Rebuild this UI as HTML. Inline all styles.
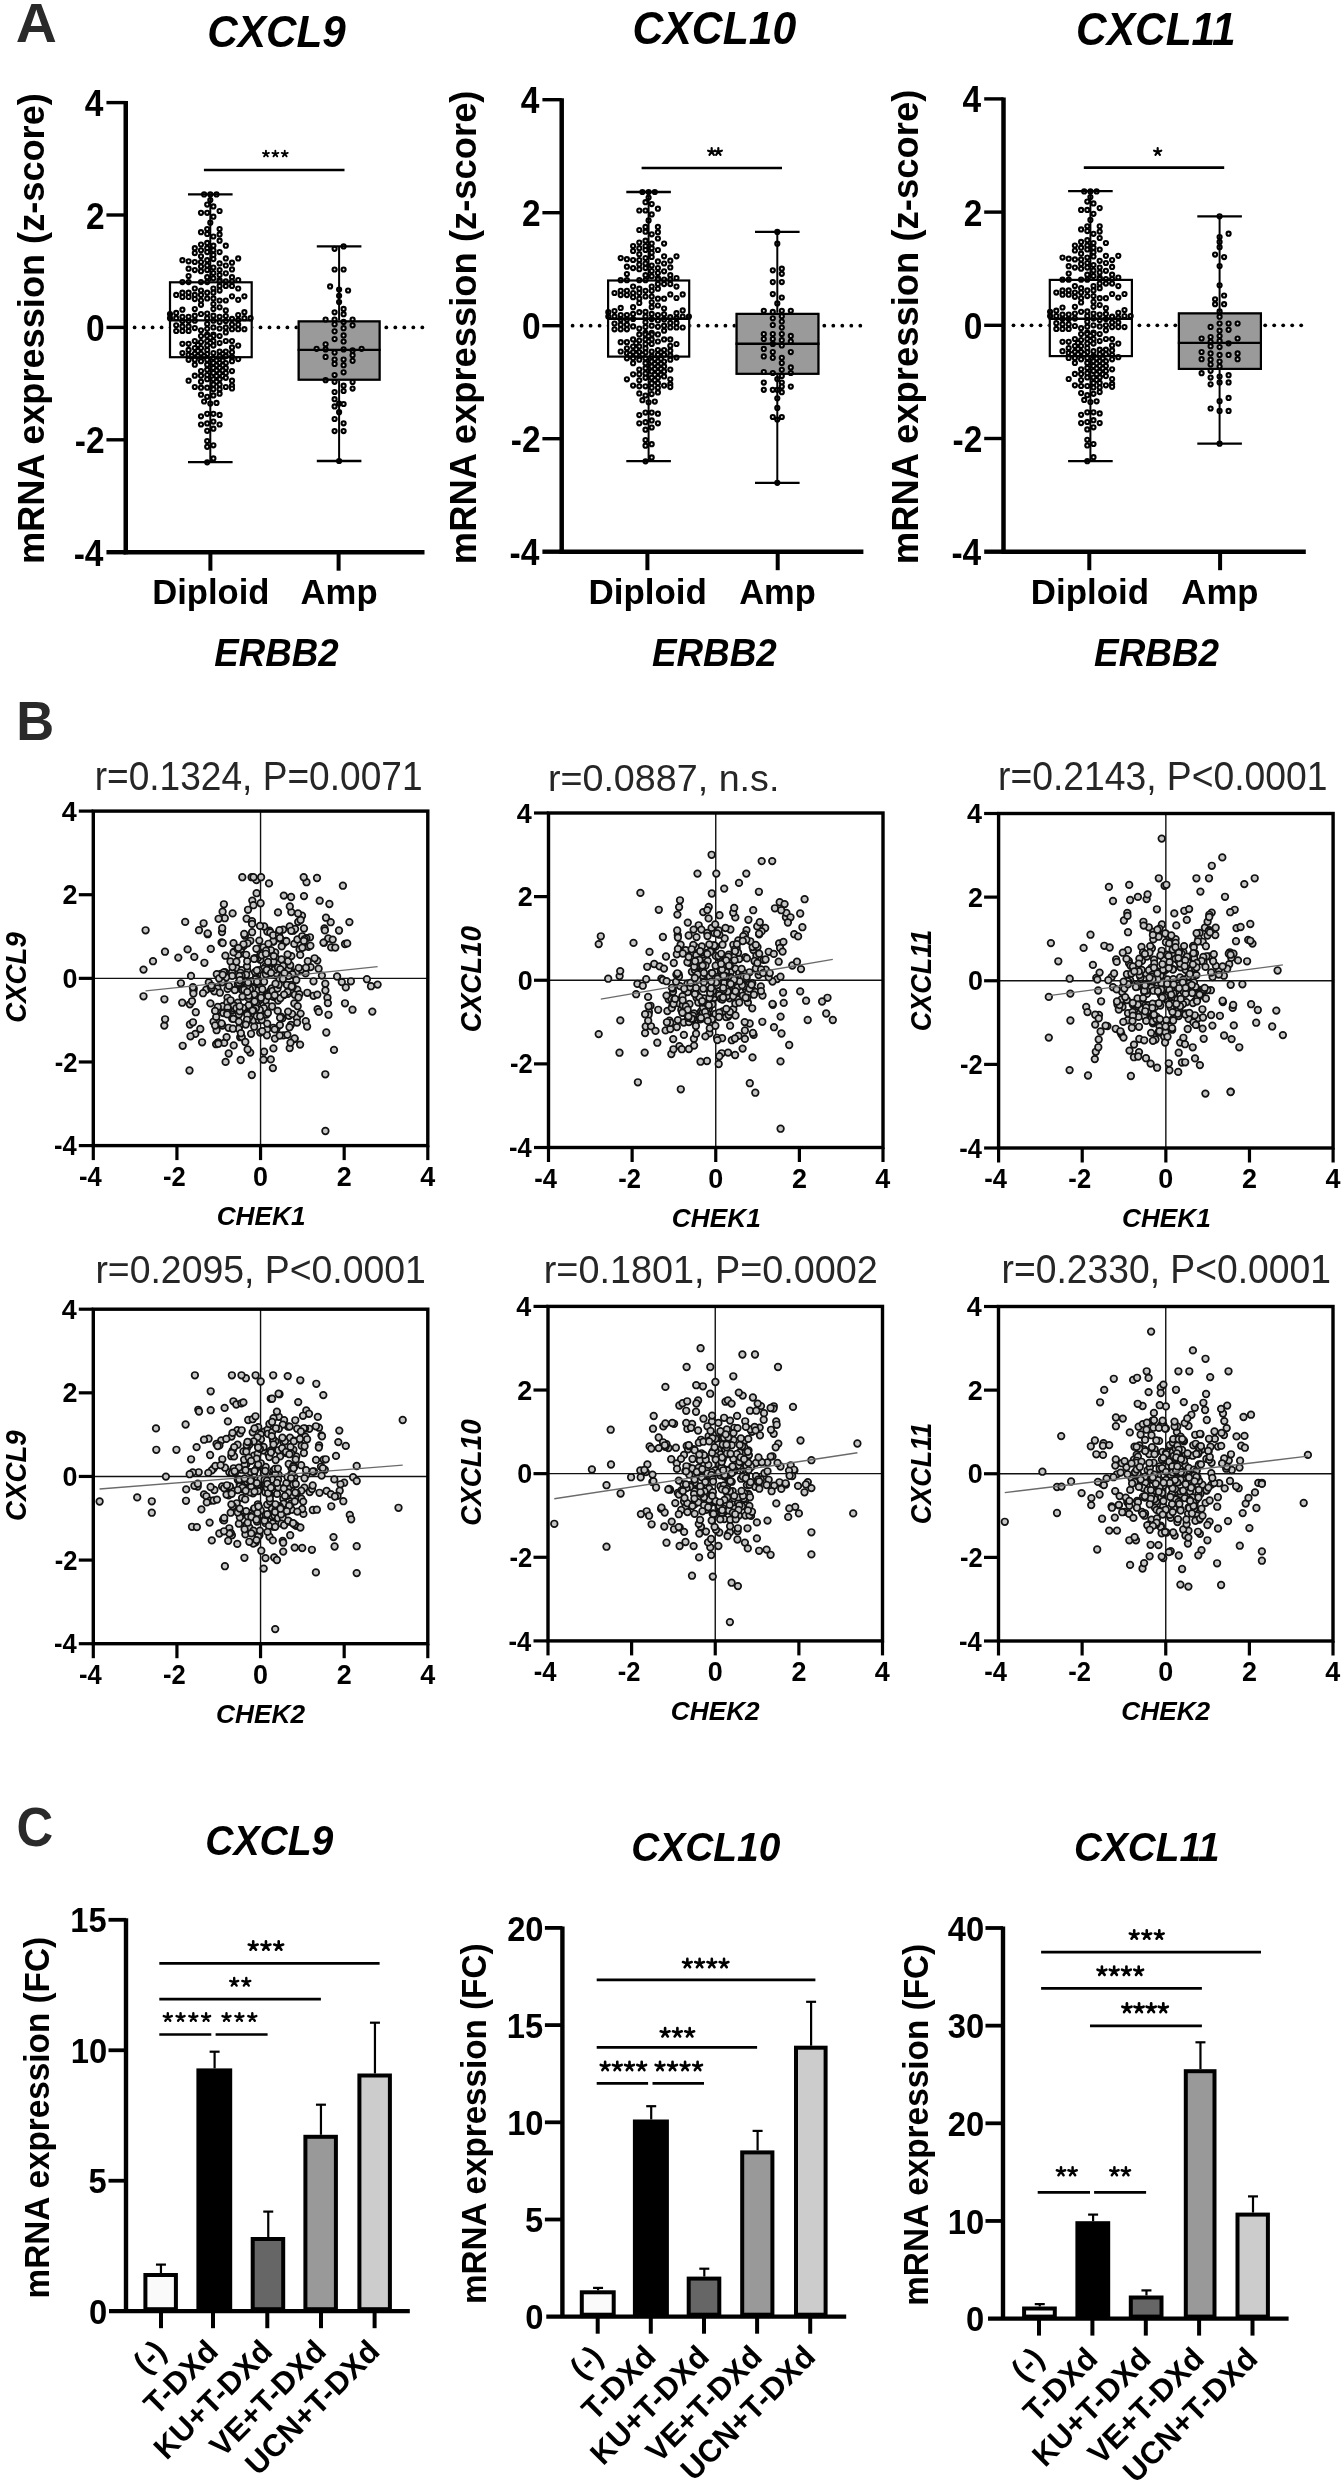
<!DOCTYPE html>
<html><head><meta charset="utf-8"><style>html,body{margin:0;padding:0;background:#fff;}svg{display:block;}#w{filter:grayscale(1);}</style></head>
<body><div id="w"><svg width="1342" height="2485" viewBox="0 0 1342 2485">
<rect width="1342" height="2485" fill="#fff"/>
<text font-family="Liberation Sans, sans-serif" font-weight="bold" font-size="56.40" fill="#2a2a2a" transform="translate(15.78,42.00) scale(1.0096,1)">A</text>
<text font-family="Liberation Sans, sans-serif" font-weight="bold" font-size="55.38" fill="#2a2a2a" transform="translate(16.19,740.30) scale(0.9475,1)">B</text>
<text font-family="Liberation Sans, sans-serif" font-weight="bold" font-size="55.85" fill="#2a2a2a" transform="translate(16.42,1845.80) scale(0.9091,1)">C</text>
<text font-family="Liberation Sans, sans-serif" font-weight="bold" font-style="italic" font-size="45.11" fill="#000" transform="translate(207.24,46.50) scale(0.9368,1)">CXCL9</text>
<text font-family="Liberation Sans, sans-serif" font-weight="bold" font-size="37.50" fill="#000" transform="translate(44.30,564.08) rotate(-90) scale(0.9648,1)">mRNA expression (z-score)</text>
<g fill="#000"><circle cx="134.6" cy="327.4" r="1.9"/><circle cx="143.6" cy="327.4" r="1.9"/><circle cx="152.6" cy="327.4" r="1.9"/><circle cx="161.6" cy="327.4" r="1.9"/><circle cx="170.6" cy="327.4" r="1.9"/><circle cx="179.6" cy="327.4" r="1.9"/><circle cx="188.5" cy="327.4" r="1.9"/><circle cx="197.5" cy="327.4" r="1.9"/><circle cx="206.5" cy="327.4" r="1.9"/><circle cx="215.5" cy="327.4" r="1.9"/><circle cx="224.5" cy="327.4" r="1.9"/><circle cx="233.5" cy="327.4" r="1.9"/><circle cx="242.5" cy="327.4" r="1.9"/><circle cx="251.5" cy="327.4" r="1.9"/><circle cx="260.5" cy="327.4" r="1.9"/><circle cx="269.5" cy="327.4" r="1.9"/><circle cx="278.4" cy="327.4" r="1.9"/><circle cx="287.4" cy="327.4" r="1.9"/><circle cx="296.4" cy="327.4" r="1.9"/><circle cx="305.4" cy="327.4" r="1.9"/><circle cx="314.4" cy="327.4" r="1.9"/><circle cx="323.4" cy="327.4" r="1.9"/><circle cx="332.4" cy="327.4" r="1.9"/><circle cx="341.4" cy="327.4" r="1.9"/><circle cx="350.4" cy="327.4" r="1.9"/><circle cx="359.4" cy="327.4" r="1.9"/><circle cx="368.3" cy="327.4" r="1.9"/><circle cx="377.3" cy="327.4" r="1.9"/><circle cx="386.3" cy="327.4" r="1.9"/><circle cx="395.3" cy="327.4" r="1.9"/><circle cx="404.3" cy="327.4" r="1.9"/><circle cx="413.3" cy="327.4" r="1.9"/><circle cx="422.3" cy="327.4" r="1.9"/></g>
<rect x="168.90" y="281.20" width="83.90" height="77.10" fill="#fff"/>
<g fill="#f4f4f4" stroke="#000" stroke-width="2.1"><circle cx="204.1" cy="194.4" r="2.05"/><circle cx="210.3" cy="194.4" r="2.05"/><circle cx="216.5" cy="194.4" r="2.05"/><circle cx="210.3" cy="200.0" r="2.05"/><circle cx="207.2" cy="204.6" r="2.05"/><circle cx="213.4" cy="206.4" r="2.05"/><circle cx="219.6" cy="211.0" r="2.05"/><circle cx="201.0" cy="212.8" r="2.05"/><circle cx="207.2" cy="212.8" r="2.05"/><circle cx="213.4" cy="216.7" r="2.05"/><circle cx="210.3" cy="222.7" r="2.05"/><circle cx="207.2" cy="229.1" r="2.05"/><circle cx="219.6" cy="229.1" r="2.05"/><circle cx="201.0" cy="232.2" r="2.05"/><circle cx="207.2" cy="233.9" r="2.05"/><circle cx="219.6" cy="234.4" r="2.05"/><circle cx="213.4" cy="236.5" r="2.05"/><circle cx="219.6" cy="240.7" r="2.05"/><circle cx="207.2" cy="242.9" r="2.05"/><circle cx="201.0" cy="244.6" r="2.05"/><circle cx="213.4" cy="245.7" r="2.05"/><circle cx="225.8" cy="245.7" r="2.05"/><circle cx="194.8" cy="248.2" r="2.05"/><circle cx="207.2" cy="248.2" r="2.05"/><circle cx="201.0" cy="250.3" r="2.05"/><circle cx="213.4" cy="250.3" r="2.05"/><circle cx="207.2" cy="252.1" r="2.05"/><circle cx="219.6" cy="252.1" r="2.05"/><circle cx="194.8" cy="253.1" r="2.05"/><circle cx="213.4" cy="254.9" r="2.05"/><circle cx="201.0" cy="256.3" r="2.05"/><circle cx="238.2" cy="258.4" r="2.05"/><circle cx="225.8" cy="258.4" r="2.05"/><circle cx="213.4" cy="259.1" r="2.05"/><circle cx="182.4" cy="260.2" r="2.05"/><circle cx="207.2" cy="260.2" r="2.05"/><circle cx="188.6" cy="261.3" r="2.05"/><circle cx="194.8" cy="262.0" r="2.05"/><circle cx="201.0" cy="262.0" r="2.05"/><circle cx="232.0" cy="262.7" r="2.05"/><circle cx="219.6" cy="263.4" r="2.05"/><circle cx="207.2" cy="265.5" r="2.05"/><circle cx="225.8" cy="265.5" r="2.05"/><circle cx="201.0" cy="266.6" r="2.05"/><circle cx="213.4" cy="267.6" r="2.05"/><circle cx="188.6" cy="268.7" r="2.05"/><circle cx="232.0" cy="269.4" r="2.05"/><circle cx="194.8" cy="270.1" r="2.05"/><circle cx="207.2" cy="270.1" r="2.05"/><circle cx="219.6" cy="270.1" r="2.05"/><circle cx="201.0" cy="271.2" r="2.05"/><circle cx="213.4" cy="273.0" r="2.05"/><circle cx="225.8" cy="273.3" r="2.05"/><circle cx="219.6" cy="275.1" r="2.05"/><circle cx="188.6" cy="276.1" r="2.05"/><circle cx="207.2" cy="277.2" r="2.05"/><circle cx="232.0" cy="277.2" r="2.05"/><circle cx="213.4" cy="278.3" r="2.05"/><circle cx="219.6" cy="280.0" r="2.05"/><circle cx="238.2" cy="280.0" r="2.05"/><circle cx="225.8" cy="281.4" r="2.05"/><circle cx="232.0" cy="281.4" r="2.05"/><circle cx="219.6" cy="281.4" r="2.05"/><circle cx="182.4" cy="282.1" r="2.05"/><circle cx="188.6" cy="282.1" r="2.05"/><circle cx="201.0" cy="282.1" r="2.05"/><circle cx="207.2" cy="282.1" r="2.05"/><circle cx="219.6" cy="286.0" r="2.05"/><circle cx="225.8" cy="286.0" r="2.05"/><circle cx="232.0" cy="286.0" r="2.05"/><circle cx="194.8" cy="288.5" r="2.05"/><circle cx="213.4" cy="288.5" r="2.05"/><circle cx="238.2" cy="288.5" r="2.05"/><circle cx="201.0" cy="290.6" r="2.05"/><circle cx="219.6" cy="290.6" r="2.05"/><circle cx="182.4" cy="292.7" r="2.05"/><circle cx="188.6" cy="292.7" r="2.05"/><circle cx="207.2" cy="292.7" r="2.05"/><circle cx="213.4" cy="292.7" r="2.05"/><circle cx="176.2" cy="294.9" r="2.05"/><circle cx="194.8" cy="294.9" r="2.05"/><circle cx="201.0" cy="294.9" r="2.05"/><circle cx="232.0" cy="296.3" r="2.05"/><circle cx="244.4" cy="296.3" r="2.05"/><circle cx="182.4" cy="297.0" r="2.05"/><circle cx="188.6" cy="297.0" r="2.05"/><circle cx="207.2" cy="298.4" r="2.05"/><circle cx="213.4" cy="298.4" r="2.05"/><circle cx="194.8" cy="299.1" r="2.05"/><circle cx="238.2" cy="299.8" r="2.05"/><circle cx="201.0" cy="300.5" r="2.05"/><circle cx="219.6" cy="300.5" r="2.05"/><circle cx="225.8" cy="300.5" r="2.05"/><circle cx="213.4" cy="304.1" r="2.05"/><circle cx="201.0" cy="304.8" r="2.05"/><circle cx="219.6" cy="307.3" r="2.05"/><circle cx="213.4" cy="309.0" r="2.05"/><circle cx="194.8" cy="309.0" r="2.05"/><circle cx="182.4" cy="309.7" r="2.05"/><circle cx="225.8" cy="310.4" r="2.05"/><circle cx="244.4" cy="312.2" r="2.05"/><circle cx="176.2" cy="312.9" r="2.05"/><circle cx="207.2" cy="313.6" r="2.05"/><circle cx="170.0" cy="314.0" r="2.05"/><circle cx="201.0" cy="314.0" r="2.05"/><circle cx="238.2" cy="315.0" r="2.05"/><circle cx="213.4" cy="315.7" r="2.05"/><circle cx="194.8" cy="315.7" r="2.05"/><circle cx="225.8" cy="316.1" r="2.05"/><circle cx="182.4" cy="316.8" r="2.05"/><circle cx="188.6" cy="316.8" r="2.05"/><circle cx="219.6" cy="316.8" r="2.05"/><circle cx="170.0" cy="318.2" r="2.05"/><circle cx="176.2" cy="318.2" r="2.05"/><circle cx="207.2" cy="318.2" r="2.05"/><circle cx="244.4" cy="318.2" r="2.05"/><circle cx="250.6" cy="318.2" r="2.05"/><circle cx="232.0" cy="318.9" r="2.05"/><circle cx="238.2" cy="320.0" r="2.05"/><circle cx="213.4" cy="320.7" r="2.05"/><circle cx="194.8" cy="320.7" r="2.05"/><circle cx="182.4" cy="321.1" r="2.05"/><circle cx="188.6" cy="321.1" r="2.05"/><circle cx="225.8" cy="321.1" r="2.05"/><circle cx="219.6" cy="322.1" r="2.05"/><circle cx="207.2" cy="323.9" r="2.05"/><circle cx="232.0" cy="324.6" r="2.05"/><circle cx="238.2" cy="324.6" r="2.05"/><circle cx="176.2" cy="325.3" r="2.05"/><circle cx="182.4" cy="326.4" r="2.05"/><circle cx="188.6" cy="326.4" r="2.05"/><circle cx="225.8" cy="327.4" r="2.05"/><circle cx="213.4" cy="327.4" r="2.05"/><circle cx="194.8" cy="328.1" r="2.05"/><circle cx="219.6" cy="328.5" r="2.05"/><circle cx="207.2" cy="328.8" r="2.05"/><circle cx="232.0" cy="329.2" r="2.05"/><circle cx="238.2" cy="329.2" r="2.05"/><circle cx="244.4" cy="329.2" r="2.05"/><circle cx="201.0" cy="330.3" r="2.05"/><circle cx="176.2" cy="331.0" r="2.05"/><circle cx="182.4" cy="331.0" r="2.05"/><circle cx="188.6" cy="331.0" r="2.05"/><circle cx="225.8" cy="332.4" r="2.05"/><circle cx="207.2" cy="334.5" r="2.05"/><circle cx="213.4" cy="334.5" r="2.05"/><circle cx="201.0" cy="336.1" r="2.05"/><circle cx="207.2" cy="336.1" r="2.05"/><circle cx="213.4" cy="336.1" r="2.05"/><circle cx="219.6" cy="336.1" r="2.05"/><circle cx="210.3" cy="337.8" r="2.05"/><circle cx="207.2" cy="341.0" r="2.05"/><circle cx="213.4" cy="341.0" r="2.05"/><circle cx="194.8" cy="341.0" r="2.05"/><circle cx="225.8" cy="341.0" r="2.05"/><circle cx="232.0" cy="341.0" r="2.05"/><circle cx="201.0" cy="342.1" r="2.05"/><circle cx="210.3" cy="343.1" r="2.05"/><circle cx="219.6" cy="343.1" r="2.05"/><circle cx="182.4" cy="343.8" r="2.05"/><circle cx="188.6" cy="343.8" r="2.05"/><circle cx="197.9" cy="344.9" r="2.05"/><circle cx="207.2" cy="345.6" r="2.05"/><circle cx="213.4" cy="345.6" r="2.05"/><circle cx="238.2" cy="345.6" r="2.05"/><circle cx="232.0" cy="347.4" r="2.05"/><circle cx="201.0" cy="348.1" r="2.05"/><circle cx="194.8" cy="348.1" r="2.05"/><circle cx="188.6" cy="349.9" r="2.05"/><circle cx="207.2" cy="349.9" r="2.05"/><circle cx="197.9" cy="350.9" r="2.05"/><circle cx="219.6" cy="351.6" r="2.05"/><circle cx="225.8" cy="351.6" r="2.05"/><circle cx="232.0" cy="352.3" r="2.05"/><circle cx="182.4" cy="353.1" r="2.05"/><circle cx="213.4" cy="353.1" r="2.05"/><circle cx="194.8" cy="353.8" r="2.05"/><circle cx="201.0" cy="353.8" r="2.05"/><circle cx="207.2" cy="354.1" r="2.05"/><circle cx="222.7" cy="354.1" r="2.05"/><circle cx="188.6" cy="354.8" r="2.05"/><circle cx="191.7" cy="356.2" r="2.05"/><circle cx="197.9" cy="356.2" r="2.05"/><circle cx="204.1" cy="356.2" r="2.05"/><circle cx="225.8" cy="356.2" r="2.05"/><circle cx="219.6" cy="356.2" r="2.05"/><circle cx="232.0" cy="356.9" r="2.05"/><circle cx="213.4" cy="358.0" r="2.05"/><circle cx="238.2" cy="359.1" r="2.05"/><circle cx="188.6" cy="359.8" r="2.05"/><circle cx="194.8" cy="359.8" r="2.05"/><circle cx="207.2" cy="359.8" r="2.05"/><circle cx="216.5" cy="360.5" r="2.05"/><circle cx="222.7" cy="360.5" r="2.05"/><circle cx="201.0" cy="361.2" r="2.05"/><circle cx="232.0" cy="361.2" r="2.05"/><circle cx="213.4" cy="363.0" r="2.05"/><circle cx="219.6" cy="363.0" r="2.05"/><circle cx="225.8" cy="363.0" r="2.05"/><circle cx="194.8" cy="364.7" r="2.05"/><circle cx="207.2" cy="364.7" r="2.05"/><circle cx="216.5" cy="365.4" r="2.05"/><circle cx="222.7" cy="365.4" r="2.05"/><circle cx="213.4" cy="367.9" r="2.05"/><circle cx="219.6" cy="367.9" r="2.05"/><circle cx="225.8" cy="367.9" r="2.05"/><circle cx="207.2" cy="369.7" r="2.05"/><circle cx="216.5" cy="370.4" r="2.05"/><circle cx="222.7" cy="370.4" r="2.05"/><circle cx="201.0" cy="371.1" r="2.05"/><circle cx="232.0" cy="371.1" r="2.05"/><circle cx="213.4" cy="372.9" r="2.05"/><circle cx="225.8" cy="372.9" r="2.05"/><circle cx="219.6" cy="373.6" r="2.05"/><circle cx="207.2" cy="375.0" r="2.05"/><circle cx="194.8" cy="375.7" r="2.05"/><circle cx="201.0" cy="375.7" r="2.05"/><circle cx="216.5" cy="376.1" r="2.05"/><circle cx="222.7" cy="376.1" r="2.05"/><circle cx="225.8" cy="377.8" r="2.05"/><circle cx="207.2" cy="379.2" r="2.05"/><circle cx="213.4" cy="379.2" r="2.05"/><circle cx="219.6" cy="379.2" r="2.05"/><circle cx="188.6" cy="380.7" r="2.05"/><circle cx="232.0" cy="380.7" r="2.05"/><circle cx="201.0" cy="381.7" r="2.05"/><circle cx="216.5" cy="381.7" r="2.05"/><circle cx="213.4" cy="384.6" r="2.05"/><circle cx="219.6" cy="384.6" r="2.05"/><circle cx="232.0" cy="385.6" r="2.05"/><circle cx="194.8" cy="387.0" r="2.05"/><circle cx="225.8" cy="387.0" r="2.05"/><circle cx="201.0" cy="387.7" r="2.05"/><circle cx="207.2" cy="387.7" r="2.05"/><circle cx="232.0" cy="388.5" r="2.05"/><circle cx="213.4" cy="389.2" r="2.05"/><circle cx="219.6" cy="389.2" r="2.05"/><circle cx="219.6" cy="393.7" r="2.05"/><circle cx="201.0" cy="394.7" r="2.05"/><circle cx="213.4" cy="395.4" r="2.05"/><circle cx="207.2" cy="396.8" r="2.05"/><circle cx="204.1" cy="401.5" r="2.05"/><circle cx="216.5" cy="402.9" r="2.05"/><circle cx="210.3" cy="403.6" r="2.05"/><circle cx="207.2" cy="413.8" r="2.05"/><circle cx="213.4" cy="413.8" r="2.05"/><circle cx="219.6" cy="414.9" r="2.05"/><circle cx="201.0" cy="416.3" r="2.05"/><circle cx="213.4" cy="421.6" r="2.05"/><circle cx="207.2" cy="423.4" r="2.05"/><circle cx="201.0" cy="424.5" r="2.05"/><circle cx="219.6" cy="424.5" r="2.05"/><circle cx="213.4" cy="428.7" r="2.05"/><circle cx="207.2" cy="430.8" r="2.05"/><circle cx="207.2" cy="441.1" r="2.05"/><circle cx="213.4" cy="445.3" r="2.05"/><circle cx="207.2" cy="446.8" r="2.05"/><circle cx="213.4" cy="458.4" r="2.05"/><circle cx="207.2" cy="462.3" r="2.05"/></g>
<rect x="170.00" y="282.30" width="81.70" height="74.90" fill="none" stroke="#000" stroke-width="2.2"/>
<line x1="210.30" y1="194.30" x2="210.30" y2="281.20" stroke="#000" stroke-width="2.0" />
<line x1="210.30" y1="358.30" x2="210.30" y2="462.20" stroke="#000" stroke-width="2.0" />
<line x1="188.00" y1="194.30" x2="232.60" y2="194.30" stroke="#000" stroke-width="2.3" />
<line x1="188.00" y1="462.20" x2="232.60" y2="462.20" stroke="#000" stroke-width="2.3" />
<line x1="168.90" y1="320.40" x2="252.80" y2="320.40" stroke="#000" stroke-width="2.4" />
<rect x="297.60" y="320.30" width="83.10" height="60.50" fill="#9a9a9a"/>
<g fill="#e0e0e0" stroke="#000" stroke-width="2.1"><circle cx="343.6" cy="246.4" r="2.05"/><circle cx="334.6" cy="248.8" r="2.05"/><circle cx="334.6" cy="269.5" r="2.05"/><circle cx="343.6" cy="269.5" r="2.05"/><circle cx="330.1" cy="286.4" r="2.05"/><circle cx="339.1" cy="289.6" r="2.05"/><circle cx="348.1" cy="290.5" r="2.05"/><circle cx="339.1" cy="295.8" r="2.05"/><circle cx="339.1" cy="302.1" r="2.05"/><circle cx="343.6" cy="308.9" r="2.05"/><circle cx="334.6" cy="312.3" r="2.05"/><circle cx="343.6" cy="314.2" r="2.05"/><circle cx="325.6" cy="319.5" r="2.05"/><circle cx="334.6" cy="319.5" r="2.05"/><circle cx="352.6" cy="319.5" r="2.05"/><circle cx="343.6" cy="321.9" r="2.05"/><circle cx="334.6" cy="324.3" r="2.05"/><circle cx="352.6" cy="325.3" r="2.05"/><circle cx="343.6" cy="328.2" r="2.05"/><circle cx="334.6" cy="331.3" r="2.05"/><circle cx="343.6" cy="335.4" r="2.05"/><circle cx="334.6" cy="339.1" r="2.05"/><circle cx="343.6" cy="341.5" r="2.05"/><circle cx="325.6" cy="344.3" r="2.05"/><circle cx="316.6" cy="348.8" r="2.05"/><circle cx="361.6" cy="348.8" r="2.05"/><circle cx="325.6" cy="349.4" r="2.05"/><circle cx="343.6" cy="349.4" r="2.05"/><circle cx="352.6" cy="350.4" r="2.05"/><circle cx="334.6" cy="352.6" r="2.05"/><circle cx="352.6" cy="355.2" r="2.05"/><circle cx="325.6" cy="356.9" r="2.05"/><circle cx="334.6" cy="359.6" r="2.05"/><circle cx="343.6" cy="359.6" r="2.05"/><circle cx="352.6" cy="360.8" r="2.05"/><circle cx="334.6" cy="363.9" r="2.05"/><circle cx="343.6" cy="365.2" r="2.05"/><circle cx="343.6" cy="372.3" r="2.05"/><circle cx="334.6" cy="375.0" r="2.05"/><circle cx="325.6" cy="380.2" r="2.05"/><circle cx="334.6" cy="381.8" r="2.05"/><circle cx="352.6" cy="382.0" r="2.05"/><circle cx="343.6" cy="385.7" r="2.05"/><circle cx="352.6" cy="388.6" r="2.05"/><circle cx="343.6" cy="391.0" r="2.05"/><circle cx="334.6" cy="392.0" r="2.05"/><circle cx="334.6" cy="399.2" r="2.05"/><circle cx="339.1" cy="403.5" r="2.05"/><circle cx="343.6" cy="404.0" r="2.05"/><circle cx="334.6" cy="406.4" r="2.05"/><circle cx="339.1" cy="412.2" r="2.05"/><circle cx="334.6" cy="419.0" r="2.05"/><circle cx="343.6" cy="423.3" r="2.05"/><circle cx="334.6" cy="431.1" r="2.05"/><circle cx="343.6" cy="431.1" r="2.05"/><circle cx="339.1" cy="461.0" r="2.05"/></g>
<rect x="298.70" y="321.40" width="80.90" height="58.30" fill="none" stroke="#000" stroke-width="2.2"/>
<line x1="339.10" y1="246.40" x2="339.10" y2="320.30" stroke="#000" stroke-width="2.0" />
<line x1="339.10" y1="380.80" x2="339.10" y2="461.00" stroke="#000" stroke-width="2.0" />
<line x1="316.80" y1="246.40" x2="361.40" y2="246.40" stroke="#000" stroke-width="2.3" />
<line x1="316.80" y1="461.00" x2="361.40" y2="461.00" stroke="#000" stroke-width="2.3" />
<line x1="297.60" y1="349.90" x2="380.70" y2="349.90" stroke="#000" stroke-width="2.4" />
<line x1="125.75" y1="101.10" x2="125.75" y2="554.30" stroke="#000" stroke-width="4.5" />
<line x1="123.55" y1="552.20" x2="424.50" y2="552.20" stroke="#000" stroke-width="4.4" />
<line x1="106.45" y1="102.60" x2="125.75" y2="102.60" stroke="#000" stroke-width="3.4" />
<line x1="106.45" y1="215.00" x2="125.75" y2="215.00" stroke="#000" stroke-width="3.4" />
<line x1="106.45" y1="327.40" x2="125.75" y2="327.40" stroke="#000" stroke-width="3.4" />
<line x1="106.45" y1="439.80" x2="125.75" y2="439.80" stroke="#000" stroke-width="3.4" />
<line x1="106.45" y1="552.20" x2="125.75" y2="552.20" stroke="#000" stroke-width="4.4" />
<line x1="210.40" y1="552.20" x2="210.40" y2="570.70" stroke="#000" stroke-width="4.0" />
<line x1="338.60" y1="552.20" x2="338.60" y2="570.70" stroke="#000" stroke-width="4.0" />
<text font-family="Liberation Sans, sans-serif" font-weight="bold" font-size="36.80" fill="#000" transform="translate(84.81,116.10) scale(0.9100,1)">4</text>
<text font-family="Liberation Sans, sans-serif" font-weight="bold" font-size="36.80" fill="#000" transform="translate(85.97,228.50) scale(0.9100,1)">2</text>
<text font-family="Liberation Sans, sans-serif" font-weight="bold" font-size="36.80" fill="#000" transform="translate(86.00,340.90) scale(0.9100,1)">0</text>
<text font-family="Liberation Sans, sans-serif" font-weight="bold" font-size="36.80" fill="#000" transform="translate(74.81,453.30) scale(0.9100,1)">-2</text>
<text font-family="Liberation Sans, sans-serif" font-weight="bold" font-size="36.80" fill="#000" transform="translate(73.65,565.70) scale(0.9100,1)">-4</text>
<text font-family="Liberation Sans, sans-serif" font-weight="bold" font-size="34.59" fill="#000" transform="translate(152.18,603.50) scale(1.0008,1)">Diploid</text>
<text font-family="Liberation Sans, sans-serif" font-weight="bold" font-size="34.59" fill="#000" transform="translate(300.54,603.50) scale(1.0028,1)">Amp</text>
<text font-family="Liberation Sans, sans-serif" font-weight="bold" font-style="italic" font-size="38.10" fill="#000" transform="translate(214.26,665.70) scale(0.9628,1)">ERBB2</text>
<line x1="203.90" y1="170.00" x2="344.50" y2="170.00" stroke="#000" stroke-width="2.6" />
<path d="M265.95,153.80L265.95,150.61M265.95,153.80L268.99,152.82M265.95,153.80L262.91,152.82M265.95,153.80L264.07,156.39M265.95,153.80L267.83,156.39M275.35,153.80L275.35,150.61M275.35,153.80L278.39,152.82M275.35,153.80L272.31,152.82M275.35,153.80L273.47,156.39M275.35,153.80L277.23,156.39M284.75,153.80L284.75,150.61M284.75,153.80L287.79,152.82M284.75,153.80L281.71,152.82M284.75,153.80L282.87,156.39M284.75,153.80L286.63,156.39" stroke="#000" stroke-width="1.82" stroke-linecap="round" fill="none"/>
<text font-family="Liberation Sans, sans-serif" font-weight="bold" font-style="italic" font-size="45.83" fill="#000" transform="translate(632.51,43.90) scale(0.9321,1)">CXCL10</text>
<text font-family="Liberation Sans, sans-serif" font-weight="bold" font-size="37.50" fill="#000" transform="translate(476.20,564.20) rotate(-90) scale(0.9702,1)">mRNA expression (z-score)</text>
<g fill="#000"><circle cx="572.6" cy="325.7" r="1.9"/><circle cx="581.6" cy="325.7" r="1.9"/><circle cx="590.6" cy="325.7" r="1.9"/><circle cx="599.6" cy="325.7" r="1.9"/><circle cx="608.6" cy="325.7" r="1.9"/><circle cx="617.6" cy="325.7" r="1.9"/><circle cx="626.5" cy="325.7" r="1.9"/><circle cx="635.5" cy="325.7" r="1.9"/><circle cx="644.5" cy="325.7" r="1.9"/><circle cx="653.5" cy="325.7" r="1.9"/><circle cx="662.5" cy="325.7" r="1.9"/><circle cx="671.5" cy="325.7" r="1.9"/><circle cx="680.5" cy="325.7" r="1.9"/><circle cx="689.5" cy="325.7" r="1.9"/><circle cx="698.5" cy="325.7" r="1.9"/><circle cx="707.5" cy="325.7" r="1.9"/><circle cx="716.4" cy="325.7" r="1.9"/><circle cx="725.4" cy="325.7" r="1.9"/><circle cx="734.4" cy="325.7" r="1.9"/><circle cx="743.4" cy="325.7" r="1.9"/><circle cx="752.4" cy="325.7" r="1.9"/><circle cx="761.4" cy="325.7" r="1.9"/><circle cx="770.4" cy="325.7" r="1.9"/><circle cx="779.4" cy="325.7" r="1.9"/><circle cx="788.4" cy="325.7" r="1.9"/><circle cx="797.4" cy="325.7" r="1.9"/><circle cx="806.3" cy="325.7" r="1.9"/><circle cx="815.3" cy="325.7" r="1.9"/><circle cx="824.3" cy="325.7" r="1.9"/><circle cx="833.3" cy="325.7" r="1.9"/><circle cx="842.3" cy="325.7" r="1.9"/><circle cx="851.3" cy="325.7" r="1.9"/><circle cx="860.3" cy="325.7" r="1.9"/></g>
<rect x="607.00" y="279.40" width="83.30" height="78.30" fill="#fff"/>
<g fill="#f4f4f4" stroke="#000" stroke-width="2.1"><circle cx="642.4" cy="192.0" r="2.05"/><circle cx="648.6" cy="192.0" r="2.05"/><circle cx="654.8" cy="192.0" r="2.05"/><circle cx="648.6" cy="197.6" r="2.05"/><circle cx="645.5" cy="202.2" r="2.05"/><circle cx="651.7" cy="204.1" r="2.05"/><circle cx="657.9" cy="208.7" r="2.05"/><circle cx="639.3" cy="210.5" r="2.05"/><circle cx="645.5" cy="210.5" r="2.05"/><circle cx="651.7" cy="214.4" r="2.05"/><circle cx="648.6" cy="220.4" r="2.05"/><circle cx="645.5" cy="226.9" r="2.05"/><circle cx="657.9" cy="226.9" r="2.05"/><circle cx="639.3" cy="230.0" r="2.05"/><circle cx="645.5" cy="231.7" r="2.05"/><circle cx="657.9" cy="232.2" r="2.05"/><circle cx="651.7" cy="234.3" r="2.05"/><circle cx="657.9" cy="238.5" r="2.05"/><circle cx="645.5" cy="240.7" r="2.05"/><circle cx="639.3" cy="242.5" r="2.05"/><circle cx="651.7" cy="243.6" r="2.05"/><circle cx="664.1" cy="243.6" r="2.05"/><circle cx="633.1" cy="246.1" r="2.05"/><circle cx="645.5" cy="246.1" r="2.05"/><circle cx="639.3" cy="248.2" r="2.05"/><circle cx="651.7" cy="248.2" r="2.05"/><circle cx="645.5" cy="250.0" r="2.05"/><circle cx="657.9" cy="250.0" r="2.05"/><circle cx="633.1" cy="251.0" r="2.05"/><circle cx="651.7" cy="252.8" r="2.05"/><circle cx="639.3" cy="254.2" r="2.05"/><circle cx="676.5" cy="256.3" r="2.05"/><circle cx="664.1" cy="256.3" r="2.05"/><circle cx="651.7" cy="257.0" r="2.05"/><circle cx="620.7" cy="258.1" r="2.05"/><circle cx="645.5" cy="258.1" r="2.05"/><circle cx="626.9" cy="259.2" r="2.05"/><circle cx="633.1" cy="260.0" r="2.05"/><circle cx="639.3" cy="260.0" r="2.05"/><circle cx="670.3" cy="260.7" r="2.05"/><circle cx="657.9" cy="261.4" r="2.05"/><circle cx="645.5" cy="263.5" r="2.05"/><circle cx="664.1" cy="263.5" r="2.05"/><circle cx="639.3" cy="264.6" r="2.05"/><circle cx="651.7" cy="265.6" r="2.05"/><circle cx="626.9" cy="266.7" r="2.05"/><circle cx="670.3" cy="267.4" r="2.05"/><circle cx="633.1" cy="268.1" r="2.05"/><circle cx="645.5" cy="268.1" r="2.05"/><circle cx="657.9" cy="268.1" r="2.05"/><circle cx="639.3" cy="269.2" r="2.05"/><circle cx="651.7" cy="271.0" r="2.05"/><circle cx="664.1" cy="271.3" r="2.05"/><circle cx="657.9" cy="273.1" r="2.05"/><circle cx="626.9" cy="274.1" r="2.05"/><circle cx="645.5" cy="275.2" r="2.05"/><circle cx="670.3" cy="275.2" r="2.05"/><circle cx="651.7" cy="276.3" r="2.05"/><circle cx="657.9" cy="278.0" r="2.05"/><circle cx="676.5" cy="278.0" r="2.05"/><circle cx="664.1" cy="279.5" r="2.05"/><circle cx="670.3" cy="279.5" r="2.05"/><circle cx="657.9" cy="279.5" r="2.05"/><circle cx="620.7" cy="280.2" r="2.05"/><circle cx="626.9" cy="280.2" r="2.05"/><circle cx="639.3" cy="280.2" r="2.05"/><circle cx="645.5" cy="280.2" r="2.05"/><circle cx="657.9" cy="284.1" r="2.05"/><circle cx="664.1" cy="284.1" r="2.05"/><circle cx="670.3" cy="284.1" r="2.05"/><circle cx="633.1" cy="286.6" r="2.05"/><circle cx="651.7" cy="286.6" r="2.05"/><circle cx="676.5" cy="286.6" r="2.05"/><circle cx="639.3" cy="288.7" r="2.05"/><circle cx="657.9" cy="288.7" r="2.05"/><circle cx="620.7" cy="290.8" r="2.05"/><circle cx="626.9" cy="290.8" r="2.05"/><circle cx="645.5" cy="290.8" r="2.05"/><circle cx="651.7" cy="290.8" r="2.05"/><circle cx="614.5" cy="293.0" r="2.05"/><circle cx="633.1" cy="293.0" r="2.05"/><circle cx="639.3" cy="293.0" r="2.05"/><circle cx="670.3" cy="294.4" r="2.05"/><circle cx="682.7" cy="294.4" r="2.05"/><circle cx="620.7" cy="295.1" r="2.05"/><circle cx="626.9" cy="295.1" r="2.05"/><circle cx="645.5" cy="296.5" r="2.05"/><circle cx="651.7" cy="296.5" r="2.05"/><circle cx="633.1" cy="297.2" r="2.05"/><circle cx="676.5" cy="298.0" r="2.05"/><circle cx="639.3" cy="298.7" r="2.05"/><circle cx="657.9" cy="298.7" r="2.05"/><circle cx="664.1" cy="298.7" r="2.05"/><circle cx="651.7" cy="302.3" r="2.05"/><circle cx="639.3" cy="303.0" r="2.05"/><circle cx="657.9" cy="305.5" r="2.05"/><circle cx="651.7" cy="307.2" r="2.05"/><circle cx="633.1" cy="307.2" r="2.05"/><circle cx="620.7" cy="307.9" r="2.05"/><circle cx="664.1" cy="308.6" r="2.05"/><circle cx="682.7" cy="310.4" r="2.05"/><circle cx="614.5" cy="311.1" r="2.05"/><circle cx="645.5" cy="311.8" r="2.05"/><circle cx="608.3" cy="312.2" r="2.05"/><circle cx="639.3" cy="312.2" r="2.05"/><circle cx="676.5" cy="313.2" r="2.05"/><circle cx="651.7" cy="313.9" r="2.05"/><circle cx="633.1" cy="313.9" r="2.05"/><circle cx="664.1" cy="314.3" r="2.05"/><circle cx="620.7" cy="315.0" r="2.05"/><circle cx="626.9" cy="315.0" r="2.05"/><circle cx="657.9" cy="315.0" r="2.05"/><circle cx="608.3" cy="316.5" r="2.05"/><circle cx="614.5" cy="316.5" r="2.05"/><circle cx="645.5" cy="316.5" r="2.05"/><circle cx="682.7" cy="316.5" r="2.05"/><circle cx="688.9" cy="316.5" r="2.05"/><circle cx="670.3" cy="317.2" r="2.05"/><circle cx="676.5" cy="318.3" r="2.05"/><circle cx="651.7" cy="319.0" r="2.05"/><circle cx="633.1" cy="319.0" r="2.05"/><circle cx="620.7" cy="319.4" r="2.05"/><circle cx="626.9" cy="319.4" r="2.05"/><circle cx="664.1" cy="319.4" r="2.05"/><circle cx="657.9" cy="320.4" r="2.05"/><circle cx="645.5" cy="322.2" r="2.05"/><circle cx="670.3" cy="322.9" r="2.05"/><circle cx="676.5" cy="322.9" r="2.05"/><circle cx="614.5" cy="323.6" r="2.05"/><circle cx="620.7" cy="324.7" r="2.05"/><circle cx="626.9" cy="324.7" r="2.05"/><circle cx="664.1" cy="325.7" r="2.05"/><circle cx="651.7" cy="325.7" r="2.05"/><circle cx="633.1" cy="326.4" r="2.05"/><circle cx="657.9" cy="326.8" r="2.05"/><circle cx="645.5" cy="327.1" r="2.05"/><circle cx="670.3" cy="327.5" r="2.05"/><circle cx="676.5" cy="327.5" r="2.05"/><circle cx="682.7" cy="327.5" r="2.05"/><circle cx="639.3" cy="328.6" r="2.05"/><circle cx="614.5" cy="329.3" r="2.05"/><circle cx="620.7" cy="329.3" r="2.05"/><circle cx="626.9" cy="329.3" r="2.05"/><circle cx="664.1" cy="330.7" r="2.05"/><circle cx="645.5" cy="332.8" r="2.05"/><circle cx="651.7" cy="332.8" r="2.05"/><circle cx="639.3" cy="334.4" r="2.05"/><circle cx="645.5" cy="334.4" r="2.05"/><circle cx="651.7" cy="334.4" r="2.05"/><circle cx="657.9" cy="334.4" r="2.05"/><circle cx="648.6" cy="336.2" r="2.05"/><circle cx="645.5" cy="339.4" r="2.05"/><circle cx="651.7" cy="339.4" r="2.05"/><circle cx="633.1" cy="339.4" r="2.05"/><circle cx="664.1" cy="339.4" r="2.05"/><circle cx="670.3" cy="339.4" r="2.05"/><circle cx="639.3" cy="340.5" r="2.05"/><circle cx="648.6" cy="341.5" r="2.05"/><circle cx="657.9" cy="341.5" r="2.05"/><circle cx="620.7" cy="342.2" r="2.05"/><circle cx="626.9" cy="342.2" r="2.05"/><circle cx="636.2" cy="343.3" r="2.05"/><circle cx="645.5" cy="344.0" r="2.05"/><circle cx="651.7" cy="344.0" r="2.05"/><circle cx="676.5" cy="344.0" r="2.05"/><circle cx="670.3" cy="345.8" r="2.05"/><circle cx="639.3" cy="346.5" r="2.05"/><circle cx="633.1" cy="346.5" r="2.05"/><circle cx="626.9" cy="348.3" r="2.05"/><circle cx="645.5" cy="348.3" r="2.05"/><circle cx="636.2" cy="349.3" r="2.05"/><circle cx="657.9" cy="350.0" r="2.05"/><circle cx="664.1" cy="350.0" r="2.05"/><circle cx="670.3" cy="350.7" r="2.05"/><circle cx="620.7" cy="351.5" r="2.05"/><circle cx="651.7" cy="351.5" r="2.05"/><circle cx="633.1" cy="352.2" r="2.05"/><circle cx="639.3" cy="352.2" r="2.05"/><circle cx="645.5" cy="352.5" r="2.05"/><circle cx="661.0" cy="352.5" r="2.05"/><circle cx="626.9" cy="353.2" r="2.05"/><circle cx="630.0" cy="354.7" r="2.05"/><circle cx="636.2" cy="354.7" r="2.05"/><circle cx="642.4" cy="354.7" r="2.05"/><circle cx="664.1" cy="354.7" r="2.05"/><circle cx="657.9" cy="354.7" r="2.05"/><circle cx="670.3" cy="355.4" r="2.05"/><circle cx="651.7" cy="356.5" r="2.05"/><circle cx="676.5" cy="357.6" r="2.05"/><circle cx="626.9" cy="358.3" r="2.05"/><circle cx="633.1" cy="358.3" r="2.05"/><circle cx="645.5" cy="358.3" r="2.05"/><circle cx="654.8" cy="359.0" r="2.05"/><circle cx="661.0" cy="359.0" r="2.05"/><circle cx="639.3" cy="359.7" r="2.05"/><circle cx="670.3" cy="359.7" r="2.05"/><circle cx="651.7" cy="361.5" r="2.05"/><circle cx="657.9" cy="361.5" r="2.05"/><circle cx="664.1" cy="361.5" r="2.05"/><circle cx="633.1" cy="363.2" r="2.05"/><circle cx="645.5" cy="363.2" r="2.05"/><circle cx="654.8" cy="363.9" r="2.05"/><circle cx="661.0" cy="363.9" r="2.05"/><circle cx="651.7" cy="366.4" r="2.05"/><circle cx="657.9" cy="366.4" r="2.05"/><circle cx="664.1" cy="366.4" r="2.05"/><circle cx="645.5" cy="368.2" r="2.05"/><circle cx="654.8" cy="368.9" r="2.05"/><circle cx="661.0" cy="368.9" r="2.05"/><circle cx="639.3" cy="369.6" r="2.05"/><circle cx="670.3" cy="369.6" r="2.05"/><circle cx="651.7" cy="371.4" r="2.05"/><circle cx="664.1" cy="371.4" r="2.05"/><circle cx="657.9" cy="372.1" r="2.05"/><circle cx="645.5" cy="373.6" r="2.05"/><circle cx="633.1" cy="374.3" r="2.05"/><circle cx="639.3" cy="374.3" r="2.05"/><circle cx="654.8" cy="374.7" r="2.05"/><circle cx="661.0" cy="374.7" r="2.05"/><circle cx="664.1" cy="376.4" r="2.05"/><circle cx="645.5" cy="377.8" r="2.05"/><circle cx="651.7" cy="377.8" r="2.05"/><circle cx="657.9" cy="377.8" r="2.05"/><circle cx="626.9" cy="379.3" r="2.05"/><circle cx="670.3" cy="379.3" r="2.05"/><circle cx="639.3" cy="380.3" r="2.05"/><circle cx="654.8" cy="380.3" r="2.05"/><circle cx="651.7" cy="383.2" r="2.05"/><circle cx="657.9" cy="383.2" r="2.05"/><circle cx="670.3" cy="384.2" r="2.05"/><circle cx="633.1" cy="385.6" r="2.05"/><circle cx="664.1" cy="385.6" r="2.05"/><circle cx="639.3" cy="386.3" r="2.05"/><circle cx="645.5" cy="386.3" r="2.05"/><circle cx="670.3" cy="387.1" r="2.05"/><circle cx="651.7" cy="387.8" r="2.05"/><circle cx="657.9" cy="387.8" r="2.05"/><circle cx="657.9" cy="392.4" r="2.05"/><circle cx="639.3" cy="393.4" r="2.05"/><circle cx="651.7" cy="394.1" r="2.05"/><circle cx="645.5" cy="395.5" r="2.05"/><circle cx="642.4" cy="400.2" r="2.05"/><circle cx="654.8" cy="401.6" r="2.05"/><circle cx="648.6" cy="402.3" r="2.05"/><circle cx="645.5" cy="412.6" r="2.05"/><circle cx="651.7" cy="412.6" r="2.05"/><circle cx="657.9" cy="413.7" r="2.05"/><circle cx="639.3" cy="415.1" r="2.05"/><circle cx="651.7" cy="420.4" r="2.05"/><circle cx="645.5" cy="422.2" r="2.05"/><circle cx="639.3" cy="423.3" r="2.05"/><circle cx="657.9" cy="423.3" r="2.05"/><circle cx="651.7" cy="427.5" r="2.05"/><circle cx="645.5" cy="429.7" r="2.05"/><circle cx="645.5" cy="440.0" r="2.05"/><circle cx="651.7" cy="444.2" r="2.05"/><circle cx="645.5" cy="445.7" r="2.05"/><circle cx="651.7" cy="457.4" r="2.05"/><circle cx="645.5" cy="461.3" r="2.05"/></g>
<rect x="608.10" y="280.50" width="81.10" height="76.10" fill="none" stroke="#000" stroke-width="2.2"/>
<line x1="648.60" y1="192.00" x2="648.60" y2="279.40" stroke="#000" stroke-width="2.0" />
<line x1="648.60" y1="357.70" x2="648.60" y2="461.20" stroke="#000" stroke-width="2.0" />
<line x1="626.30" y1="192.00" x2="670.90" y2="192.00" stroke="#000" stroke-width="2.3" />
<line x1="626.30" y1="461.20" x2="670.90" y2="461.20" stroke="#000" stroke-width="2.3" />
<line x1="607.00" y1="318.80" x2="690.30" y2="318.80" stroke="#000" stroke-width="2.4" />
<rect x="735.50" y="312.80" width="84.00" height="62.10" fill="#9a9a9a"/>
<g fill="#e0e0e0" stroke="#000" stroke-width="2.1"><circle cx="777.3" cy="231.9" r="2.05"/><circle cx="777.3" cy="243.7" r="2.05"/><circle cx="781.8" cy="268.7" r="2.05"/><circle cx="772.8" cy="270.3" r="2.05"/><circle cx="781.8" cy="273.8" r="2.05"/><circle cx="772.8" cy="282.1" r="2.05"/><circle cx="781.8" cy="282.1" r="2.05"/><circle cx="772.8" cy="294.1" r="2.05"/><circle cx="781.8" cy="297.5" r="2.05"/><circle cx="777.3" cy="303.4" r="2.05"/><circle cx="763.8" cy="310.8" r="2.05"/><circle cx="781.8" cy="310.8" r="2.05"/><circle cx="790.8" cy="310.8" r="2.05"/><circle cx="772.8" cy="311.9" r="2.05"/><circle cx="781.8" cy="316.2" r="2.05"/><circle cx="772.8" cy="318.3" r="2.05"/><circle cx="781.8" cy="321.5" r="2.05"/><circle cx="772.8" cy="325.0" r="2.05"/><circle cx="781.8" cy="327.6" r="2.05"/><circle cx="763.8" cy="334.0" r="2.05"/><circle cx="772.8" cy="334.0" r="2.05"/><circle cx="781.8" cy="334.0" r="2.05"/><circle cx="790.8" cy="335.9" r="2.05"/><circle cx="763.8" cy="339.1" r="2.05"/><circle cx="772.8" cy="339.1" r="2.05"/><circle cx="781.8" cy="340.2" r="2.05"/><circle cx="790.8" cy="341.5" r="2.05"/><circle cx="772.8" cy="343.9" r="2.05"/><circle cx="781.8" cy="345.5" r="2.05"/><circle cx="763.8" cy="348.9" r="2.05"/><circle cx="772.8" cy="352.1" r="2.05"/><circle cx="790.8" cy="352.1" r="2.05"/><circle cx="763.8" cy="356.4" r="2.05"/><circle cx="772.8" cy="357.8" r="2.05"/><circle cx="781.8" cy="357.8" r="2.05"/><circle cx="781.8" cy="363.1" r="2.05"/><circle cx="790.8" cy="367.4" r="2.05"/><circle cx="781.8" cy="369.8" r="2.05"/><circle cx="763.8" cy="372.0" r="2.05"/><circle cx="772.8" cy="373.0" r="2.05"/><circle cx="790.8" cy="373.0" r="2.05"/><circle cx="781.8" cy="375.9" r="2.05"/><circle cx="777.3" cy="379.1" r="2.05"/><circle cx="763.8" cy="382.6" r="2.05"/><circle cx="781.8" cy="382.6" r="2.05"/><circle cx="781.8" cy="386.6" r="2.05"/><circle cx="790.8" cy="386.6" r="2.05"/><circle cx="763.8" cy="389.8" r="2.05"/><circle cx="772.8" cy="389.8" r="2.05"/><circle cx="777.3" cy="389.8" r="2.05"/><circle cx="781.8" cy="392.2" r="2.05"/><circle cx="777.3" cy="398.3" r="2.05"/><circle cx="777.3" cy="407.9" r="2.05"/><circle cx="772.8" cy="417.0" r="2.05"/><circle cx="781.8" cy="417.0" r="2.05"/><circle cx="777.3" cy="419.6" r="2.05"/><circle cx="777.3" cy="482.8" r="2.05"/></g>
<rect x="736.60" y="313.90" width="81.80" height="59.90" fill="none" stroke="#000" stroke-width="2.2"/>
<line x1="777.30" y1="231.90" x2="777.30" y2="312.80" stroke="#000" stroke-width="2.0" />
<line x1="777.30" y1="374.90" x2="777.30" y2="482.80" stroke="#000" stroke-width="2.0" />
<line x1="755.00" y1="231.90" x2="799.60" y2="231.90" stroke="#000" stroke-width="2.3" />
<line x1="755.00" y1="482.80" x2="799.60" y2="482.80" stroke="#000" stroke-width="2.3" />
<line x1="735.50" y1="343.70" x2="819.50" y2="343.70" stroke="#000" stroke-width="2.4" />
<line x1="561.70" y1="98.20" x2="561.70" y2="553.80" stroke="#000" stroke-width="4.5" />
<line x1="559.50" y1="551.70" x2="863.40" y2="551.70" stroke="#000" stroke-width="4.4" />
<line x1="542.40" y1="99.70" x2="561.70" y2="99.70" stroke="#000" stroke-width="3.4" />
<line x1="542.40" y1="212.70" x2="561.70" y2="212.70" stroke="#000" stroke-width="3.4" />
<line x1="542.40" y1="325.70" x2="561.70" y2="325.70" stroke="#000" stroke-width="3.4" />
<line x1="542.40" y1="438.70" x2="561.70" y2="438.70" stroke="#000" stroke-width="3.4" />
<line x1="542.40" y1="551.70" x2="561.70" y2="551.70" stroke="#000" stroke-width="4.4" />
<line x1="647.40" y1="551.70" x2="647.40" y2="570.20" stroke="#000" stroke-width="4.0" />
<line x1="777.70" y1="551.70" x2="777.70" y2="570.20" stroke="#000" stroke-width="4.0" />
<text font-family="Liberation Sans, sans-serif" font-weight="bold" font-size="36.80" fill="#000" transform="translate(520.76,113.20) scale(0.9100,1)">4</text>
<text font-family="Liberation Sans, sans-serif" font-weight="bold" font-size="36.80" fill="#000" transform="translate(521.92,226.20) scale(0.9100,1)">2</text>
<text font-family="Liberation Sans, sans-serif" font-weight="bold" font-size="36.80" fill="#000" transform="translate(521.95,339.20) scale(0.9100,1)">0</text>
<text font-family="Liberation Sans, sans-serif" font-weight="bold" font-size="36.80" fill="#000" transform="translate(510.76,452.20) scale(0.9100,1)">-2</text>
<text font-family="Liberation Sans, sans-serif" font-weight="bold" font-size="36.80" fill="#000" transform="translate(509.60,565.20) scale(0.9100,1)">-4</text>
<text font-family="Liberation Sans, sans-serif" font-weight="bold" font-size="34.59" fill="#000" transform="translate(588.46,603.50) scale(1.0114,1)">Diploid</text>
<text font-family="Liberation Sans, sans-serif" font-weight="bold" font-size="34.59" fill="#000" transform="translate(739.14,603.50) scale(0.9974,1)">Amp</text>
<text font-family="Liberation Sans, sans-serif" font-weight="bold" font-style="italic" font-size="37.95" fill="#000" transform="translate(651.95,666.20) scale(0.9711,1)">ERBB2</text>
<line x1="641.60" y1="168.00" x2="782.00" y2="168.00" stroke="#000" stroke-width="2.6" />
<path d="M711.68,151.86L711.68,148.08M711.68,151.86L715.27,150.69M711.68,151.86L708.08,150.69M711.68,151.86L709.45,154.92M711.68,151.86L713.90,154.92M718.32,151.86L718.32,148.08M718.32,151.86L721.92,150.69M718.32,151.86L714.73,150.69M718.32,151.86L716.10,154.92M718.32,151.86L720.55,154.92" stroke="#000" stroke-width="2.16" stroke-linecap="round" fill="none"/>
<text font-family="Liberation Sans, sans-serif" font-weight="bold" font-style="italic" font-size="45.97" fill="#000" transform="translate(1076.03,44.70) scale(0.9233,1)">CXCL11</text>
<text font-family="Liberation Sans, sans-serif" font-weight="bold" font-size="37.50" fill="#000" transform="translate(917.60,564.20) rotate(-90) scale(0.9720,1)">mRNA expression (z-score)</text>
<g fill="#000"><circle cx="1013.5" cy="325.3" r="1.9"/><circle cx="1022.5" cy="325.3" r="1.9"/><circle cx="1031.5" cy="325.3" r="1.9"/><circle cx="1040.5" cy="325.3" r="1.9"/><circle cx="1049.5" cy="325.3" r="1.9"/><circle cx="1058.5" cy="325.3" r="1.9"/><circle cx="1067.4" cy="325.3" r="1.9"/><circle cx="1076.4" cy="325.3" r="1.9"/><circle cx="1085.4" cy="325.3" r="1.9"/><circle cx="1094.4" cy="325.3" r="1.9"/><circle cx="1103.4" cy="325.3" r="1.9"/><circle cx="1112.4" cy="325.3" r="1.9"/><circle cx="1121.4" cy="325.3" r="1.9"/><circle cx="1130.4" cy="325.3" r="1.9"/><circle cx="1139.4" cy="325.3" r="1.9"/><circle cx="1148.4" cy="325.3" r="1.9"/><circle cx="1157.3" cy="325.3" r="1.9"/><circle cx="1166.3" cy="325.3" r="1.9"/><circle cx="1175.3" cy="325.3" r="1.9"/><circle cx="1184.3" cy="325.3" r="1.9"/><circle cx="1193.3" cy="325.3" r="1.9"/><circle cx="1202.3" cy="325.3" r="1.9"/><circle cx="1211.3" cy="325.3" r="1.9"/><circle cx="1220.3" cy="325.3" r="1.9"/><circle cx="1229.3" cy="325.3" r="1.9"/><circle cx="1238.3" cy="325.3" r="1.9"/><circle cx="1247.2" cy="325.3" r="1.9"/><circle cx="1256.2" cy="325.3" r="1.9"/><circle cx="1265.2" cy="325.3" r="1.9"/><circle cx="1274.2" cy="325.3" r="1.9"/><circle cx="1283.2" cy="325.3" r="1.9"/><circle cx="1292.2" cy="325.3" r="1.9"/><circle cx="1301.2" cy="325.3" r="1.9"/></g>
<rect x="1048.70" y="278.80" width="84.30" height="78.40" fill="#fff"/>
<g fill="#f4f4f4" stroke="#000" stroke-width="2.1"><circle cx="1084.2" cy="191.4" r="2.05"/><circle cx="1090.4" cy="191.4" r="2.05"/><circle cx="1096.6" cy="191.4" r="2.05"/><circle cx="1090.4" cy="197.0" r="2.05"/><circle cx="1087.3" cy="201.6" r="2.05"/><circle cx="1093.5" cy="203.4" r="2.05"/><circle cx="1099.7" cy="208.1" r="2.05"/><circle cx="1081.1" cy="209.9" r="2.05"/><circle cx="1087.3" cy="209.9" r="2.05"/><circle cx="1093.5" cy="213.8" r="2.05"/><circle cx="1090.4" cy="219.9" r="2.05"/><circle cx="1087.3" cy="226.3" r="2.05"/><circle cx="1099.7" cy="226.3" r="2.05"/><circle cx="1081.1" cy="229.4" r="2.05"/><circle cx="1087.3" cy="231.1" r="2.05"/><circle cx="1099.7" cy="231.6" r="2.05"/><circle cx="1093.5" cy="233.8" r="2.05"/><circle cx="1099.7" cy="238.0" r="2.05"/><circle cx="1087.3" cy="240.2" r="2.05"/><circle cx="1081.1" cy="241.9" r="2.05"/><circle cx="1093.5" cy="243.0" r="2.05"/><circle cx="1105.9" cy="243.0" r="2.05"/><circle cx="1074.9" cy="245.5" r="2.05"/><circle cx="1087.3" cy="245.5" r="2.05"/><circle cx="1081.1" cy="247.7" r="2.05"/><circle cx="1093.5" cy="247.7" r="2.05"/><circle cx="1087.3" cy="249.5" r="2.05"/><circle cx="1099.7" cy="249.5" r="2.05"/><circle cx="1074.9" cy="250.5" r="2.05"/><circle cx="1093.5" cy="252.3" r="2.05"/><circle cx="1081.1" cy="253.7" r="2.05"/><circle cx="1118.3" cy="255.8" r="2.05"/><circle cx="1105.9" cy="255.8" r="2.05"/><circle cx="1093.5" cy="256.5" r="2.05"/><circle cx="1062.5" cy="257.6" r="2.05"/><circle cx="1087.3" cy="257.6" r="2.05"/><circle cx="1068.7" cy="258.7" r="2.05"/><circle cx="1074.9" cy="259.4" r="2.05"/><circle cx="1081.1" cy="259.4" r="2.05"/><circle cx="1112.1" cy="260.1" r="2.05"/><circle cx="1099.7" cy="260.8" r="2.05"/><circle cx="1087.3" cy="263.0" r="2.05"/><circle cx="1105.9" cy="263.0" r="2.05"/><circle cx="1081.1" cy="264.1" r="2.05"/><circle cx="1093.5" cy="265.1" r="2.05"/><circle cx="1068.7" cy="266.2" r="2.05"/><circle cx="1112.1" cy="266.9" r="2.05"/><circle cx="1074.9" cy="267.6" r="2.05"/><circle cx="1087.3" cy="267.6" r="2.05"/><circle cx="1099.7" cy="267.6" r="2.05"/><circle cx="1081.1" cy="268.7" r="2.05"/><circle cx="1093.5" cy="270.5" r="2.05"/><circle cx="1105.9" cy="270.8" r="2.05"/><circle cx="1099.7" cy="272.6" r="2.05"/><circle cx="1068.7" cy="273.6" r="2.05"/><circle cx="1087.3" cy="274.7" r="2.05"/><circle cx="1112.1" cy="274.7" r="2.05"/><circle cx="1093.5" cy="275.9" r="2.05"/><circle cx="1099.7" cy="277.6" r="2.05"/><circle cx="1118.3" cy="277.6" r="2.05"/><circle cx="1105.9" cy="279.0" r="2.05"/><circle cx="1112.1" cy="279.0" r="2.05"/><circle cx="1099.7" cy="279.0" r="2.05"/><circle cx="1062.5" cy="279.7" r="2.05"/><circle cx="1068.7" cy="279.7" r="2.05"/><circle cx="1081.1" cy="279.7" r="2.05"/><circle cx="1087.3" cy="279.7" r="2.05"/><circle cx="1099.7" cy="283.6" r="2.05"/><circle cx="1105.9" cy="283.6" r="2.05"/><circle cx="1112.1" cy="283.6" r="2.05"/><circle cx="1074.9" cy="286.1" r="2.05"/><circle cx="1093.5" cy="286.1" r="2.05"/><circle cx="1118.3" cy="286.1" r="2.05"/><circle cx="1081.1" cy="288.2" r="2.05"/><circle cx="1099.7" cy="288.2" r="2.05"/><circle cx="1062.5" cy="290.4" r="2.05"/><circle cx="1068.7" cy="290.4" r="2.05"/><circle cx="1087.3" cy="290.4" r="2.05"/><circle cx="1093.5" cy="290.4" r="2.05"/><circle cx="1056.3" cy="292.6" r="2.05"/><circle cx="1074.9" cy="292.6" r="2.05"/><circle cx="1081.1" cy="292.6" r="2.05"/><circle cx="1112.1" cy="294.0" r="2.05"/><circle cx="1124.5" cy="294.0" r="2.05"/><circle cx="1062.5" cy="294.7" r="2.05"/><circle cx="1068.7" cy="294.7" r="2.05"/><circle cx="1087.3" cy="296.1" r="2.05"/><circle cx="1093.5" cy="296.1" r="2.05"/><circle cx="1074.9" cy="296.8" r="2.05"/><circle cx="1118.3" cy="297.5" r="2.05"/><circle cx="1081.1" cy="298.2" r="2.05"/><circle cx="1099.7" cy="298.2" r="2.05"/><circle cx="1105.9" cy="298.2" r="2.05"/><circle cx="1093.5" cy="301.8" r="2.05"/><circle cx="1081.1" cy="302.5" r="2.05"/><circle cx="1099.7" cy="305.1" r="2.05"/><circle cx="1093.5" cy="306.8" r="2.05"/><circle cx="1074.9" cy="306.8" r="2.05"/><circle cx="1062.5" cy="307.5" r="2.05"/><circle cx="1105.9" cy="308.2" r="2.05"/><circle cx="1124.5" cy="310.0" r="2.05"/><circle cx="1056.3" cy="310.7" r="2.05"/><circle cx="1087.3" cy="311.4" r="2.05"/><circle cx="1050.1" cy="311.8" r="2.05"/><circle cx="1081.1" cy="311.8" r="2.05"/><circle cx="1118.3" cy="312.8" r="2.05"/><circle cx="1093.5" cy="313.5" r="2.05"/><circle cx="1074.9" cy="313.5" r="2.05"/><circle cx="1105.9" cy="313.9" r="2.05"/><circle cx="1062.5" cy="314.6" r="2.05"/><circle cx="1068.7" cy="314.6" r="2.05"/><circle cx="1099.7" cy="314.6" r="2.05"/><circle cx="1050.1" cy="316.0" r="2.05"/><circle cx="1056.3" cy="316.0" r="2.05"/><circle cx="1087.3" cy="316.0" r="2.05"/><circle cx="1124.5" cy="316.0" r="2.05"/><circle cx="1130.7" cy="316.0" r="2.05"/><circle cx="1112.1" cy="316.7" r="2.05"/><circle cx="1118.3" cy="317.8" r="2.05"/><circle cx="1093.5" cy="318.6" r="2.05"/><circle cx="1074.9" cy="318.6" r="2.05"/><circle cx="1062.5" cy="319.0" r="2.05"/><circle cx="1068.7" cy="319.0" r="2.05"/><circle cx="1105.9" cy="319.0" r="2.05"/><circle cx="1099.7" cy="320.0" r="2.05"/><circle cx="1087.3" cy="321.8" r="2.05"/><circle cx="1112.1" cy="322.5" r="2.05"/><circle cx="1118.3" cy="322.5" r="2.05"/><circle cx="1056.3" cy="323.2" r="2.05"/><circle cx="1062.5" cy="324.3" r="2.05"/><circle cx="1068.7" cy="324.3" r="2.05"/><circle cx="1105.9" cy="325.3" r="2.05"/><circle cx="1093.5" cy="325.3" r="2.05"/><circle cx="1074.9" cy="326.0" r="2.05"/><circle cx="1099.7" cy="326.4" r="2.05"/><circle cx="1087.3" cy="326.7" r="2.05"/><circle cx="1112.1" cy="327.1" r="2.05"/><circle cx="1118.3" cy="327.1" r="2.05"/><circle cx="1124.5" cy="327.1" r="2.05"/><circle cx="1081.1" cy="328.2" r="2.05"/><circle cx="1056.3" cy="328.9" r="2.05"/><circle cx="1062.5" cy="328.9" r="2.05"/><circle cx="1068.7" cy="328.9" r="2.05"/><circle cx="1105.9" cy="330.3" r="2.05"/><circle cx="1087.3" cy="332.5" r="2.05"/><circle cx="1093.5" cy="332.5" r="2.05"/><circle cx="1081.1" cy="334.1" r="2.05"/><circle cx="1087.3" cy="334.1" r="2.05"/><circle cx="1093.5" cy="334.1" r="2.05"/><circle cx="1099.7" cy="334.1" r="2.05"/><circle cx="1090.4" cy="335.8" r="2.05"/><circle cx="1087.3" cy="339.0" r="2.05"/><circle cx="1093.5" cy="339.0" r="2.05"/><circle cx="1074.9" cy="339.0" r="2.05"/><circle cx="1105.9" cy="339.0" r="2.05"/><circle cx="1112.1" cy="339.0" r="2.05"/><circle cx="1081.1" cy="340.1" r="2.05"/><circle cx="1090.4" cy="341.1" r="2.05"/><circle cx="1099.7" cy="341.1" r="2.05"/><circle cx="1062.5" cy="341.8" r="2.05"/><circle cx="1068.7" cy="341.8" r="2.05"/><circle cx="1078.0" cy="342.9" r="2.05"/><circle cx="1087.3" cy="343.6" r="2.05"/><circle cx="1093.5" cy="343.6" r="2.05"/><circle cx="1118.3" cy="343.6" r="2.05"/><circle cx="1112.1" cy="345.4" r="2.05"/><circle cx="1081.1" cy="346.1" r="2.05"/><circle cx="1074.9" cy="346.1" r="2.05"/><circle cx="1068.7" cy="348.0" r="2.05"/><circle cx="1087.3" cy="348.0" r="2.05"/><circle cx="1078.0" cy="349.0" r="2.05"/><circle cx="1099.7" cy="349.7" r="2.05"/><circle cx="1105.9" cy="349.7" r="2.05"/><circle cx="1112.1" cy="350.4" r="2.05"/><circle cx="1062.5" cy="351.2" r="2.05"/><circle cx="1093.5" cy="351.2" r="2.05"/><circle cx="1074.9" cy="351.9" r="2.05"/><circle cx="1081.1" cy="351.9" r="2.05"/><circle cx="1087.3" cy="352.2" r="2.05"/><circle cx="1102.8" cy="352.2" r="2.05"/><circle cx="1068.7" cy="352.9" r="2.05"/><circle cx="1071.8" cy="354.3" r="2.05"/><circle cx="1078.0" cy="354.3" r="2.05"/><circle cx="1084.2" cy="354.3" r="2.05"/><circle cx="1105.9" cy="354.3" r="2.05"/><circle cx="1099.7" cy="354.3" r="2.05"/><circle cx="1112.1" cy="355.0" r="2.05"/><circle cx="1093.5" cy="356.1" r="2.05"/><circle cx="1118.3" cy="357.2" r="2.05"/><circle cx="1068.7" cy="357.9" r="2.05"/><circle cx="1074.9" cy="357.9" r="2.05"/><circle cx="1087.3" cy="357.9" r="2.05"/><circle cx="1096.6" cy="358.6" r="2.05"/><circle cx="1102.8" cy="358.6" r="2.05"/><circle cx="1081.1" cy="359.3" r="2.05"/><circle cx="1112.1" cy="359.3" r="2.05"/><circle cx="1093.5" cy="361.2" r="2.05"/><circle cx="1099.7" cy="361.2" r="2.05"/><circle cx="1105.9" cy="361.2" r="2.05"/><circle cx="1074.9" cy="362.9" r="2.05"/><circle cx="1087.3" cy="362.9" r="2.05"/><circle cx="1096.6" cy="363.6" r="2.05"/><circle cx="1102.8" cy="363.6" r="2.05"/><circle cx="1093.5" cy="366.1" r="2.05"/><circle cx="1099.7" cy="366.1" r="2.05"/><circle cx="1105.9" cy="366.1" r="2.05"/><circle cx="1087.3" cy="367.9" r="2.05"/><circle cx="1096.6" cy="368.6" r="2.05"/><circle cx="1102.8" cy="368.6" r="2.05"/><circle cx="1081.1" cy="369.3" r="2.05"/><circle cx="1112.1" cy="369.3" r="2.05"/><circle cx="1093.5" cy="371.1" r="2.05"/><circle cx="1105.9" cy="371.1" r="2.05"/><circle cx="1099.7" cy="371.8" r="2.05"/><circle cx="1087.3" cy="373.2" r="2.05"/><circle cx="1074.9" cy="373.9" r="2.05"/><circle cx="1081.1" cy="373.9" r="2.05"/><circle cx="1096.6" cy="374.3" r="2.05"/><circle cx="1102.8" cy="374.3" r="2.05"/><circle cx="1105.9" cy="376.1" r="2.05"/><circle cx="1087.3" cy="377.5" r="2.05"/><circle cx="1093.5" cy="377.5" r="2.05"/><circle cx="1099.7" cy="377.5" r="2.05"/><circle cx="1068.7" cy="379.0" r="2.05"/><circle cx="1112.1" cy="379.0" r="2.05"/><circle cx="1081.1" cy="380.0" r="2.05"/><circle cx="1096.6" cy="380.0" r="2.05"/><circle cx="1093.5" cy="382.9" r="2.05"/><circle cx="1099.7" cy="382.9" r="2.05"/><circle cx="1112.1" cy="383.9" r="2.05"/><circle cx="1074.9" cy="385.3" r="2.05"/><circle cx="1105.9" cy="385.3" r="2.05"/><circle cx="1081.1" cy="386.0" r="2.05"/><circle cx="1087.3" cy="386.0" r="2.05"/><circle cx="1112.1" cy="386.8" r="2.05"/><circle cx="1093.5" cy="387.5" r="2.05"/><circle cx="1099.7" cy="387.5" r="2.05"/><circle cx="1099.7" cy="392.1" r="2.05"/><circle cx="1081.1" cy="393.1" r="2.05"/><circle cx="1093.5" cy="393.8" r="2.05"/><circle cx="1087.3" cy="395.2" r="2.05"/><circle cx="1084.2" cy="399.9" r="2.05"/><circle cx="1096.6" cy="401.3" r="2.05"/><circle cx="1090.4" cy="402.0" r="2.05"/><circle cx="1087.3" cy="412.3" r="2.05"/><circle cx="1093.5" cy="412.3" r="2.05"/><circle cx="1099.7" cy="413.4" r="2.05"/><circle cx="1081.1" cy="414.8" r="2.05"/><circle cx="1093.5" cy="420.2" r="2.05"/><circle cx="1087.3" cy="422.0" r="2.05"/><circle cx="1081.1" cy="423.1" r="2.05"/><circle cx="1099.7" cy="423.1" r="2.05"/><circle cx="1093.5" cy="427.3" r="2.05"/><circle cx="1087.3" cy="429.4" r="2.05"/><circle cx="1087.3" cy="439.8" r="2.05"/><circle cx="1093.5" cy="444.0" r="2.05"/><circle cx="1087.3" cy="445.5" r="2.05"/><circle cx="1093.5" cy="457.2" r="2.05"/><circle cx="1087.3" cy="461.2" r="2.05"/></g>
<rect x="1049.80" y="279.90" width="82.10" height="76.20" fill="none" stroke="#000" stroke-width="2.2"/>
<line x1="1090.40" y1="191.20" x2="1090.40" y2="278.80" stroke="#000" stroke-width="2.0" />
<line x1="1090.40" y1="357.20" x2="1090.40" y2="461.10" stroke="#000" stroke-width="2.0" />
<line x1="1068.10" y1="191.20" x2="1112.70" y2="191.20" stroke="#000" stroke-width="2.3" />
<line x1="1068.10" y1="461.10" x2="1112.70" y2="461.10" stroke="#000" stroke-width="2.3" />
<line x1="1048.70" y1="318.80" x2="1133.00" y2="318.80" stroke="#000" stroke-width="2.4" />
<rect x="1177.80" y="312.30" width="84.20" height="57.70" fill="#9a9a9a"/>
<g fill="#e0e0e0" stroke="#000" stroke-width="2.1"><circle cx="1219.6" cy="216.3" r="2.05"/><circle cx="1228.6" cy="233.7" r="2.05"/><circle cx="1219.6" cy="237.0" r="2.05"/><circle cx="1219.6" cy="241.9" r="2.05"/><circle cx="1219.6" cy="247.2" r="2.05"/><circle cx="1215.1" cy="254.6" r="2.05"/><circle cx="1224.1" cy="257.1" r="2.05"/><circle cx="1219.6" cy="266.0" r="2.05"/><circle cx="1219.6" cy="285.3" r="2.05"/><circle cx="1224.1" cy="295.5" r="2.05"/><circle cx="1215.1" cy="299.3" r="2.05"/><circle cx="1215.1" cy="304.2" r="2.05"/><circle cx="1224.1" cy="304.2" r="2.05"/><circle cx="1219.6" cy="311.4" r="2.05"/><circle cx="1219.6" cy="316.7" r="2.05"/><circle cx="1219.6" cy="323.5" r="2.05"/><circle cx="1228.6" cy="323.5" r="2.05"/><circle cx="1237.6" cy="323.5" r="2.05"/><circle cx="1210.6" cy="326.9" r="2.05"/><circle cx="1228.6" cy="329.8" r="2.05"/><circle cx="1219.6" cy="330.7" r="2.05"/><circle cx="1219.6" cy="336.0" r="2.05"/><circle cx="1210.6" cy="337.0" r="2.05"/><circle cx="1201.6" cy="338.5" r="2.05"/><circle cx="1237.6" cy="338.5" r="2.05"/><circle cx="1219.6" cy="340.9" r="2.05"/><circle cx="1210.6" cy="341.8" r="2.05"/><circle cx="1228.6" cy="343.3" r="2.05"/><circle cx="1210.6" cy="346.2" r="2.05"/><circle cx="1219.6" cy="347.1" r="2.05"/><circle cx="1201.6" cy="352.0" r="2.05"/><circle cx="1210.6" cy="353.4" r="2.05"/><circle cx="1237.6" cy="353.4" r="2.05"/><circle cx="1219.6" cy="354.9" r="2.05"/><circle cx="1228.6" cy="354.9" r="2.05"/><circle cx="1201.6" cy="359.2" r="2.05"/><circle cx="1237.6" cy="359.2" r="2.05"/><circle cx="1210.6" cy="359.7" r="2.05"/><circle cx="1219.6" cy="361.6" r="2.05"/><circle cx="1210.6" cy="364.5" r="2.05"/><circle cx="1219.6" cy="366.5" r="2.05"/><circle cx="1210.6" cy="370.8" r="2.05"/><circle cx="1201.6" cy="373.2" r="2.05"/><circle cx="1228.6" cy="375.2" r="2.05"/><circle cx="1219.6" cy="376.6" r="2.05"/><circle cx="1210.6" cy="377.6" r="2.05"/><circle cx="1219.6" cy="382.4" r="2.05"/><circle cx="1228.6" cy="382.4" r="2.05"/><circle cx="1210.6" cy="384.3" r="2.05"/><circle cx="1228.6" cy="397.9" r="2.05"/><circle cx="1219.6" cy="401.2" r="2.05"/><circle cx="1210.6" cy="408.5" r="2.05"/><circle cx="1219.6" cy="410.9" r="2.05"/><circle cx="1228.6" cy="410.9" r="2.05"/><circle cx="1219.6" cy="443.7" r="2.05"/></g>
<rect x="1178.90" y="313.40" width="82.00" height="55.50" fill="none" stroke="#000" stroke-width="2.2"/>
<line x1="1219.60" y1="216.30" x2="1219.60" y2="312.30" stroke="#000" stroke-width="2.0" />
<line x1="1219.60" y1="370.00" x2="1219.60" y2="443.70" stroke="#000" stroke-width="2.0" />
<line x1="1197.30" y1="216.30" x2="1241.90" y2="216.30" stroke="#000" stroke-width="2.3" />
<line x1="1197.30" y1="443.70" x2="1241.90" y2="443.70" stroke="#000" stroke-width="2.3" />
<line x1="1177.80" y1="342.90" x2="1262.00" y2="342.90" stroke="#000" stroke-width="2.4" />
<line x1="1003.50" y1="97.40" x2="1003.50" y2="553.80" stroke="#000" stroke-width="4.5" />
<line x1="1001.30" y1="551.70" x2="1305.80" y2="551.70" stroke="#000" stroke-width="4.4" />
<line x1="984.20" y1="98.90" x2="1003.50" y2="98.90" stroke="#000" stroke-width="3.4" />
<line x1="984.20" y1="212.10" x2="1003.50" y2="212.10" stroke="#000" stroke-width="3.4" />
<line x1="984.20" y1="325.30" x2="1003.50" y2="325.30" stroke="#000" stroke-width="3.4" />
<line x1="984.20" y1="438.50" x2="1003.50" y2="438.50" stroke="#000" stroke-width="3.4" />
<line x1="984.20" y1="551.70" x2="1003.50" y2="551.70" stroke="#000" stroke-width="4.4" />
<line x1="1089.30" y1="551.70" x2="1089.30" y2="570.20" stroke="#000" stroke-width="4.0" />
<line x1="1220.10" y1="551.70" x2="1220.10" y2="570.20" stroke="#000" stroke-width="4.0" />
<text font-family="Liberation Sans, sans-serif" font-weight="bold" font-size="36.80" fill="#000" transform="translate(962.56,112.40) scale(0.9100,1)">4</text>
<text font-family="Liberation Sans, sans-serif" font-weight="bold" font-size="36.80" fill="#000" transform="translate(963.72,225.60) scale(0.9100,1)">2</text>
<text font-family="Liberation Sans, sans-serif" font-weight="bold" font-size="36.80" fill="#000" transform="translate(963.75,338.80) scale(0.9100,1)">0</text>
<text font-family="Liberation Sans, sans-serif" font-weight="bold" font-size="36.80" fill="#000" transform="translate(952.56,452.00) scale(0.9100,1)">-2</text>
<text font-family="Liberation Sans, sans-serif" font-weight="bold" font-size="36.80" fill="#000" transform="translate(951.40,565.20) scale(0.9100,1)">-4</text>
<text font-family="Liberation Sans, sans-serif" font-weight="bold" font-size="34.59" fill="#000" transform="translate(1030.87,603.50) scale(1.0088,1)">Diploid</text>
<text font-family="Liberation Sans, sans-serif" font-weight="bold" font-size="34.59" fill="#000" transform="translate(1181.34,603.50) scale(1.0028,1)">Amp</text>
<text font-family="Liberation Sans, sans-serif" font-weight="bold" font-style="italic" font-size="37.95" fill="#000" transform="translate(1094.05,666.20) scale(0.9727,1)">ERBB2</text>
<line x1="1083.80" y1="167.60" x2="1224.20" y2="167.60" stroke="#000" stroke-width="2.6" />
<path d="M1157.68,151.86L1157.68,148.08M1157.68,151.86L1161.27,150.69M1157.68,151.86L1154.08,150.69M1157.68,151.86L1155.45,154.92M1157.68,151.86L1159.90,154.92" stroke="#000" stroke-width="2.16" stroke-linecap="round" fill="none"/>
<text font-family="Liberation Sans, sans-serif" font-weight="normal" font-size="40.67" fill="#262626" transform="translate(94.64,790.00) scale(0.9124,1)">r=0.1324, P=0.0071</text>
<line x1="260.55" y1="811.10" x2="260.55" y2="1145.60" stroke="#111" stroke-width="1.4" />
<line x1="93.30" y1="978.35" x2="427.80" y2="978.35" stroke="#111" stroke-width="1.4" />
<g fill="#c6c6c6" stroke="#111" stroke-width="1.7"><circle cx="325.4" cy="1131.0" r="3.3"/><circle cx="210.4" cy="1003.4" r="3.3"/><circle cx="298.2" cy="921.9" r="3.3"/><circle cx="352.5" cy="1009.7" r="3.3"/><circle cx="164.4" cy="999.3" r="3.3"/><circle cx="256.4" cy="880.1" r="3.3"/><circle cx="306.5" cy="882.2" r="3.3"/><circle cx="317.0" cy="878.0" r="3.3"/><circle cx="145.6" cy="930.3" r="3.3"/><circle cx="377.6" cy="984.6" r="3.3"/><circle cx="238.9" cy="1014.6" r="3.3"/><circle cx="232.1" cy="971.9" r="3.3"/><circle cx="330.7" cy="922.2" r="3.3"/><circle cx="238.9" cy="982.3" r="3.3"/><circle cx="265.7" cy="1000.6" r="3.3"/><circle cx="273.4" cy="966.1" r="3.3"/><circle cx="275.6" cy="957.8" r="3.3"/><circle cx="143.5" cy="996.3" r="3.3"/><circle cx="259.8" cy="986.7" r="3.3"/><circle cx="256.0" cy="977.1" r="3.3"/><circle cx="274.9" cy="1038.6" r="3.3"/><circle cx="232.2" cy="975.9" r="3.3"/><circle cx="266.5" cy="1014.6" r="3.3"/><circle cx="269.5" cy="930.6" r="3.3"/><circle cx="248.7" cy="984.0" r="3.3"/><circle cx="180.9" cy="983.3" r="3.3"/><circle cx="331.2" cy="947.4" r="3.3"/><circle cx="294.3" cy="943.9" r="3.3"/><circle cx="275.3" cy="997.3" r="3.3"/><circle cx="261.5" cy="951.7" r="3.3"/><circle cx="222.7" cy="1006.2" r="3.3"/><circle cx="297.3" cy="989.6" r="3.3"/><circle cx="224.2" cy="1042.9" r="3.3"/><circle cx="240.2" cy="1037.2" r="3.3"/><circle cx="297.0" cy="971.6" r="3.3"/><circle cx="247.2" cy="970.2" r="3.3"/><circle cx="293.2" cy="930.7" r="3.3"/><circle cx="280.2" cy="976.4" r="3.3"/><circle cx="236.7" cy="968.1" r="3.3"/><circle cx="296.9" cy="1017.9" r="3.3"/><circle cx="248.0" cy="909.8" r="3.3"/><circle cx="267.8" cy="1006.3" r="3.3"/><circle cx="260.4" cy="959.7" r="3.3"/><circle cx="266.8" cy="974.2" r="3.3"/><circle cx="224.9" cy="972.1" r="3.3"/><circle cx="263.9" cy="992.9" r="3.3"/><circle cx="300.1" cy="1044.6" r="3.3"/><circle cx="307.3" cy="992.8" r="3.3"/><circle cx="269.1" cy="992.6" r="3.3"/><circle cx="284.0" cy="943.1" r="3.3"/><circle cx="305.6" cy="973.4" r="3.3"/><circle cx="260.3" cy="981.6" r="3.3"/><circle cx="274.2" cy="988.6" r="3.3"/><circle cx="241.7" cy="970.2" r="3.3"/><circle cx="247.6" cy="1021.0" r="3.3"/><circle cx="182.7" cy="1045.8" r="3.3"/><circle cx="272.9" cy="1068.1" r="3.3"/><circle cx="220.9" cy="974.0" r="3.3"/><circle cx="222.4" cy="1025.5" r="3.3"/><circle cx="178.3" cy="957.6" r="3.3"/><circle cx="254.2" cy="1026.7" r="3.3"/><circle cx="283.9" cy="995.1" r="3.3"/><circle cx="289.7" cy="968.0" r="3.3"/><circle cx="236.2" cy="988.9" r="3.3"/><circle cx="324.5" cy="928.4" r="3.3"/><circle cx="275.2" cy="952.4" r="3.3"/><circle cx="270.8" cy="990.4" r="3.3"/><circle cx="290.8" cy="1025.0" r="3.3"/><circle cx="264.3" cy="949.5" r="3.3"/><circle cx="232.5" cy="1010.2" r="3.3"/><circle cx="246.2" cy="974.8" r="3.3"/><circle cx="255.6" cy="979.1" r="3.3"/><circle cx="212.2" cy="986.2" r="3.3"/><circle cx="230.5" cy="961.5" r="3.3"/><circle cx="257.6" cy="991.0" r="3.3"/><circle cx="328.5" cy="1014.8" r="3.3"/><circle cx="290.5" cy="971.6" r="3.3"/><circle cx="246.6" cy="918.7" r="3.3"/><circle cx="248.0" cy="984.5" r="3.3"/><circle cx="278.1" cy="1000.6" r="3.3"/><circle cx="218.0" cy="1022.6" r="3.3"/><circle cx="294.5" cy="1039.0" r="3.3"/><circle cx="280.1" cy="938.5" r="3.3"/><circle cx="294.8" cy="994.7" r="3.3"/><circle cx="217.2" cy="1011.1" r="3.3"/><circle cx="283.3" cy="1035.4" r="3.3"/><circle cx="253.5" cy="1020.2" r="3.3"/><circle cx="278.0" cy="912.4" r="3.3"/><circle cx="164.3" cy="1025.6" r="3.3"/><circle cx="292.7" cy="986.7" r="3.3"/><circle cx="222.6" cy="911.7" r="3.3"/><circle cx="278.1" cy="933.5" r="3.3"/><circle cx="282.4" cy="1018.2" r="3.3"/><circle cx="270.3" cy="969.1" r="3.3"/><circle cx="262.2" cy="950.1" r="3.3"/><circle cx="281.0" cy="1016.7" r="3.3"/><circle cx="299.6" cy="949.4" r="3.3"/><circle cx="313.5" cy="995.8" r="3.3"/><circle cx="323.9" cy="942.7" r="3.3"/><circle cx="239.6" cy="988.3" r="3.3"/><circle cx="310.6" cy="967.1" r="3.3"/><circle cx="297.4" cy="939.5" r="3.3"/><circle cx="260.6" cy="903.2" r="3.3"/><circle cx="345.0" cy="944.0" r="3.3"/><circle cx="258.7" cy="948.6" r="3.3"/><circle cx="185.2" cy="921.9" r="3.3"/><circle cx="289.7" cy="926.4" r="3.3"/><circle cx="275.3" cy="967.2" r="3.3"/><circle cx="250.2" cy="1052.6" r="3.3"/><circle cx="304.0" cy="896.1" r="3.3"/><circle cx="366.9" cy="979.2" r="3.3"/><circle cx="216.1" cy="1044.2" r="3.3"/><circle cx="259.3" cy="940.6" r="3.3"/><circle cx="253.6" cy="987.0" r="3.3"/><circle cx="213.5" cy="1021.7" r="3.3"/><circle cx="222.0" cy="932.1" r="3.3"/><circle cx="252.5" cy="987.1" r="3.3"/><circle cx="245.8" cy="1010.7" r="3.3"/><circle cx="241.3" cy="953.3" r="3.3"/><circle cx="216.2" cy="1016.9" r="3.3"/><circle cx="241.4" cy="988.1" r="3.3"/><circle cx="255.7" cy="972.2" r="3.3"/><circle cx="221.6" cy="942.4" r="3.3"/><circle cx="240.4" cy="972.8" r="3.3"/><circle cx="303.4" cy="946.6" r="3.3"/><circle cx="228.6" cy="1027.8" r="3.3"/><circle cx="249.0" cy="1017.5" r="3.3"/><circle cx="237.8" cy="983.9" r="3.3"/><circle cx="303.8" cy="946.5" r="3.3"/><circle cx="260.6" cy="953.6" r="3.3"/><circle cx="371.0" cy="986.2" r="3.3"/><circle cx="217.8" cy="1006.9" r="3.3"/><circle cx="234.1" cy="951.7" r="3.3"/><circle cx="308.5" cy="946.9" r="3.3"/><circle cx="263.9" cy="1008.2" r="3.3"/><circle cx="317.6" cy="1009.2" r="3.3"/><circle cx="257.0" cy="990.4" r="3.3"/><circle cx="252.0" cy="921.1" r="3.3"/><circle cx="210.8" cy="948.9" r="3.3"/><circle cx="280.3" cy="998.2" r="3.3"/><circle cx="258.8" cy="1020.1" r="3.3"/><circle cx="251.6" cy="877.2" r="3.3"/><circle cx="234.8" cy="990.1" r="3.3"/><circle cx="238.1" cy="954.9" r="3.3"/><circle cx="335.3" cy="947.6" r="3.3"/><circle cx="242.3" cy="877.2" r="3.3"/><circle cx="217.5" cy="988.5" r="3.3"/><circle cx="195.3" cy="1033.9" r="3.3"/><circle cx="251.9" cy="995.3" r="3.3"/><circle cx="310.0" cy="937.3" r="3.3"/><circle cx="283.1" cy="929.6" r="3.3"/><circle cx="223.5" cy="981.2" r="3.3"/><circle cx="182.2" cy="1002.7" r="3.3"/><circle cx="277.7" cy="1010.9" r="3.3"/><circle cx="254.5" cy="958.3" r="3.3"/><circle cx="280.3" cy="972.8" r="3.3"/><circle cx="261.8" cy="992.7" r="3.3"/><circle cx="255.3" cy="1010.2" r="3.3"/><circle cx="276.6" cy="1028.6" r="3.3"/><circle cx="240.1" cy="1025.4" r="3.3"/><circle cx="306.4" cy="938.2" r="3.3"/><circle cx="270.3" cy="952.4" r="3.3"/><circle cx="295.1" cy="929.0" r="3.3"/><circle cx="233.5" cy="952.4" r="3.3"/><circle cx="235.3" cy="1004.7" r="3.3"/><circle cx="193.7" cy="988.4" r="3.3"/><circle cx="242.5" cy="996.6" r="3.3"/><circle cx="190.5" cy="1036.3" r="3.3"/><circle cx="237.8" cy="1002.6" r="3.3"/><circle cx="292.5" cy="974.2" r="3.3"/><circle cx="273.3" cy="1027.8" r="3.3"/><circle cx="321.9" cy="975.6" r="3.3"/><circle cx="251.4" cy="981.1" r="3.3"/><circle cx="260.8" cy="992.0" r="3.3"/><circle cx="256.1" cy="996.0" r="3.3"/><circle cx="195.8" cy="1012.2" r="3.3"/><circle cx="301.2" cy="969.5" r="3.3"/><circle cx="214.3" cy="991.3" r="3.3"/><circle cx="280.1" cy="1017.7" r="3.3"/><circle cx="303.7" cy="877.2" r="3.3"/><circle cx="241.8" cy="1037.1" r="3.3"/><circle cx="232.6" cy="913.4" r="3.3"/><circle cx="237.7" cy="949.0" r="3.3"/><circle cx="257.8" cy="958.1" r="3.3"/><circle cx="234.0" cy="1008.6" r="3.3"/><circle cx="247.2" cy="1012.8" r="3.3"/><circle cx="300.6" cy="1013.6" r="3.3"/><circle cx="241.1" cy="949.0" r="3.3"/><circle cx="203.6" cy="923.3" r="3.3"/><circle cx="334.0" cy="1049.9" r="3.3"/><circle cx="243.7" cy="945.9" r="3.3"/><circle cx="272.9" cy="996.5" r="3.3"/><circle cx="261.8" cy="1020.1" r="3.3"/><circle cx="224.8" cy="918.2" r="3.3"/><circle cx="318.6" cy="968.7" r="3.3"/><circle cx="223.3" cy="1013.1" r="3.3"/><circle cx="216.6" cy="1030.2" r="3.3"/><circle cx="226.1" cy="977.5" r="3.3"/><circle cx="223.8" cy="972.5" r="3.3"/><circle cx="234.3" cy="1005.6" r="3.3"/><circle cx="300.2" cy="954.9" r="3.3"/><circle cx="206.2" cy="989.7" r="3.3"/><circle cx="221.2" cy="981.0" r="3.3"/><circle cx="302.0" cy="915.7" r="3.3"/><circle cx="291.3" cy="912.1" r="3.3"/><circle cx="287.8" cy="993.9" r="3.3"/><circle cx="267.3" cy="931.6" r="3.3"/><circle cx="319.7" cy="900.7" r="3.3"/><circle cx="250.4" cy="940.8" r="3.3"/><circle cx="339.0" cy="930.5" r="3.3"/><circle cx="216.8" cy="974.2" r="3.3"/><circle cx="271.7" cy="988.4" r="3.3"/><circle cx="298.7" cy="967.9" r="3.3"/><circle cx="342.9" cy="885.7" r="3.3"/><circle cx="238.7" cy="1028.7" r="3.3"/><circle cx="248.7" cy="1005.2" r="3.3"/><circle cx="270.3" cy="932.5" r="3.3"/><circle cx="276.2" cy="973.4" r="3.3"/><circle cx="243.1" cy="1008.0" r="3.3"/><circle cx="270.8" cy="1059.4" r="3.3"/><circle cx="289.0" cy="1015.8" r="3.3"/><circle cx="247.0" cy="966.3" r="3.3"/><circle cx="252.3" cy="900.6" r="3.3"/><circle cx="294.6" cy="1038.5" r="3.3"/><circle cx="256.9" cy="990.5" r="3.3"/><circle cx="236.4" cy="961.7" r="3.3"/><circle cx="337.1" cy="976.5" r="3.3"/><circle cx="288.6" cy="968.9" r="3.3"/><circle cx="222.2" cy="982.3" r="3.3"/><circle cx="233.7" cy="1045.4" r="3.3"/><circle cx="232.2" cy="1018.5" r="3.3"/><circle cx="253.5" cy="877.2" r="3.3"/><circle cx="272.1" cy="1006.5" r="3.3"/><circle cx="347.2" cy="943.4" r="3.3"/><circle cx="281.5" cy="959.5" r="3.3"/><circle cx="291.1" cy="985.0" r="3.3"/><circle cx="227.5" cy="997.8" r="3.3"/><circle cx="193.4" cy="990.7" r="3.3"/><circle cx="254.2" cy="994.3" r="3.3"/><circle cx="267.1" cy="1029.4" r="3.3"/><circle cx="273.4" cy="1048.4" r="3.3"/><circle cx="292.1" cy="1014.0" r="3.3"/><circle cx="272.5" cy="991.0" r="3.3"/><circle cx="225.6" cy="1061.9" r="3.3"/><circle cx="260.3" cy="999.9" r="3.3"/><circle cx="318.8" cy="1011.9" r="3.3"/><circle cx="262.3" cy="989.3" r="3.3"/><circle cx="274.7" cy="969.7" r="3.3"/><circle cx="218.6" cy="918.8" r="3.3"/><circle cx="288.1" cy="1011.6" r="3.3"/><circle cx="222.7" cy="943.0" r="3.3"/><circle cx="189.9" cy="1024.5" r="3.3"/><circle cx="329.4" cy="904.0" r="3.3"/><circle cx="299.4" cy="994.2" r="3.3"/><circle cx="283.0" cy="965.9" r="3.3"/><circle cx="241.6" cy="975.8" r="3.3"/><circle cx="153.0" cy="961.2" r="3.3"/><circle cx="294.3" cy="1003.5" r="3.3"/><circle cx="273.5" cy="941.6" r="3.3"/><circle cx="233.7" cy="1005.6" r="3.3"/><circle cx="247.6" cy="1049.5" r="3.3"/><circle cx="264.0" cy="948.2" r="3.3"/><circle cx="279.4" cy="980.0" r="3.3"/><circle cx="247.2" cy="961.2" r="3.3"/><circle cx="251.8" cy="1075.0" r="3.3"/><circle cx="247.8" cy="1012.4" r="3.3"/><circle cx="290.2" cy="965.2" r="3.3"/><circle cx="302.2" cy="936.3" r="3.3"/><circle cx="302.3" cy="947.8" r="3.3"/><circle cx="328.2" cy="938.5" r="3.3"/><circle cx="236.4" cy="1008.2" r="3.3"/><circle cx="203.0" cy="993.2" r="3.3"/><circle cx="232.9" cy="1028.7" r="3.3"/><circle cx="256.4" cy="948.8" r="3.3"/><circle cx="273.3" cy="941.3" r="3.3"/><circle cx="252.4" cy="988.2" r="3.3"/><circle cx="191.0" cy="975.9" r="3.3"/><circle cx="259.8" cy="1009.9" r="3.3"/><circle cx="215.1" cy="1010.9" r="3.3"/><circle cx="207.7" cy="934.2" r="3.3"/><circle cx="282.4" cy="976.2" r="3.3"/><circle cx="304.6" cy="939.2" r="3.3"/><circle cx="255.0" cy="1003.2" r="3.3"/><circle cx="278.0" cy="967.8" r="3.3"/><circle cx="323.5" cy="942.6" r="3.3"/><circle cx="289.7" cy="1048.1" r="3.3"/><circle cx="257.1" cy="981.7" r="3.3"/><circle cx="233.3" cy="1018.9" r="3.3"/><circle cx="165.0" cy="951.7" r="3.3"/><circle cx="249.9" cy="989.3" r="3.3"/><circle cx="225.4" cy="955.7" r="3.3"/><circle cx="270.2" cy="952.2" r="3.3"/><circle cx="255.1" cy="958.3" r="3.3"/><circle cx="277.5" cy="988.5" r="3.3"/><circle cx="287.6" cy="991.9" r="3.3"/><circle cx="261.0" cy="997.8" r="3.3"/><circle cx="227.3" cy="1002.4" r="3.3"/><circle cx="268.2" cy="996.1" r="3.3"/><circle cx="305.8" cy="1021.2" r="3.3"/><circle cx="215.1" cy="1025.5" r="3.3"/><circle cx="263.3" cy="952.9" r="3.3"/><circle cx="289.5" cy="1027.2" r="3.3"/><circle cx="265.8" cy="974.3" r="3.3"/><circle cx="244.9" cy="935.7" r="3.3"/><circle cx="274.7" cy="1029.4" r="3.3"/><circle cx="211.3" cy="988.2" r="3.3"/><circle cx="226.6" cy="1037.1" r="3.3"/><circle cx="189.9" cy="1004.3" r="3.3"/><circle cx="227.6" cy="1007.6" r="3.3"/><circle cx="245.3" cy="1042.0" r="3.3"/><circle cx="326.0" cy="917.7" r="3.3"/><circle cx="345.8" cy="987.4" r="3.3"/><circle cx="263.5" cy="1059.7" r="3.3"/><circle cx="300.6" cy="920.0" r="3.3"/><circle cx="228.7" cy="1053.5" r="3.3"/><circle cx="317.3" cy="960.6" r="3.3"/><circle cx="265.6" cy="966.5" r="3.3"/><circle cx="267.2" cy="1023.6" r="3.3"/><circle cx="313.5" cy="981.3" r="3.3"/><circle cx="285.9" cy="940.9" r="3.3"/><circle cx="314.6" cy="958.3" r="3.3"/><circle cx="256.0" cy="1003.4" r="3.3"/><circle cx="248.7" cy="998.4" r="3.3"/><circle cx="307.1" cy="1026.6" r="3.3"/><circle cx="289.8" cy="906.4" r="3.3"/><circle cx="286.9" cy="985.0" r="3.3"/><circle cx="245.0" cy="981.5" r="3.3"/><circle cx="297.1" cy="1022.6" r="3.3"/><circle cx="221.6" cy="1023.5" r="3.3"/><circle cx="165.1" cy="1019.3" r="3.3"/><circle cx="256.8" cy="1016.1" r="3.3"/><circle cx="298.4" cy="997.5" r="3.3"/><circle cx="240.7" cy="1060.0" r="3.3"/><circle cx="218.2" cy="1042.3" r="3.3"/><circle cx="143.5" cy="969.6" r="3.3"/><circle cx="211.7" cy="987.7" r="3.3"/><circle cx="349.4" cy="922.1" r="3.3"/><circle cx="287.4" cy="1034.8" r="3.3"/><circle cx="202.1" cy="1042.3" r="3.3"/><circle cx="219.1" cy="978.5" r="3.3"/><circle cx="264.2" cy="926.5" r="3.3"/><circle cx="260.2" cy="1032.5" r="3.3"/><circle cx="230.6" cy="1000.3" r="3.3"/><circle cx="239.0" cy="982.9" r="3.3"/><circle cx="253.4" cy="905.2" r="3.3"/><circle cx="269.0" cy="883.4" r="3.3"/><circle cx="232.5" cy="967.1" r="3.3"/><circle cx="233.5" cy="943.1" r="3.3"/><circle cx="310.4" cy="945.8" r="3.3"/><circle cx="288.5" cy="976.1" r="3.3"/><circle cx="305.9" cy="967.8" r="3.3"/><circle cx="189.5" cy="1070.5" r="3.3"/><circle cx="222.2" cy="928.2" r="3.3"/><circle cx="247.6" cy="943.3" r="3.3"/><circle cx="243.5" cy="944.3" r="3.3"/><circle cx="279.9" cy="1025.1" r="3.3"/><circle cx="273.5" cy="961.8" r="3.3"/><circle cx="193.0" cy="1022.3" r="3.3"/><circle cx="279.7" cy="1035.5" r="3.3"/><circle cx="286.4" cy="941.2" r="3.3"/><circle cx="193.4" cy="993.5" r="3.3"/><circle cx="242.4" cy="990.0" r="3.3"/><circle cx="267.5" cy="970.8" r="3.3"/><circle cx="260.0" cy="925.9" r="3.3"/><circle cx="200.3" cy="1029.0" r="3.3"/><circle cx="280.3" cy="969.1" r="3.3"/><circle cx="199.0" cy="930.2" r="3.3"/><circle cx="222.7" cy="974.8" r="3.3"/><circle cx="192.0" cy="1001.3" r="3.3"/><circle cx="317.3" cy="994.6" r="3.3"/><circle cx="274.7" cy="995.2" r="3.3"/><circle cx="264.1" cy="981.7" r="3.3"/><circle cx="304.0" cy="928.5" r="3.3"/><circle cx="325.3" cy="1074.3" r="3.3"/><circle cx="246.2" cy="954.8" r="3.3"/><circle cx="247.4" cy="1013.5" r="3.3"/><circle cx="325.3" cy="983.7" r="3.3"/><circle cx="204.4" cy="962.8" r="3.3"/><circle cx="284.5" cy="973.2" r="3.3"/><circle cx="268.0" cy="961.9" r="3.3"/><circle cx="247.3" cy="1014.9" r="3.3"/><circle cx="240.9" cy="1033.2" r="3.3"/><circle cx="263.5" cy="947.3" r="3.3"/><circle cx="208.8" cy="982.5" r="3.3"/><circle cx="227.6" cy="988.9" r="3.3"/><circle cx="247.3" cy="985.8" r="3.3"/><circle cx="273.1" cy="935.3" r="3.3"/><circle cx="297.7" cy="1006.2" r="3.3"/><circle cx="291.7" cy="986.5" r="3.3"/><circle cx="282.9" cy="979.0" r="3.3"/><circle cx="251.1" cy="1033.8" r="3.3"/><circle cx="284.1" cy="994.6" r="3.3"/><circle cx="278.8" cy="984.8" r="3.3"/><circle cx="248.7" cy="995.7" r="3.3"/><circle cx="239.5" cy="976.0" r="3.3"/><circle cx="307.8" cy="961.2" r="3.3"/><circle cx="244.2" cy="989.7" r="3.3"/><circle cx="324.9" cy="930.4" r="3.3"/><circle cx="211.4" cy="985.6" r="3.3"/><circle cx="254.6" cy="1001.5" r="3.3"/><circle cx="298.0" cy="913.5" r="3.3"/><circle cx="275.5" cy="983.7" r="3.3"/><circle cx="263.8" cy="968.6" r="3.3"/><circle cx="223.9" cy="904.3" r="3.3"/><circle cx="218.3" cy="1043.7" r="3.3"/><circle cx="279.0" cy="934.8" r="3.3"/><circle cx="259.0" cy="970.2" r="3.3"/><circle cx="247.3" cy="991.9" r="3.3"/><circle cx="288.1" cy="961.3" r="3.3"/><circle cx="303.9" cy="940.9" r="3.3"/><circle cx="261.1" cy="877.2" r="3.3"/><circle cx="194.3" cy="956.9" r="3.3"/><circle cx="350.9" cy="981.3" r="3.3"/><circle cx="244.2" cy="934.0" r="3.3"/><circle cx="261.9" cy="955.3" r="3.3"/><circle cx="266.9" cy="1035.3" r="3.3"/><circle cx="268.4" cy="943.8" r="3.3"/><circle cx="372.3" cy="1011.6" r="3.3"/><circle cx="296.3" cy="980.0" r="3.3"/><circle cx="252.1" cy="923.9" r="3.3"/><circle cx="341.8" cy="982.1" r="3.3"/><circle cx="291.4" cy="956.1" r="3.3"/><circle cx="267.9" cy="1013.0" r="3.3"/><circle cx="247.0" cy="1019.8" r="3.3"/><circle cx="291.2" cy="930.8" r="3.3"/><circle cx="264.1" cy="1051.7" r="3.3"/><circle cx="256.6" cy="893.2" r="3.3"/><circle cx="266.8" cy="970.0" r="3.3"/><circle cx="245.8" cy="1024.6" r="3.3"/><circle cx="271.0" cy="950.1" r="3.3"/><circle cx="254.1" cy="958.9" r="3.3"/><circle cx="266.0" cy="950.7" r="3.3"/><circle cx="227.5" cy="1013.0" r="3.3"/><circle cx="248.1" cy="982.6" r="3.3"/><circle cx="345.0" cy="1003.3" r="3.3"/><circle cx="325.4" cy="990.5" r="3.3"/><circle cx="255.0" cy="972.1" r="3.3"/><circle cx="192.9" cy="987.2" r="3.3"/><circle cx="240.8" cy="980.2" r="3.3"/><circle cx="187.6" cy="949.4" r="3.3"/><circle cx="227.2" cy="1014.4" r="3.3"/><circle cx="260.2" cy="1016.3" r="3.3"/><circle cx="281.7" cy="946.4" r="3.3"/><circle cx="271.1" cy="972.9" r="3.3"/><circle cx="219.9" cy="992.7" r="3.3"/><circle cx="327.4" cy="997.8" r="3.3"/><circle cx="262.2" cy="1031.2" r="3.3"/><circle cx="265.9" cy="953.8" r="3.3"/><circle cx="279.9" cy="938.0" r="3.3"/><circle cx="256.9" cy="970.5" r="3.3"/><circle cx="239.7" cy="1011.3" r="3.3"/><circle cx="239.9" cy="980.3" r="3.3"/><circle cx="238.9" cy="1021.6" r="3.3"/><circle cx="255.9" cy="1008.4" r="3.3"/><circle cx="253.6" cy="1010.5" r="3.3"/><circle cx="291.1" cy="897.0" r="3.3"/><circle cx="252.6" cy="1010.6" r="3.3"/><circle cx="229.0" cy="985.9" r="3.3"/><circle cx="327.9" cy="1003.1" r="3.3"/><circle cx="252.1" cy="932.2" r="3.3"/><circle cx="287.6" cy="954.4" r="3.3"/><circle cx="279.4" cy="930.2" r="3.3"/><circle cx="239.6" cy="1006.3" r="3.3"/><circle cx="273.8" cy="956.1" r="3.3"/><circle cx="332.7" cy="939.6" r="3.3"/><circle cx="290.5" cy="1042.7" r="3.3"/><circle cx="238.4" cy="947.9" r="3.3"/><circle cx="283.8" cy="895.6" r="3.3"/><circle cx="326.3" cy="1032.5" r="3.3"/><circle cx="207.7" cy="933.4" r="3.3"/></g>
<line x1="145.57" y1="990.89" x2="377.62" y2="966.64" stroke="#6a6a6a" stroke-width="1.3" />
<rect x="93.3" y="811.1" width="334.5" height="334.5" fill="none" stroke="#000" stroke-width="3.4"/>
<line x1="78.80" y1="1145.60" x2="93.30" y2="1145.60" stroke="#000" stroke-width="3.2" />
<line x1="93.30" y1="1145.60" x2="93.30" y2="1160.10" stroke="#000" stroke-width="3.2" />
<text font-family="Liberation Sans, sans-serif" font-weight="bold" font-size="27.80" fill="#000" transform="translate(53.90,1155.20) scale(0.9200,1)">-4</text>
<text font-family="Liberation Sans, sans-serif" font-weight="bold" font-size="27.80" fill="#000" transform="translate(79.00,1186.00) scale(0.9200,1)">-4</text>
<line x1="78.80" y1="1061.97" x2="93.30" y2="1061.97" stroke="#000" stroke-width="3.2" />
<line x1="176.93" y1="1145.60" x2="176.93" y2="1160.10" stroke="#000" stroke-width="3.2" />
<text font-family="Liberation Sans, sans-serif" font-weight="bold" font-size="27.80" fill="#000" transform="translate(54.78,1071.57) scale(0.9200,1)">-2</text>
<text font-family="Liberation Sans, sans-serif" font-weight="bold" font-size="27.80" fill="#000" transform="translate(163.07,1186.00) scale(0.9200,1)">-2</text>
<line x1="78.80" y1="978.35" x2="93.30" y2="978.35" stroke="#000" stroke-width="3.2" />
<line x1="260.55" y1="1145.60" x2="260.55" y2="1160.10" stroke="#000" stroke-width="3.2" />
<text font-family="Liberation Sans, sans-serif" font-weight="bold" font-size="27.80" fill="#000" transform="translate(62.61,987.95) scale(0.9700,1)">0</text>
<text font-family="Liberation Sans, sans-serif" font-weight="bold" font-size="27.80" fill="#000" transform="translate(253.07,1186.00) scale(0.9700,1)">0</text>
<line x1="78.80" y1="894.72" x2="93.30" y2="894.72" stroke="#000" stroke-width="3.2" />
<line x1="344.18" y1="1145.60" x2="344.18" y2="1160.10" stroke="#000" stroke-width="3.2" />
<text font-family="Liberation Sans, sans-serif" font-weight="bold" font-size="27.80" fill="#000" transform="translate(62.58,904.32) scale(0.9700,1)">2</text>
<text font-family="Liberation Sans, sans-serif" font-weight="bold" font-size="27.80" fill="#000" transform="translate(336.75,1186.00) scale(0.9700,1)">2</text>
<line x1="78.80" y1="811.10" x2="93.30" y2="811.10" stroke="#000" stroke-width="3.2" />
<line x1="427.80" y1="1145.60" x2="427.80" y2="1160.10" stroke="#000" stroke-width="3.2" />
<text font-family="Liberation Sans, sans-serif" font-weight="bold" font-size="27.80" fill="#000" transform="translate(61.65,820.70) scale(0.9700,1)">4</text>
<text font-family="Liberation Sans, sans-serif" font-weight="bold" font-size="27.80" fill="#000" transform="translate(420.17,1186.00) scale(0.9700,1)">4</text>
<text font-family="Liberation Sans, sans-serif" font-weight="bold" font-style="italic" font-size="26.50" fill="#000" transform="translate(216.65,1224.90) scale(0.9900,1)">CHEK1</text>
<text font-family="Liberation Sans, sans-serif" font-weight="bold" font-style="italic" font-size="29.50" fill="#000" transform="translate(25.60,1022.85) rotate(-90) scale(0.9376,1)">CXCL9</text>
<text font-family="Liberation Sans, sans-serif" font-weight="normal" font-size="37.52" fill="#262626" transform="translate(547.90,790.70) scale(1.0045,1)">r=0.0887, n.s.</text>
<line x1="715.75" y1="813.00" x2="715.75" y2="1147.50" stroke="#111" stroke-width="1.4" />
<line x1="548.50" y1="980.25" x2="883.00" y2="980.25" stroke="#111" stroke-width="1.4" />
<g fill="#c6c6c6" stroke="#111" stroke-width="1.7"><circle cx="780.6" cy="1128.7" r="3.3"/><circle cx="665.6" cy="1030.4" r="3.3"/><circle cx="753.4" cy="950.1" r="3.3"/><circle cx="807.7" cy="1020.0" r="3.3"/><circle cx="619.6" cy="976.1" r="3.3"/><circle cx="711.6" cy="854.8" r="3.3"/><circle cx="761.7" cy="861.1" r="3.3"/><circle cx="772.2" cy="861.1" r="3.3"/><circle cx="600.8" cy="936.3" r="3.3"/><circle cx="832.8" cy="1020.0" r="3.3"/><circle cx="694.1" cy="1013.5" r="3.3"/><circle cx="687.3" cy="988.3" r="3.3"/><circle cx="785.9" cy="917.3" r="3.3"/><circle cx="694.1" cy="993.0" r="3.3"/><circle cx="720.9" cy="982.8" r="3.3"/><circle cx="728.6" cy="994.3" r="3.3"/><circle cx="730.8" cy="971.9" r="3.3"/><circle cx="598.7" cy="944.1" r="3.3"/><circle cx="715.0" cy="971.6" r="3.3"/><circle cx="711.2" cy="973.1" r="3.3"/><circle cx="730.1" cy="1025.7" r="3.3"/><circle cx="687.4" cy="983.6" r="3.3"/><circle cx="721.7" cy="1053.3" r="3.3"/><circle cx="724.7" cy="938.5" r="3.3"/><circle cx="703.9" cy="963.5" r="3.3"/><circle cx="636.1" cy="994.2" r="3.3"/><circle cx="786.4" cy="912.9" r="3.3"/><circle cx="749.5" cy="972.3" r="3.3"/><circle cx="730.5" cy="991.0" r="3.3"/><circle cx="716.7" cy="983.8" r="3.3"/><circle cx="677.9" cy="1020.1" r="3.3"/><circle cx="752.5" cy="1057.4" r="3.3"/><circle cx="679.4" cy="1046.1" r="3.3"/><circle cx="695.4" cy="1020.9" r="3.3"/><circle cx="752.2" cy="1008.3" r="3.3"/><circle cx="702.4" cy="954.6" r="3.3"/><circle cx="748.4" cy="919.8" r="3.3"/><circle cx="735.4" cy="968.6" r="3.3"/><circle cx="691.9" cy="971.8" r="3.3"/><circle cx="752.1" cy="989.4" r="3.3"/><circle cx="703.2" cy="912.1" r="3.3"/><circle cx="723.0" cy="997.1" r="3.3"/><circle cx="715.6" cy="965.7" r="3.3"/><circle cx="722.0" cy="961.5" r="3.3"/><circle cx="680.1" cy="986.1" r="3.3"/><circle cx="719.1" cy="958.1" r="3.3"/><circle cx="755.3" cy="1092.7" r="3.3"/><circle cx="762.5" cy="995.5" r="3.3"/><circle cx="724.3" cy="982.9" r="3.3"/><circle cx="739.2" cy="959.0" r="3.3"/><circle cx="760.8" cy="986.4" r="3.3"/><circle cx="715.5" cy="981.2" r="3.3"/><circle cx="729.4" cy="998.3" r="3.3"/><circle cx="696.9" cy="973.5" r="3.3"/><circle cx="702.8" cy="1018.0" r="3.3"/><circle cx="637.9" cy="1082.3" r="3.3"/><circle cx="728.1" cy="1052.6" r="3.3"/><circle cx="676.1" cy="981.8" r="3.3"/><circle cx="677.6" cy="1000.2" r="3.3"/><circle cx="633.5" cy="942.9" r="3.3"/><circle cx="709.4" cy="1033.3" r="3.3"/><circle cx="739.1" cy="973.3" r="3.3"/><circle cx="744.9" cy="1030.5" r="3.3"/><circle cx="691.4" cy="986.2" r="3.3"/><circle cx="779.7" cy="902.2" r="3.3"/><circle cx="730.4" cy="929.5" r="3.3"/><circle cx="726.0" cy="971.8" r="3.3"/><circle cx="746.0" cy="982.0" r="3.3"/><circle cx="719.5" cy="915.2" r="3.3"/><circle cx="687.7" cy="992.1" r="3.3"/><circle cx="701.4" cy="952.6" r="3.3"/><circle cx="710.8" cy="988.7" r="3.3"/><circle cx="667.4" cy="1011.0" r="3.3"/><circle cx="685.7" cy="950.2" r="3.3"/><circle cx="712.8" cy="996.5" r="3.3"/><circle cx="783.7" cy="1002.9" r="3.3"/><circle cx="745.7" cy="988.9" r="3.3"/><circle cx="701.8" cy="946.5" r="3.3"/><circle cx="703.2" cy="979.7" r="3.3"/><circle cx="733.3" cy="1009.2" r="3.3"/><circle cx="673.2" cy="1039.1" r="3.3"/><circle cx="749.7" cy="1023.5" r="3.3"/><circle cx="735.3" cy="917.4" r="3.3"/><circle cx="750.0" cy="992.2" r="3.3"/><circle cx="672.4" cy="1005.8" r="3.3"/><circle cx="738.5" cy="1035.9" r="3.3"/><circle cx="708.7" cy="1008.0" r="3.3"/><circle cx="733.2" cy="912.7" r="3.3"/><circle cx="619.5" cy="1052.7" r="3.3"/><circle cx="747.9" cy="1002.5" r="3.3"/><circle cx="677.8" cy="935.3" r="3.3"/><circle cx="733.3" cy="944.8" r="3.3"/><circle cx="737.6" cy="999.2" r="3.3"/><circle cx="725.5" cy="928.0" r="3.3"/><circle cx="717.4" cy="985.5" r="3.3"/><circle cx="736.2" cy="992.8" r="3.3"/><circle cx="754.8" cy="961.3" r="3.3"/><circle cx="768.7" cy="951.8" r="3.3"/><circle cx="779.1" cy="943.5" r="3.3"/><circle cx="694.8" cy="970.0" r="3.3"/><circle cx="765.8" cy="969.6" r="3.3"/><circle cx="752.6" cy="947.1" r="3.3"/><circle cx="715.8" cy="955.9" r="3.3"/><circle cx="800.2" cy="913.5" r="3.3"/><circle cx="713.9" cy="945.4" r="3.3"/><circle cx="640.4" cy="892.9" r="3.3"/><circle cx="744.9" cy="977.0" r="3.3"/><circle cx="730.5" cy="977.1" r="3.3"/><circle cx="705.4" cy="1036.4" r="3.3"/><circle cx="759.2" cy="934.4" r="3.3"/><circle cx="822.1" cy="1001.5" r="3.3"/><circle cx="671.3" cy="1054.0" r="3.3"/><circle cx="714.5" cy="933.0" r="3.3"/><circle cx="708.8" cy="1009.0" r="3.3"/><circle cx="668.7" cy="999.6" r="3.3"/><circle cx="677.2" cy="930.5" r="3.3"/><circle cx="707.7" cy="960.9" r="3.3"/><circle cx="701.0" cy="1011.5" r="3.3"/><circle cx="696.5" cy="937.1" r="3.3"/><circle cx="671.4" cy="998.9" r="3.3"/><circle cx="696.6" cy="997.7" r="3.3"/><circle cx="710.9" cy="950.8" r="3.3"/><circle cx="676.8" cy="954.3" r="3.3"/><circle cx="695.6" cy="947.2" r="3.3"/><circle cx="758.6" cy="975.1" r="3.3"/><circle cx="683.8" cy="1022.5" r="3.3"/><circle cx="704.2" cy="998.4" r="3.3"/><circle cx="693.0" cy="1015.7" r="3.3"/><circle cx="759.0" cy="971.2" r="3.3"/><circle cx="715.8" cy="946.4" r="3.3"/><circle cx="826.2" cy="1013.5" r="3.3"/><circle cx="673.0" cy="991.7" r="3.3"/><circle cx="689.3" cy="962.8" r="3.3"/><circle cx="763.7" cy="959.9" r="3.3"/><circle cx="719.1" cy="991.2" r="3.3"/><circle cx="772.8" cy="1004.8" r="3.3"/><circle cx="712.2" cy="977.5" r="3.3"/><circle cx="707.2" cy="932.9" r="3.3"/><circle cx="666.0" cy="956.5" r="3.3"/><circle cx="735.5" cy="1015.5" r="3.3"/><circle cx="714.0" cy="997.7" r="3.3"/><circle cx="706.8" cy="953.0" r="3.3"/><circle cx="690.0" cy="987.2" r="3.3"/><circle cx="693.3" cy="945.0" r="3.3"/><circle cx="790.5" cy="917.3" r="3.3"/><circle cx="697.5" cy="873.6" r="3.3"/><circle cx="672.7" cy="988.6" r="3.3"/><circle cx="650.5" cy="1005.8" r="3.3"/><circle cx="707.1" cy="1013.2" r="3.3"/><circle cx="765.2" cy="928.0" r="3.3"/><circle cx="738.3" cy="940.4" r="3.3"/><circle cx="678.7" cy="974.4" r="3.3"/><circle cx="637.4" cy="983.9" r="3.3"/><circle cx="732.9" cy="980.4" r="3.3"/><circle cx="709.7" cy="976.8" r="3.3"/><circle cx="735.5" cy="982.2" r="3.3"/><circle cx="717.0" cy="977.0" r="3.3"/><circle cx="710.5" cy="995.3" r="3.3"/><circle cx="731.8" cy="1040.2" r="3.3"/><circle cx="695.3" cy="991.3" r="3.3"/><circle cx="761.6" cy="931.4" r="3.3"/><circle cx="725.5" cy="976.5" r="3.3"/><circle cx="750.3" cy="941.3" r="3.3"/><circle cx="688.7" cy="935.5" r="3.3"/><circle cx="690.5" cy="982.9" r="3.3"/><circle cx="648.9" cy="1011.9" r="3.3"/><circle cx="697.7" cy="979.7" r="3.3"/><circle cx="645.7" cy="1026.5" r="3.3"/><circle cx="693.0" cy="1019.1" r="3.3"/><circle cx="747.7" cy="993.4" r="3.3"/><circle cx="728.5" cy="992.0" r="3.3"/><circle cx="777.1" cy="979.1" r="3.3"/><circle cx="706.6" cy="1008.8" r="3.3"/><circle cx="716.0" cy="993.5" r="3.3"/><circle cx="711.3" cy="1018.6" r="3.3"/><circle cx="651.0" cy="1026.3" r="3.3"/><circle cx="756.4" cy="955.7" r="3.3"/><circle cx="669.5" cy="1020.7" r="3.3"/><circle cx="735.3" cy="1003.6" r="3.3"/><circle cx="758.9" cy="891.8" r="3.3"/><circle cx="697.0" cy="994.7" r="3.3"/><circle cx="687.8" cy="922.6" r="3.3"/><circle cx="692.9" cy="952.6" r="3.3"/><circle cx="713.0" cy="991.0" r="3.3"/><circle cx="689.2" cy="1020.5" r="3.3"/><circle cx="702.4" cy="1013.5" r="3.3"/><circle cx="755.8" cy="968.5" r="3.3"/><circle cx="696.3" cy="955.2" r="3.3"/><circle cx="658.8" cy="909.8" r="3.3"/><circle cx="789.2" cy="1045.0" r="3.3"/><circle cx="698.9" cy="965.8" r="3.3"/><circle cx="728.1" cy="1016.6" r="3.3"/><circle cx="717.0" cy="1037.8" r="3.3"/><circle cx="680.0" cy="900.3" r="3.3"/><circle cx="773.8" cy="953.9" r="3.3"/><circle cx="678.5" cy="1003.2" r="3.3"/><circle cx="671.8" cy="1008.1" r="3.3"/><circle cx="681.3" cy="1010.0" r="3.3"/><circle cx="679.0" cy="976.6" r="3.3"/><circle cx="689.5" cy="1004.0" r="3.3"/><circle cx="755.4" cy="992.0" r="3.3"/><circle cx="661.4" cy="978.6" r="3.3"/><circle cx="676.4" cy="974.6" r="3.3"/><circle cx="757.2" cy="926.4" r="3.3"/><circle cx="746.5" cy="930.1" r="3.3"/><circle cx="743.0" cy="979.8" r="3.3"/><circle cx="722.5" cy="944.7" r="3.3"/><circle cx="774.9" cy="908.3" r="3.3"/><circle cx="705.6" cy="965.5" r="3.3"/><circle cx="794.2" cy="934.2" r="3.3"/><circle cx="672.0" cy="987.8" r="3.3"/><circle cx="726.9" cy="959.9" r="3.3"/><circle cx="753.9" cy="994.7" r="3.3"/><circle cx="798.1" cy="936.4" r="3.3"/><circle cx="693.9" cy="1038.8" r="3.3"/><circle cx="703.9" cy="1011.4" r="3.3"/><circle cx="725.5" cy="976.4" r="3.3"/><circle cx="731.4" cy="977.9" r="3.3"/><circle cx="698.3" cy="1002.5" r="3.3"/><circle cx="726.0" cy="1017.1" r="3.3"/><circle cx="744.2" cy="986.3" r="3.3"/><circle cx="702.2" cy="966.5" r="3.3"/><circle cx="707.5" cy="936.0" r="3.3"/><circle cx="749.8" cy="1083.2" r="3.3"/><circle cx="712.1" cy="1019.0" r="3.3"/><circle cx="691.6" cy="949.3" r="3.3"/><circle cx="792.3" cy="965.5" r="3.3"/><circle cx="743.8" cy="937.8" r="3.3"/><circle cx="677.4" cy="973.3" r="3.3"/><circle cx="688.9" cy="1049.0" r="3.3"/><circle cx="687.4" cy="962.2" r="3.3"/><circle cx="708.7" cy="907.0" r="3.3"/><circle cx="727.3" cy="996.0" r="3.3"/><circle cx="802.4" cy="927.2" r="3.3"/><circle cx="736.7" cy="948.3" r="3.3"/><circle cx="746.3" cy="978.8" r="3.3"/><circle cx="682.7" cy="1012.8" r="3.3"/><circle cx="648.6" cy="1014.7" r="3.3"/><circle cx="709.4" cy="998.1" r="3.3"/><circle cx="722.3" cy="993.4" r="3.3"/><circle cx="728.6" cy="1015.0" r="3.3"/><circle cx="747.3" cy="997.9" r="3.3"/><circle cx="727.7" cy="991.6" r="3.3"/><circle cx="680.8" cy="1089.3" r="3.3"/><circle cx="715.5" cy="978.6" r="3.3"/><circle cx="774.0" cy="1027.2" r="3.3"/><circle cx="717.5" cy="978.7" r="3.3"/><circle cx="729.9" cy="982.7" r="3.3"/><circle cx="673.8" cy="963.0" r="3.3"/><circle cx="743.3" cy="972.7" r="3.3"/><circle cx="677.9" cy="937.6" r="3.3"/><circle cx="645.1" cy="1033.1" r="3.3"/><circle cx="784.6" cy="904.1" r="3.3"/><circle cx="754.6" cy="960.9" r="3.3"/><circle cx="738.2" cy="978.2" r="3.3"/><circle cx="696.8" cy="960.5" r="3.3"/><circle cx="608.2" cy="978.7" r="3.3"/><circle cx="749.5" cy="988.7" r="3.3"/><circle cx="728.7" cy="954.7" r="3.3"/><circle cx="688.9" cy="1022.1" r="3.3"/><circle cx="702.8" cy="1012.5" r="3.3"/><circle cx="719.2" cy="995.3" r="3.3"/><circle cx="734.6" cy="949.7" r="3.3"/><circle cx="702.4" cy="975.5" r="3.3"/><circle cx="707.0" cy="1061.0" r="3.3"/><circle cx="703.0" cy="1007.6" r="3.3"/><circle cx="745.4" cy="957.1" r="3.3"/><circle cx="757.4" cy="963.0" r="3.3"/><circle cx="757.5" cy="947.1" r="3.3"/><circle cx="783.4" cy="941.9" r="3.3"/><circle cx="691.6" cy="1018.7" r="3.3"/><circle cx="658.2" cy="1009.8" r="3.3"/><circle cx="688.1" cy="1017.9" r="3.3"/><circle cx="711.6" cy="927.9" r="3.3"/><circle cx="728.5" cy="966.2" r="3.3"/><circle cx="707.6" cy="1004.6" r="3.3"/><circle cx="646.2" cy="979.2" r="3.3"/><circle cx="715.0" cy="1015.0" r="3.3"/><circle cx="670.3" cy="1029.0" r="3.3"/><circle cx="662.9" cy="980.0" r="3.3"/><circle cx="737.6" cy="987.5" r="3.3"/><circle cx="759.8" cy="922.2" r="3.3"/><circle cx="710.2" cy="991.8" r="3.3"/><circle cx="733.2" cy="996.3" r="3.3"/><circle cx="778.7" cy="961.7" r="3.3"/><circle cx="744.9" cy="1038.9" r="3.3"/><circle cx="712.3" cy="1004.4" r="3.3"/><circle cx="688.5" cy="1016.4" r="3.3"/><circle cx="620.2" cy="971.1" r="3.3"/><circle cx="705.1" cy="1012.0" r="3.3"/><circle cx="680.6" cy="944.7" r="3.3"/><circle cx="725.4" cy="976.7" r="3.3"/><circle cx="710.3" cy="951.8" r="3.3"/><circle cx="732.7" cy="981.9" r="3.3"/><circle cx="742.8" cy="995.6" r="3.3"/><circle cx="716.2" cy="982.6" r="3.3"/><circle cx="682.5" cy="996.1" r="3.3"/><circle cx="723.4" cy="989.9" r="3.3"/><circle cx="761.0" cy="991.1" r="3.3"/><circle cx="670.3" cy="1022.8" r="3.3"/><circle cx="718.5" cy="956.1" r="3.3"/><circle cx="744.7" cy="1022.1" r="3.3"/><circle cx="721.0" cy="971.0" r="3.3"/><circle cx="700.1" cy="951.2" r="3.3"/><circle cx="729.9" cy="1011.9" r="3.3"/><circle cx="666.5" cy="995.6" r="3.3"/><circle cx="681.8" cy="1049.2" r="3.3"/><circle cx="645.1" cy="1014.2" r="3.3"/><circle cx="682.8" cy="1005.2" r="3.3"/><circle cx="700.5" cy="1061.7" r="3.3"/><circle cx="781.2" cy="910.2" r="3.3"/><circle cx="801.0" cy="969.1" r="3.3"/><circle cx="718.7" cy="1064.0" r="3.3"/><circle cx="755.8" cy="944.9" r="3.3"/><circle cx="683.9" cy="1034.9" r="3.3"/><circle cx="772.5" cy="981.5" r="3.3"/><circle cx="720.8" cy="998.7" r="3.3"/><circle cx="722.4" cy="999.5" r="3.3"/><circle cx="768.7" cy="977.2" r="3.3"/><circle cx="741.1" cy="977.0" r="3.3"/><circle cx="769.8" cy="973.1" r="3.3"/><circle cx="711.2" cy="981.6" r="3.3"/><circle cx="703.9" cy="982.4" r="3.3"/><circle cx="762.3" cy="1021.8" r="3.3"/><circle cx="745.0" cy="934.4" r="3.3"/><circle cx="742.1" cy="985.3" r="3.3"/><circle cx="700.2" cy="1019.3" r="3.3"/><circle cx="752.3" cy="983.2" r="3.3"/><circle cx="676.8" cy="1027.1" r="3.3"/><circle cx="620.3" cy="1020.4" r="3.3"/><circle cx="712.0" cy="1019.3" r="3.3"/><circle cx="753.6" cy="1034.9" r="3.3"/><circle cx="695.9" cy="1026.0" r="3.3"/><circle cx="673.4" cy="1049.3" r="3.3"/><circle cx="598.7" cy="1034.1" r="3.3"/><circle cx="666.9" cy="1022.3" r="3.3"/><circle cx="804.6" cy="899.2" r="3.3"/><circle cx="742.6" cy="1048.6" r="3.3"/><circle cx="657.3" cy="1042.7" r="3.3"/><circle cx="674.3" cy="1000.1" r="3.3"/><circle cx="719.4" cy="934.7" r="3.3"/><circle cx="715.4" cy="1013.9" r="3.3"/><circle cx="685.8" cy="1006.5" r="3.3"/><circle cx="694.2" cy="966.8" r="3.3"/><circle cx="708.6" cy="918.4" r="3.3"/><circle cx="724.2" cy="888.6" r="3.3"/><circle cx="687.7" cy="1009.7" r="3.3"/><circle cx="688.7" cy="957.0" r="3.3"/><circle cx="765.6" cy="959.5" r="3.3"/><circle cx="743.7" cy="976.6" r="3.3"/><circle cx="761.1" cy="969.5" r="3.3"/><circle cx="644.7" cy="1052.6" r="3.3"/><circle cx="677.4" cy="914.6" r="3.3"/><circle cx="702.8" cy="971.5" r="3.3"/><circle cx="698.7" cy="925.3" r="3.3"/><circle cx="735.1" cy="1055.0" r="3.3"/><circle cx="728.7" cy="963.2" r="3.3"/><circle cx="648.2" cy="1020.8" r="3.3"/><circle cx="734.9" cy="1038.5" r="3.3"/><circle cx="741.6" cy="968.9" r="3.3"/><circle cx="648.6" cy="1006.3" r="3.3"/><circle cx="697.6" cy="974.2" r="3.3"/><circle cx="722.7" cy="1011.5" r="3.3"/><circle cx="715.2" cy="924.4" r="3.3"/><circle cx="655.5" cy="1030.9" r="3.3"/><circle cx="735.5" cy="991.2" r="3.3"/><circle cx="654.2" cy="964.0" r="3.3"/><circle cx="677.9" cy="948.9" r="3.3"/><circle cx="647.2" cy="966.8" r="3.3"/><circle cx="772.5" cy="1003.9" r="3.3"/><circle cx="729.9" cy="965.9" r="3.3"/><circle cx="719.3" cy="1012.7" r="3.3"/><circle cx="759.2" cy="953.7" r="3.3"/><circle cx="780.5" cy="1061.4" r="3.3"/><circle cx="701.4" cy="929.6" r="3.3"/><circle cx="702.6" cy="1018.4" r="3.3"/><circle cx="780.5" cy="976.7" r="3.3"/><circle cx="659.6" cy="966.4" r="3.3"/><circle cx="739.7" cy="981.4" r="3.3"/><circle cx="723.2" cy="987.9" r="3.3"/><circle cx="702.5" cy="1002.5" r="3.3"/><circle cx="696.1" cy="1033.7" r="3.3"/><circle cx="718.7" cy="930.4" r="3.3"/><circle cx="664.0" cy="968.6" r="3.3"/><circle cx="682.8" cy="953.5" r="3.3"/><circle cx="702.5" cy="964.1" r="3.3"/><circle cx="728.3" cy="956.8" r="3.3"/><circle cx="752.9" cy="1032.9" r="3.3"/><circle cx="746.9" cy="958.4" r="3.3"/><circle cx="738.1" cy="952.8" r="3.3"/><circle cx="706.3" cy="1016.8" r="3.3"/><circle cx="739.3" cy="1002.5" r="3.3"/><circle cx="734.0" cy="979.7" r="3.3"/><circle cx="703.9" cy="972.9" r="3.3"/><circle cx="694.7" cy="991.5" r="3.3"/><circle cx="763.0" cy="973.1" r="3.3"/><circle cx="699.4" cy="997.2" r="3.3"/><circle cx="780.1" cy="948.0" r="3.3"/><circle cx="666.6" cy="981.2" r="3.3"/><circle cx="709.8" cy="1028.2" r="3.3"/><circle cx="753.2" cy="910.2" r="3.3"/><circle cx="730.7" cy="984.0" r="3.3"/><circle cx="719.0" cy="1017.0" r="3.3"/><circle cx="679.1" cy="907.1" r="3.3"/><circle cx="673.5" cy="1004.0" r="3.3"/><circle cx="734.2" cy="907.9" r="3.3"/><circle cx="714.2" cy="945.5" r="3.3"/><circle cx="702.5" cy="965.6" r="3.3"/><circle cx="743.3" cy="936.1" r="3.3"/><circle cx="759.1" cy="933.6" r="3.3"/><circle cx="716.3" cy="873.6" r="3.3"/><circle cx="649.5" cy="951.9" r="3.3"/><circle cx="806.1" cy="1000.7" r="3.3"/><circle cx="699.4" cy="959.9" r="3.3"/><circle cx="717.1" cy="933.5" r="3.3"/><circle cx="722.1" cy="1038.2" r="3.3"/><circle cx="723.6" cy="975.8" r="3.3"/><circle cx="827.5" cy="997.8" r="3.3"/><circle cx="751.5" cy="984.8" r="3.3"/><circle cx="707.3" cy="954.0" r="3.3"/><circle cx="797.0" cy="961.7" r="3.3"/><circle cx="746.6" cy="976.9" r="3.3"/><circle cx="723.1" cy="997.5" r="3.3"/><circle cx="702.2" cy="1001.1" r="3.3"/><circle cx="746.4" cy="939.7" r="3.3"/><circle cx="719.3" cy="1056.2" r="3.3"/><circle cx="711.8" cy="893.5" r="3.3"/><circle cx="722.0" cy="969.6" r="3.3"/><circle cx="701.0" cy="1017.9" r="3.3"/><circle cx="726.2" cy="960.5" r="3.3"/><circle cx="709.3" cy="944.4" r="3.3"/><circle cx="721.2" cy="953.8" r="3.3"/><circle cx="682.7" cy="1000.3" r="3.3"/><circle cx="703.3" cy="988.7" r="3.3"/><circle cx="800.2" cy="991.4" r="3.3"/><circle cx="780.6" cy="1016.6" r="3.3"/><circle cx="710.2" cy="993.1" r="3.3"/><circle cx="648.1" cy="996.9" r="3.3"/><circle cx="696.0" cy="988.0" r="3.3"/><circle cx="642.8" cy="985.7" r="3.3"/><circle cx="682.4" cy="1012.7" r="3.3"/><circle cx="715.4" cy="1025.8" r="3.3"/><circle cx="736.9" cy="944.1" r="3.3"/><circle cx="726.3" cy="1008.9" r="3.3"/><circle cx="675.1" cy="998.9" r="3.3"/><circle cx="782.6" cy="951.6" r="3.3"/><circle cx="717.4" cy="1040.1" r="3.3"/><circle cx="721.1" cy="963.9" r="3.3"/><circle cx="735.1" cy="951.3" r="3.3"/><circle cx="712.1" cy="973.1" r="3.3"/><circle cx="694.9" cy="994.1" r="3.3"/><circle cx="695.1" cy="961.2" r="3.3"/><circle cx="694.1" cy="1045.6" r="3.3"/><circle cx="711.1" cy="988.2" r="3.3"/><circle cx="708.8" cy="1005.2" r="3.3"/><circle cx="746.3" cy="873.6" r="3.3"/><circle cx="707.8" cy="1020.9" r="3.3"/><circle cx="684.2" cy="988.8" r="3.3"/><circle cx="783.1" cy="992.5" r="3.3"/><circle cx="707.3" cy="910.1" r="3.3"/><circle cx="742.8" cy="941.0" r="3.3"/><circle cx="734.6" cy="960.3" r="3.3"/><circle cx="694.8" cy="978.0" r="3.3"/><circle cx="729.0" cy="965.8" r="3.3"/><circle cx="787.9" cy="922.5" r="3.3"/><circle cx="745.7" cy="997.7" r="3.3"/><circle cx="693.6" cy="929.6" r="3.3"/><circle cx="739.0" cy="882.9" r="3.3"/><circle cx="781.5" cy="1033.5" r="3.3"/><circle cx="662.9" cy="937.0" r="3.3"/></g>
<line x1="600.77" y1="999.07" x2="832.83" y2="959.34" stroke="#6a6a6a" stroke-width="1.3" />
<rect x="548.5" y="813.0" width="334.5" height="334.5" fill="none" stroke="#000" stroke-width="3.4"/>
<line x1="534.00" y1="1147.50" x2="548.50" y2="1147.50" stroke="#000" stroke-width="3.2" />
<line x1="548.50" y1="1147.50" x2="548.50" y2="1162.00" stroke="#000" stroke-width="3.2" />
<text font-family="Liberation Sans, sans-serif" font-weight="bold" font-size="27.80" fill="#000" transform="translate(509.10,1157.10) scale(0.9200,1)">-4</text>
<text font-family="Liberation Sans, sans-serif" font-weight="bold" font-size="27.80" fill="#000" transform="translate(534.20,1187.90) scale(0.9200,1)">-4</text>
<line x1="534.00" y1="1063.88" x2="548.50" y2="1063.88" stroke="#000" stroke-width="3.2" />
<line x1="632.12" y1="1147.50" x2="632.12" y2="1162.00" stroke="#000" stroke-width="3.2" />
<text font-family="Liberation Sans, sans-serif" font-weight="bold" font-size="27.80" fill="#000" transform="translate(509.98,1073.47) scale(0.9200,1)">-2</text>
<text font-family="Liberation Sans, sans-serif" font-weight="bold" font-size="27.80" fill="#000" transform="translate(618.27,1187.90) scale(0.9200,1)">-2</text>
<line x1="534.00" y1="980.25" x2="548.50" y2="980.25" stroke="#000" stroke-width="3.2" />
<line x1="715.75" y1="1147.50" x2="715.75" y2="1162.00" stroke="#000" stroke-width="3.2" />
<text font-family="Liberation Sans, sans-serif" font-weight="bold" font-size="27.80" fill="#000" transform="translate(517.81,989.85) scale(0.9700,1)">0</text>
<text font-family="Liberation Sans, sans-serif" font-weight="bold" font-size="27.80" fill="#000" transform="translate(708.27,1187.90) scale(0.9700,1)">0</text>
<line x1="534.00" y1="896.62" x2="548.50" y2="896.62" stroke="#000" stroke-width="3.2" />
<line x1="799.38" y1="1147.50" x2="799.38" y2="1162.00" stroke="#000" stroke-width="3.2" />
<text font-family="Liberation Sans, sans-serif" font-weight="bold" font-size="27.80" fill="#000" transform="translate(517.78,906.23) scale(0.9700,1)">2</text>
<text font-family="Liberation Sans, sans-serif" font-weight="bold" font-size="27.80" fill="#000" transform="translate(791.95,1187.90) scale(0.9700,1)">2</text>
<line x1="534.00" y1="813.00" x2="548.50" y2="813.00" stroke="#000" stroke-width="3.2" />
<line x1="883.00" y1="1147.50" x2="883.00" y2="1162.00" stroke="#000" stroke-width="3.2" />
<text font-family="Liberation Sans, sans-serif" font-weight="bold" font-size="27.80" fill="#000" transform="translate(516.85,822.60) scale(0.9700,1)">4</text>
<text font-family="Liberation Sans, sans-serif" font-weight="bold" font-size="27.80" fill="#000" transform="translate(875.37,1187.90) scale(0.9700,1)">4</text>
<text font-family="Liberation Sans, sans-serif" font-weight="bold" font-style="italic" font-size="26.50" fill="#000" transform="translate(671.85,1226.80) scale(0.9900,1)">CHEK1</text>
<text font-family="Liberation Sans, sans-serif" font-weight="bold" font-style="italic" font-size="29.50" fill="#000" transform="translate(480.80,1032.36) rotate(-90) scale(0.9409,1)">CXCL10</text>
<text font-family="Liberation Sans, sans-serif" font-weight="normal" font-size="39.96" fill="#262626" transform="translate(998.02,789.90) scale(0.9330,1)">r=0.2143, P&lt;0.0001</text>
<line x1="1165.85" y1="813.50" x2="1165.85" y2="1148.00" stroke="#111" stroke-width="1.4" />
<line x1="998.60" y1="980.75" x2="1333.10" y2="980.75" stroke="#111" stroke-width="1.4" />
<g fill="#c6c6c6" stroke="#111" stroke-width="1.7"><circle cx="1230.7" cy="1091.6" r="3.3"/><circle cx="1115.7" cy="1028.8" r="3.3"/><circle cx="1203.5" cy="961.9" r="3.3"/><circle cx="1257.8" cy="1010.0" r="3.3"/><circle cx="1069.7" cy="978.7" r="3.3"/><circle cx="1161.7" cy="838.6" r="3.3"/><circle cx="1211.8" cy="865.8" r="3.3"/><circle cx="1222.3" cy="857.4" r="3.3"/><circle cx="1050.9" cy="943.1" r="3.3"/><circle cx="1282.9" cy="1035.1" r="3.3"/><circle cx="1144.2" cy="988.8" r="3.3"/><circle cx="1137.4" cy="984.2" r="3.3"/><circle cx="1236.0" cy="941.2" r="3.3"/><circle cx="1144.2" cy="992.0" r="3.3"/><circle cx="1171.0" cy="997.6" r="3.3"/><circle cx="1178.7" cy="986.9" r="3.3"/><circle cx="1180.9" cy="952.7" r="3.3"/><circle cx="1048.8" cy="1037.6" r="3.3"/><circle cx="1165.1" cy="990.6" r="3.3"/><circle cx="1161.3" cy="973.5" r="3.3"/><circle cx="1180.2" cy="1042.6" r="3.3"/><circle cx="1137.5" cy="998.4" r="3.3"/><circle cx="1171.8" cy="1020.0" r="3.3"/><circle cx="1174.8" cy="991.7" r="3.3"/><circle cx="1154.0" cy="959.6" r="3.3"/><circle cx="1086.2" cy="1006.9" r="3.3"/><circle cx="1236.5" cy="928.1" r="3.3"/><circle cx="1199.6" cy="933.0" r="3.3"/><circle cx="1180.6" cy="966.7" r="3.3"/><circle cx="1166.8" cy="1000.1" r="3.3"/><circle cx="1128.0" cy="1013.2" r="3.3"/><circle cx="1202.6" cy="1028.6" r="3.3"/><circle cx="1129.5" cy="1050.6" r="3.3"/><circle cx="1145.5" cy="1017.5" r="3.3"/><circle cx="1202.3" cy="992.7" r="3.3"/><circle cx="1152.5" cy="1012.3" r="3.3"/><circle cx="1198.5" cy="938.5" r="3.3"/><circle cx="1185.5" cy="969.8" r="3.3"/><circle cx="1142.0" cy="960.8" r="3.3"/><circle cx="1202.2" cy="989.7" r="3.3"/><circle cx="1153.3" cy="939.4" r="3.3"/><circle cx="1173.1" cy="969.1" r="3.3"/><circle cx="1165.7" cy="969.8" r="3.3"/><circle cx="1172.1" cy="953.7" r="3.3"/><circle cx="1130.2" cy="980.2" r="3.3"/><circle cx="1169.2" cy="992.8" r="3.3"/><circle cx="1205.4" cy="1093.6" r="3.3"/><circle cx="1212.6" cy="977.0" r="3.3"/><circle cx="1174.4" cy="997.3" r="3.3"/><circle cx="1189.3" cy="983.5" r="3.3"/><circle cx="1210.9" cy="990.2" r="3.3"/><circle cx="1165.6" cy="995.0" r="3.3"/><circle cx="1179.5" cy="1008.5" r="3.3"/><circle cx="1147.0" cy="993.9" r="3.3"/><circle cx="1152.9" cy="1023.3" r="3.3"/><circle cx="1088.0" cy="1075.5" r="3.3"/><circle cx="1178.2" cy="1071.9" r="3.3"/><circle cx="1126.2" cy="1000.0" r="3.3"/><circle cx="1127.7" cy="1020.3" r="3.3"/><circle cx="1083.6" cy="947.9" r="3.3"/><circle cx="1159.5" cy="1026.6" r="3.3"/><circle cx="1189.2" cy="956.6" r="3.3"/><circle cx="1195.0" cy="1001.2" r="3.3"/><circle cx="1141.5" cy="946.9" r="3.3"/><circle cx="1229.8" cy="952.3" r="3.3"/><circle cx="1180.5" cy="958.0" r="3.3"/><circle cx="1176.1" cy="991.0" r="3.3"/><circle cx="1196.1" cy="1024.9" r="3.3"/><circle cx="1169.6" cy="942.1" r="3.3"/><circle cx="1137.8" cy="1006.2" r="3.3"/><circle cx="1151.5" cy="967.8" r="3.3"/><circle cx="1160.9" cy="989.9" r="3.3"/><circle cx="1117.5" cy="1004.5" r="3.3"/><circle cx="1135.8" cy="967.6" r="3.3"/><circle cx="1162.9" cy="997.2" r="3.3"/><circle cx="1233.8" cy="1025.4" r="3.3"/><circle cx="1195.8" cy="988.0" r="3.3"/><circle cx="1151.9" cy="948.3" r="3.3"/><circle cx="1153.3" cy="931.8" r="3.3"/><circle cx="1183.4" cy="1037.8" r="3.3"/><circle cx="1123.3" cy="1021.9" r="3.3"/><circle cx="1199.8" cy="995.2" r="3.3"/><circle cx="1185.4" cy="961.6" r="3.3"/><circle cx="1200.1" cy="995.4" r="3.3"/><circle cx="1122.5" cy="1007.0" r="3.3"/><circle cx="1188.6" cy="1018.9" r="3.3"/><circle cx="1158.8" cy="1032.7" r="3.3"/><circle cx="1183.3" cy="991.6" r="3.3"/><circle cx="1069.6" cy="1070.1" r="3.3"/><circle cx="1198.0" cy="1018.3" r="3.3"/><circle cx="1127.9" cy="950.2" r="3.3"/><circle cx="1183.4" cy="952.1" r="3.3"/><circle cx="1187.7" cy="1029.0" r="3.3"/><circle cx="1175.6" cy="958.9" r="3.3"/><circle cx="1167.5" cy="989.2" r="3.3"/><circle cx="1186.3" cy="1002.2" r="3.3"/><circle cx="1204.9" cy="927.7" r="3.3"/><circle cx="1218.8" cy="969.7" r="3.3"/><circle cx="1229.2" cy="964.2" r="3.3"/><circle cx="1144.9" cy="1009.3" r="3.3"/><circle cx="1215.9" cy="965.9" r="3.3"/><circle cx="1202.7" cy="941.8" r="3.3"/><circle cx="1165.9" cy="933.7" r="3.3"/><circle cx="1250.3" cy="924.0" r="3.3"/><circle cx="1164.0" cy="960.1" r="3.3"/><circle cx="1090.5" cy="934.7" r="3.3"/><circle cx="1195.0" cy="953.3" r="3.3"/><circle cx="1180.6" cy="967.3" r="3.3"/><circle cx="1155.5" cy="1039.5" r="3.3"/><circle cx="1209.3" cy="930.1" r="3.3"/><circle cx="1272.2" cy="1026.5" r="3.3"/><circle cx="1121.4" cy="1034.2" r="3.3"/><circle cx="1164.6" cy="885.8" r="3.3"/><circle cx="1158.9" cy="1031.6" r="3.3"/><circle cx="1118.8" cy="1009.5" r="3.3"/><circle cx="1127.3" cy="913.0" r="3.3"/><circle cx="1157.8" cy="981.3" r="3.3"/><circle cx="1151.1" cy="986.5" r="3.3"/><circle cx="1146.6" cy="899.1" r="3.3"/><circle cx="1121.5" cy="999.4" r="3.3"/><circle cx="1146.7" cy="983.6" r="3.3"/><circle cx="1161.0" cy="981.3" r="3.3"/><circle cx="1126.9" cy="974.2" r="3.3"/><circle cx="1145.7" cy="973.3" r="3.3"/><circle cx="1208.7" cy="931.1" r="3.3"/><circle cx="1133.9" cy="1057.2" r="3.3"/><circle cx="1154.3" cy="963.5" r="3.3"/><circle cx="1143.1" cy="1004.1" r="3.3"/><circle cx="1209.1" cy="956.3" r="3.3"/><circle cx="1165.9" cy="942.2" r="3.3"/><circle cx="1276.3" cy="1010.6" r="3.3"/><circle cx="1123.1" cy="986.6" r="3.3"/><circle cx="1139.4" cy="958.7" r="3.3"/><circle cx="1213.8" cy="954.2" r="3.3"/><circle cx="1169.2" cy="943.4" r="3.3"/><circle cx="1222.9" cy="1002.0" r="3.3"/><circle cx="1162.3" cy="981.1" r="3.3"/><circle cx="1157.3" cy="982.7" r="3.3"/><circle cx="1116.1" cy="959.5" r="3.3"/><circle cx="1185.6" cy="1013.5" r="3.3"/><circle cx="1164.1" cy="1036.5" r="3.3"/><circle cx="1156.9" cy="909.3" r="3.3"/><circle cx="1140.1" cy="1012.8" r="3.3"/><circle cx="1143.4" cy="921.8" r="3.3"/><circle cx="1240.6" cy="927.0" r="3.3"/><circle cx="1147.6" cy="894.4" r="3.3"/><circle cx="1122.8" cy="952.7" r="3.3"/><circle cx="1100.6" cy="1031.5" r="3.3"/><circle cx="1157.2" cy="1003.8" r="3.3"/><circle cx="1215.3" cy="935.1" r="3.3"/><circle cx="1188.4" cy="965.5" r="3.3"/><circle cx="1128.8" cy="961.0" r="3.3"/><circle cx="1087.5" cy="1012.1" r="3.3"/><circle cx="1183.0" cy="1004.1" r="3.3"/><circle cx="1159.8" cy="972.3" r="3.3"/><circle cx="1185.6" cy="993.8" r="3.3"/><circle cx="1167.1" cy="954.7" r="3.3"/><circle cx="1160.6" cy="975.8" r="3.3"/><circle cx="1181.9" cy="1062.5" r="3.3"/><circle cx="1145.4" cy="1005.1" r="3.3"/><circle cx="1211.7" cy="912.6" r="3.3"/><circle cx="1175.6" cy="939.1" r="3.3"/><circle cx="1200.4" cy="891.6" r="3.3"/><circle cx="1138.8" cy="963.6" r="3.3"/><circle cx="1140.6" cy="977.5" r="3.3"/><circle cx="1099.0" cy="1015.0" r="3.3"/><circle cx="1147.8" cy="1006.5" r="3.3"/><circle cx="1095.8" cy="1051.8" r="3.3"/><circle cx="1143.1" cy="998.1" r="3.3"/><circle cx="1197.8" cy="941.5" r="3.3"/><circle cx="1178.6" cy="1016.0" r="3.3"/><circle cx="1227.2" cy="968.7" r="3.3"/><circle cx="1156.7" cy="1016.8" r="3.3"/><circle cx="1166.1" cy="967.8" r="3.3"/><circle cx="1161.4" cy="983.2" r="3.3"/><circle cx="1101.1" cy="1001.3" r="3.3"/><circle cx="1206.5" cy="956.3" r="3.3"/><circle cx="1119.6" cy="1005.1" r="3.3"/><circle cx="1185.4" cy="1014.6" r="3.3"/><circle cx="1209.0" cy="878.3" r="3.3"/><circle cx="1147.1" cy="1008.0" r="3.3"/><circle cx="1137.9" cy="896.9" r="3.3"/><circle cx="1143.0" cy="952.4" r="3.3"/><circle cx="1163.1" cy="969.8" r="3.3"/><circle cx="1139.3" cy="1039.0" r="3.3"/><circle cx="1152.5" cy="1014.5" r="3.3"/><circle cx="1205.9" cy="998.5" r="3.3"/><circle cx="1146.4" cy="990.6" r="3.3"/><circle cx="1108.9" cy="886.9" r="3.3"/><circle cx="1239.3" cy="1047.3" r="3.3"/><circle cx="1149.0" cy="970.2" r="3.3"/><circle cx="1178.2" cy="985.8" r="3.3"/><circle cx="1167.1" cy="1020.8" r="3.3"/><circle cx="1130.1" cy="900.0" r="3.3"/><circle cx="1223.9" cy="975.7" r="3.3"/><circle cx="1128.6" cy="982.3" r="3.3"/><circle cx="1121.9" cy="988.9" r="3.3"/><circle cx="1131.4" cy="973.6" r="3.3"/><circle cx="1129.1" cy="963.4" r="3.3"/><circle cx="1139.6" cy="975.0" r="3.3"/><circle cx="1205.5" cy="966.9" r="3.3"/><circle cx="1111.5" cy="977.2" r="3.3"/><circle cx="1126.5" cy="958.9" r="3.3"/><circle cx="1207.3" cy="990.1" r="3.3"/><circle cx="1196.6" cy="933.2" r="3.3"/><circle cx="1193.1" cy="945.9" r="3.3"/><circle cx="1172.6" cy="949.6" r="3.3"/><circle cx="1225.0" cy="896.8" r="3.3"/><circle cx="1155.7" cy="970.4" r="3.3"/><circle cx="1244.3" cy="884.1" r="3.3"/><circle cx="1122.1" cy="992.1" r="3.3"/><circle cx="1177.0" cy="1008.9" r="3.3"/><circle cx="1204.0" cy="989.8" r="3.3"/><circle cx="1248.2" cy="939.9" r="3.3"/><circle cx="1144.0" cy="1016.1" r="3.3"/><circle cx="1154.0" cy="1019.0" r="3.3"/><circle cx="1175.6" cy="942.9" r="3.3"/><circle cx="1181.5" cy="953.6" r="3.3"/><circle cx="1148.4" cy="1005.1" r="3.3"/><circle cx="1176.1" cy="1011.0" r="3.3"/><circle cx="1194.3" cy="958.5" r="3.3"/><circle cx="1152.3" cy="974.8" r="3.3"/><circle cx="1157.6" cy="933.5" r="3.3"/><circle cx="1199.9" cy="1065.1" r="3.3"/><circle cx="1162.2" cy="992.3" r="3.3"/><circle cx="1141.7" cy="970.0" r="3.3"/><circle cx="1242.4" cy="984.3" r="3.3"/><circle cx="1193.9" cy="982.5" r="3.3"/><circle cx="1127.5" cy="981.3" r="3.3"/><circle cx="1139.0" cy="1052.1" r="3.3"/><circle cx="1137.5" cy="986.5" r="3.3"/><circle cx="1158.8" cy="878.3" r="3.3"/><circle cx="1177.4" cy="999.6" r="3.3"/><circle cx="1252.5" cy="943.6" r="3.3"/><circle cx="1186.8" cy="919.9" r="3.3"/><circle cx="1196.4" cy="975.1" r="3.3"/><circle cx="1132.8" cy="1004.5" r="3.3"/><circle cx="1098.7" cy="1039.5" r="3.3"/><circle cx="1159.5" cy="1031.2" r="3.3"/><circle cx="1172.4" cy="1009.9" r="3.3"/><circle cx="1178.7" cy="1052.7" r="3.3"/><circle cx="1197.4" cy="998.4" r="3.3"/><circle cx="1177.8" cy="1013.7" r="3.3"/><circle cx="1130.9" cy="1076.0" r="3.3"/><circle cx="1165.6" cy="1032.3" r="3.3"/><circle cx="1224.1" cy="1035.5" r="3.3"/><circle cx="1167.6" cy="979.5" r="3.3"/><circle cx="1180.0" cy="977.5" r="3.3"/><circle cx="1123.9" cy="920.5" r="3.3"/><circle cx="1193.4" cy="1022.4" r="3.3"/><circle cx="1128.0" cy="932.2" r="3.3"/><circle cx="1095.2" cy="1024.6" r="3.3"/><circle cx="1234.7" cy="909.8" r="3.3"/><circle cx="1204.7" cy="987.9" r="3.3"/><circle cx="1188.3" cy="976.6" r="3.3"/><circle cx="1146.9" cy="956.5" r="3.3"/><circle cx="1058.3" cy="961.3" r="3.3"/><circle cx="1199.6" cy="994.6" r="3.3"/><circle cx="1178.8" cy="952.1" r="3.3"/><circle cx="1139.0" cy="1026.8" r="3.3"/><circle cx="1152.9" cy="1040.8" r="3.3"/><circle cx="1169.3" cy="964.0" r="3.3"/><circle cx="1184.7" cy="986.0" r="3.3"/><circle cx="1152.5" cy="981.3" r="3.3"/><circle cx="1157.1" cy="1067.7" r="3.3"/><circle cx="1153.1" cy="978.9" r="3.3"/><circle cx="1195.5" cy="986.9" r="3.3"/><circle cx="1207.5" cy="935.5" r="3.3"/><circle cx="1207.6" cy="921.7" r="3.3"/><circle cx="1233.5" cy="953.7" r="3.3"/><circle cx="1141.7" cy="1009.2" r="3.3"/><circle cx="1108.3" cy="980.2" r="3.3"/><circle cx="1138.2" cy="1056.5" r="3.3"/><circle cx="1161.7" cy="950.8" r="3.3"/><circle cx="1178.6" cy="961.2" r="3.3"/><circle cx="1157.7" cy="979.2" r="3.3"/><circle cx="1096.3" cy="977.9" r="3.3"/><circle cx="1165.1" cy="1042.5" r="3.3"/><circle cx="1120.4" cy="1032.0" r="3.3"/><circle cx="1113.0" cy="987.2" r="3.3"/><circle cx="1187.7" cy="986.7" r="3.3"/><circle cx="1209.9" cy="932.4" r="3.3"/><circle cx="1160.3" cy="994.0" r="3.3"/><circle cx="1183.3" cy="979.6" r="3.3"/><circle cx="1228.8" cy="953.7" r="3.3"/><circle cx="1195.0" cy="1058.4" r="3.3"/><circle cx="1162.4" cy="964.3" r="3.3"/><circle cx="1138.6" cy="1016.9" r="3.3"/><circle cx="1070.3" cy="993.6" r="3.3"/><circle cx="1155.2" cy="1006.9" r="3.3"/><circle cx="1130.7" cy="965.8" r="3.3"/><circle cx="1175.5" cy="947.2" r="3.3"/><circle cx="1160.4" cy="955.5" r="3.3"/><circle cx="1182.8" cy="982.4" r="3.3"/><circle cx="1192.9" cy="1003.1" r="3.3"/><circle cx="1166.3" cy="1020.1" r="3.3"/><circle cx="1132.6" cy="1011.9" r="3.3"/><circle cx="1173.5" cy="993.3" r="3.3"/><circle cx="1211.1" cy="1015.0" r="3.3"/><circle cx="1120.4" cy="1031.3" r="3.3"/><circle cx="1168.6" cy="956.0" r="3.3"/><circle cx="1194.8" cy="1015.3" r="3.3"/><circle cx="1171.1" cy="988.9" r="3.3"/><circle cx="1150.2" cy="946.1" r="3.3"/><circle cx="1180.0" cy="1006.2" r="3.3"/><circle cx="1116.6" cy="989.4" r="3.3"/><circle cx="1131.9" cy="1027.8" r="3.3"/><circle cx="1095.2" cy="1014.7" r="3.3"/><circle cx="1132.9" cy="1015.7" r="3.3"/><circle cx="1150.6" cy="1063.6" r="3.3"/><circle cx="1231.3" cy="957.9" r="3.3"/><circle cx="1251.1" cy="1004.2" r="3.3"/><circle cx="1168.8" cy="1063.3" r="3.3"/><circle cx="1205.9" cy="946.2" r="3.3"/><circle cx="1134.0" cy="1044.6" r="3.3"/><circle cx="1222.6" cy="966.4" r="3.3"/><circle cx="1170.9" cy="1008.0" r="3.3"/><circle cx="1172.5" cy="1012.1" r="3.3"/><circle cx="1218.8" cy="974.6" r="3.3"/><circle cx="1191.2" cy="970.5" r="3.3"/><circle cx="1219.9" cy="1015.8" r="3.3"/><circle cx="1161.3" cy="996.1" r="3.3"/><circle cx="1154.0" cy="967.7" r="3.3"/><circle cx="1212.4" cy="1025.6" r="3.3"/><circle cx="1195.1" cy="968.8" r="3.3"/><circle cx="1192.2" cy="993.0" r="3.3"/><circle cx="1150.3" cy="979.5" r="3.3"/><circle cx="1202.4" cy="1009.3" r="3.3"/><circle cx="1126.9" cy="1000.0" r="3.3"/><circle cx="1070.4" cy="1020.5" r="3.3"/><circle cx="1162.1" cy="995.4" r="3.3"/><circle cx="1203.7" cy="1038.8" r="3.3"/><circle cx="1146.0" cy="1058.2" r="3.3"/><circle cx="1123.5" cy="1037.6" r="3.3"/><circle cx="1048.8" cy="996.9" r="3.3"/><circle cx="1117.0" cy="1001.5" r="3.3"/><circle cx="1254.7" cy="878.3" r="3.3"/><circle cx="1192.7" cy="1047.3" r="3.3"/><circle cx="1107.4" cy="1026.1" r="3.3"/><circle cx="1124.4" cy="988.5" r="3.3"/><circle cx="1169.5" cy="962.2" r="3.3"/><circle cx="1165.5" cy="998.7" r="3.3"/><circle cx="1135.9" cy="987.1" r="3.3"/><circle cx="1144.3" cy="990.9" r="3.3"/><circle cx="1158.7" cy="936.7" r="3.3"/><circle cx="1174.3" cy="913.4" r="3.3"/><circle cx="1137.8" cy="1004.6" r="3.3"/><circle cx="1138.8" cy="971.4" r="3.3"/><circle cx="1215.7" cy="927.7" r="3.3"/><circle cx="1193.8" cy="947.5" r="3.3"/><circle cx="1211.2" cy="972.5" r="3.3"/><circle cx="1094.8" cy="1059.1" r="3.3"/><circle cx="1127.5" cy="915.9" r="3.3"/><circle cx="1152.9" cy="934.9" r="3.3"/><circle cx="1148.8" cy="927.3" r="3.3"/><circle cx="1185.2" cy="1062.3" r="3.3"/><circle cx="1178.8" cy="952.9" r="3.3"/><circle cx="1098.3" cy="1047.3" r="3.3"/><circle cx="1185.0" cy="1044.2" r="3.3"/><circle cx="1191.7" cy="985.0" r="3.3"/><circle cx="1098.7" cy="1018.4" r="3.3"/><circle cx="1147.7" cy="1011.1" r="3.3"/><circle cx="1172.8" cy="969.6" r="3.3"/><circle cx="1165.3" cy="933.5" r="3.3"/><circle cx="1105.6" cy="1025.7" r="3.3"/><circle cx="1185.6" cy="987.9" r="3.3"/><circle cx="1104.3" cy="945.8" r="3.3"/><circle cx="1128.0" cy="984.2" r="3.3"/><circle cx="1097.3" cy="979.6" r="3.3"/><circle cx="1222.6" cy="1000.7" r="3.3"/><circle cx="1180.0" cy="963.6" r="3.3"/><circle cx="1169.4" cy="989.9" r="3.3"/><circle cx="1209.3" cy="914.8" r="3.3"/><circle cx="1230.6" cy="1092.0" r="3.3"/><circle cx="1151.5" cy="976.6" r="3.3"/><circle cx="1152.7" cy="1022.8" r="3.3"/><circle cx="1230.6" cy="954.7" r="3.3"/><circle cx="1109.7" cy="947.5" r="3.3"/><circle cx="1189.8" cy="974.0" r="3.3"/><circle cx="1173.3" cy="979.2" r="3.3"/><circle cx="1152.6" cy="1021.6" r="3.3"/><circle cx="1146.2" cy="1020.9" r="3.3"/><circle cx="1168.8" cy="968.1" r="3.3"/><circle cx="1114.1" cy="973.5" r="3.3"/><circle cx="1132.9" cy="966.4" r="3.3"/><circle cx="1152.6" cy="979.5" r="3.3"/><circle cx="1178.4" cy="958.1" r="3.3"/><circle cx="1203.0" cy="1017.5" r="3.3"/><circle cx="1197.0" cy="1001.3" r="3.3"/><circle cx="1188.2" cy="962.7" r="3.3"/><circle cx="1156.4" cy="1019.1" r="3.3"/><circle cx="1189.4" cy="1013.0" r="3.3"/><circle cx="1184.1" cy="946.1" r="3.3"/><circle cx="1154.0" cy="1014.7" r="3.3"/><circle cx="1144.8" cy="984.1" r="3.3"/><circle cx="1213.1" cy="961.3" r="3.3"/><circle cx="1149.5" cy="977.8" r="3.3"/><circle cx="1230.2" cy="912.2" r="3.3"/><circle cx="1116.7" cy="961.9" r="3.3"/><circle cx="1159.9" cy="1019.2" r="3.3"/><circle cx="1203.3" cy="956.9" r="3.3"/><circle cx="1180.8" cy="998.9" r="3.3"/><circle cx="1169.1" cy="1004.5" r="3.3"/><circle cx="1129.2" cy="884.9" r="3.3"/><circle cx="1123.6" cy="981.7" r="3.3"/><circle cx="1184.3" cy="910.8" r="3.3"/><circle cx="1164.3" cy="996.9" r="3.3"/><circle cx="1152.6" cy="1003.6" r="3.3"/><circle cx="1193.4" cy="953.2" r="3.3"/><circle cx="1209.2" cy="917.0" r="3.3"/><circle cx="1166.4" cy="884.8" r="3.3"/><circle cx="1099.6" cy="972.6" r="3.3"/><circle cx="1256.2" cy="1022.7" r="3.3"/><circle cx="1149.5" cy="952.7" r="3.3"/><circle cx="1167.2" cy="983.9" r="3.3"/><circle cx="1172.2" cy="1029.7" r="3.3"/><circle cx="1173.7" cy="984.4" r="3.3"/><circle cx="1277.6" cy="970.5" r="3.3"/><circle cx="1201.6" cy="961.0" r="3.3"/><circle cx="1157.4" cy="973.4" r="3.3"/><circle cx="1247.1" cy="961.3" r="3.3"/><circle cx="1196.7" cy="962.9" r="3.3"/><circle cx="1173.2" cy="1020.5" r="3.3"/><circle cx="1152.3" cy="1007.9" r="3.3"/><circle cx="1196.5" cy="967.5" r="3.3"/><circle cx="1169.4" cy="1070.3" r="3.3"/><circle cx="1161.9" cy="924.5" r="3.3"/><circle cx="1172.1" cy="1028.1" r="3.3"/><circle cx="1151.1" cy="1032.9" r="3.3"/><circle cx="1176.3" cy="925.4" r="3.3"/><circle cx="1159.4" cy="928.6" r="3.3"/><circle cx="1171.3" cy="935.5" r="3.3"/><circle cx="1132.8" cy="1003.0" r="3.3"/><circle cx="1153.4" cy="990.7" r="3.3"/><circle cx="1250.3" cy="940.8" r="3.3"/><circle cx="1230.7" cy="984.8" r="3.3"/><circle cx="1160.3" cy="1005.6" r="3.3"/><circle cx="1098.2" cy="990.5" r="3.3"/><circle cx="1146.1" cy="1007.5" r="3.3"/><circle cx="1092.9" cy="964.9" r="3.3"/><circle cx="1132.5" cy="1021.1" r="3.3"/><circle cx="1165.5" cy="1026.5" r="3.3"/><circle cx="1187.0" cy="956.8" r="3.3"/><circle cx="1176.4" cy="1004.0" r="3.3"/><circle cx="1125.2" cy="997.1" r="3.3"/><circle cx="1232.7" cy="1007.9" r="3.3"/><circle cx="1167.5" cy="1036.8" r="3.3"/><circle cx="1171.2" cy="994.7" r="3.3"/><circle cx="1185.2" cy="960.5" r="3.3"/><circle cx="1162.2" cy="997.7" r="3.3"/><circle cx="1145.0" cy="985.4" r="3.3"/><circle cx="1145.2" cy="1011.3" r="3.3"/><circle cx="1144.2" cy="1040.3" r="3.3"/><circle cx="1161.2" cy="989.7" r="3.3"/><circle cx="1158.9" cy="1003.2" r="3.3"/><circle cx="1196.4" cy="878.3" r="3.3"/><circle cx="1157.9" cy="991.2" r="3.3"/><circle cx="1134.3" cy="971.4" r="3.3"/><circle cx="1233.2" cy="1004.9" r="3.3"/><circle cx="1157.4" cy="929.7" r="3.3"/><circle cx="1192.9" cy="964.4" r="3.3"/><circle cx="1184.7" cy="966.2" r="3.3"/><circle cx="1144.9" cy="953.9" r="3.3"/><circle cx="1179.1" cy="988.3" r="3.3"/><circle cx="1238.0" cy="960.4" r="3.3"/><circle cx="1195.8" cy="1024.9" r="3.3"/><circle cx="1143.7" cy="925.6" r="3.3"/><circle cx="1189.1" cy="909.1" r="3.3"/><circle cx="1231.6" cy="1039.1" r="3.3"/><circle cx="1113.0" cy="901.0" r="3.3"/></g>
<line x1="1050.87" y1="995.38" x2="1282.92" y2="964.86" stroke="#6a6a6a" stroke-width="1.3" />
<rect x="998.6" y="813.5" width="334.5" height="334.5" fill="none" stroke="#000" stroke-width="3.4"/>
<line x1="984.10" y1="1148.00" x2="998.60" y2="1148.00" stroke="#000" stroke-width="3.2" />
<line x1="998.60" y1="1148.00" x2="998.60" y2="1162.50" stroke="#000" stroke-width="3.2" />
<text font-family="Liberation Sans, sans-serif" font-weight="bold" font-size="27.80" fill="#000" transform="translate(959.20,1157.60) scale(0.9200,1)">-4</text>
<text font-family="Liberation Sans, sans-serif" font-weight="bold" font-size="27.80" fill="#000" transform="translate(984.30,1188.40) scale(0.9200,1)">-4</text>
<line x1="984.10" y1="1064.38" x2="998.60" y2="1064.38" stroke="#000" stroke-width="3.2" />
<line x1="1082.22" y1="1148.00" x2="1082.22" y2="1162.50" stroke="#000" stroke-width="3.2" />
<text font-family="Liberation Sans, sans-serif" font-weight="bold" font-size="27.80" fill="#000" transform="translate(960.08,1073.97) scale(0.9200,1)">-2</text>
<text font-family="Liberation Sans, sans-serif" font-weight="bold" font-size="27.80" fill="#000" transform="translate(1068.37,1188.40) scale(0.9200,1)">-2</text>
<line x1="984.10" y1="980.75" x2="998.60" y2="980.75" stroke="#000" stroke-width="3.2" />
<line x1="1165.85" y1="1148.00" x2="1165.85" y2="1162.50" stroke="#000" stroke-width="3.2" />
<text font-family="Liberation Sans, sans-serif" font-weight="bold" font-size="27.80" fill="#000" transform="translate(967.91,990.35) scale(0.9700,1)">0</text>
<text font-family="Liberation Sans, sans-serif" font-weight="bold" font-size="27.80" fill="#000" transform="translate(1158.37,1188.40) scale(0.9700,1)">0</text>
<line x1="984.10" y1="897.12" x2="998.60" y2="897.12" stroke="#000" stroke-width="3.2" />
<line x1="1249.47" y1="1148.00" x2="1249.47" y2="1162.50" stroke="#000" stroke-width="3.2" />
<text font-family="Liberation Sans, sans-serif" font-weight="bold" font-size="27.80" fill="#000" transform="translate(967.88,906.73) scale(0.9700,1)">2</text>
<text font-family="Liberation Sans, sans-serif" font-weight="bold" font-size="27.80" fill="#000" transform="translate(1242.05,1188.40) scale(0.9700,1)">2</text>
<line x1="984.10" y1="813.50" x2="998.60" y2="813.50" stroke="#000" stroke-width="3.2" />
<line x1="1333.10" y1="1148.00" x2="1333.10" y2="1162.50" stroke="#000" stroke-width="3.2" />
<text font-family="Liberation Sans, sans-serif" font-weight="bold" font-size="27.80" fill="#000" transform="translate(966.95,823.10) scale(0.9700,1)">4</text>
<text font-family="Liberation Sans, sans-serif" font-weight="bold" font-size="27.80" fill="#000" transform="translate(1325.47,1188.40) scale(0.9700,1)">4</text>
<text font-family="Liberation Sans, sans-serif" font-weight="bold" font-style="italic" font-size="26.50" fill="#000" transform="translate(1121.95,1227.30) scale(0.9900,1)">CHEK1</text>
<text font-family="Liberation Sans, sans-serif" font-weight="bold" font-style="italic" font-size="29.50" fill="#000" transform="translate(931.40,1031.22) rotate(-90) scale(0.9138,1)">CXCL11</text>
<text font-family="Liberation Sans, sans-serif" font-weight="normal" font-size="38.67" fill="#262626" transform="translate(95.42,1283.00) scale(0.9671,1)">r=0.2095, P&lt;0.0001</text>
<line x1="260.55" y1="1309.20" x2="260.55" y2="1643.70" stroke="#111" stroke-width="1.4" />
<line x1="93.30" y1="1476.45" x2="427.80" y2="1476.45" stroke="#111" stroke-width="1.4" />
<g fill="#c6c6c6" stroke="#111" stroke-width="1.7"><circle cx="275.2" cy="1629.1" r="3.3"/><circle cx="99.6" cy="1501.5" r="3.3"/><circle cx="402.7" cy="1420.0" r="3.3"/><circle cx="398.5" cy="1507.8" r="3.3"/><circle cx="137.2" cy="1497.4" r="3.3"/><circle cx="245.9" cy="1378.2" r="3.3"/><circle cx="300.3" cy="1380.3" r="3.3"/><circle cx="287.7" cy="1376.1" r="3.3"/><circle cx="156.0" cy="1428.4" r="3.3"/><circle cx="344.2" cy="1482.7" r="3.3"/><circle cx="230.7" cy="1512.7" r="3.3"/><circle cx="277.0" cy="1470.0" r="3.3"/><circle cx="295.3" cy="1420.3" r="3.3"/><circle cx="251.7" cy="1480.4" r="3.3"/><circle cx="301.4" cy="1498.7" r="3.3"/><circle cx="246.4" cy="1464.2" r="3.3"/><circle cx="336.0" cy="1455.9" r="3.3"/><circle cx="204.0" cy="1494.4" r="3.3"/><circle cx="264.4" cy="1484.8" r="3.3"/><circle cx="266.6" cy="1475.2" r="3.3"/><circle cx="269.5" cy="1536.7" r="3.3"/><circle cx="254.0" cy="1474.0" r="3.3"/><circle cx="151.8" cy="1512.7" r="3.3"/><circle cx="297.2" cy="1428.7" r="3.3"/><circle cx="250.6" cy="1482.1" r="3.3"/><circle cx="270.4" cy="1481.4" r="3.3"/><circle cx="319.1" cy="1445.5" r="3.3"/><circle cx="283.3" cy="1442.0" r="3.3"/><circle cx="228.7" cy="1495.4" r="3.3"/><circle cx="176.4" cy="1449.8" r="3.3"/><circle cx="257.9" cy="1504.3" r="3.3"/><circle cx="304.4" cy="1487.7" r="3.3"/><circle cx="282.7" cy="1541.0" r="3.3"/><circle cx="259.4" cy="1535.3" r="3.3"/><circle cx="241.5" cy="1469.7" r="3.3"/><circle cx="213.7" cy="1468.3" r="3.3"/><circle cx="309.3" cy="1428.8" r="3.3"/><circle cx="306.4" cy="1474.5" r="3.3"/><circle cx="293.1" cy="1466.2" r="3.3"/><circle cx="240.1" cy="1516.0" r="3.3"/><circle cx="224.6" cy="1407.9" r="3.3"/><circle cx="271.9" cy="1504.4" r="3.3"/><circle cx="248.4" cy="1457.8" r="3.3"/><circle cx="229.3" cy="1472.3" r="3.3"/><circle cx="306.1" cy="1470.2" r="3.3"/><circle cx="258.1" cy="1491.0" r="3.3"/><circle cx="283.2" cy="1542.7" r="3.3"/><circle cx="326.6" cy="1490.9" r="3.3"/><circle cx="301.3" cy="1490.7" r="3.3"/><circle cx="285.0" cy="1441.2" r="3.3"/><circle cx="314.0" cy="1471.5" r="3.3"/><circle cx="237.8" cy="1479.7" r="3.3"/><circle cx="251.1" cy="1486.7" r="3.3"/><circle cx="233.7" cy="1468.3" r="3.3"/><circle cx="264.9" cy="1519.1" r="3.3"/><circle cx="237.3" cy="1543.9" r="3.3"/><circle cx="224.9" cy="1566.2" r="3.3"/><circle cx="250.5" cy="1472.1" r="3.3"/><circle cx="293.5" cy="1523.6" r="3.3"/><circle cx="253.9" cy="1455.7" r="3.3"/><circle cx="246.3" cy="1524.8" r="3.3"/><circle cx="296.7" cy="1493.2" r="3.3"/><circle cx="244.1" cy="1466.1" r="3.3"/><circle cx="239.9" cy="1487.0" r="3.3"/><circle cx="288.0" cy="1426.5" r="3.3"/><circle cx="263.7" cy="1450.5" r="3.3"/><circle cx="291.3" cy="1488.5" r="3.3"/><circle cx="265.5" cy="1523.1" r="3.3"/><circle cx="318.8" cy="1447.6" r="3.3"/><circle cx="271.8" cy="1508.3" r="3.3"/><circle cx="232.0" cy="1472.9" r="3.3"/><circle cx="353.1" cy="1477.2" r="3.3"/><circle cx="239.8" cy="1484.3" r="3.3"/><circle cx="323.6" cy="1459.6" r="3.3"/><circle cx="242.3" cy="1489.1" r="3.3"/><circle cx="251.8" cy="1512.9" r="3.3"/><circle cx="324.8" cy="1469.7" r="3.3"/><circle cx="278.8" cy="1416.8" r="3.3"/><circle cx="258.1" cy="1482.6" r="3.3"/><circle cx="283.3" cy="1498.7" r="3.3"/><circle cx="264.6" cy="1520.7" r="3.3"/><circle cx="333.5" cy="1537.1" r="3.3"/><circle cx="231.5" cy="1436.6" r="3.3"/><circle cx="319.5" cy="1492.8" r="3.3"/><circle cx="291.0" cy="1509.2" r="3.3"/><circle cx="219.3" cy="1533.5" r="3.3"/><circle cx="255.6" cy="1518.3" r="3.3"/><circle cx="306.3" cy="1410.5" r="3.3"/><circle cx="238.9" cy="1523.7" r="3.3"/><circle cx="257.8" cy="1484.8" r="3.3"/><circle cx="198.3" cy="1409.8" r="3.3"/><circle cx="264.4" cy="1431.6" r="3.3"/><circle cx="272.2" cy="1516.3" r="3.3"/><circle cx="257.2" cy="1467.2" r="3.3"/><circle cx="273.3" cy="1448.2" r="3.3"/><circle cx="265.7" cy="1514.8" r="3.3"/><circle cx="247.3" cy="1447.5" r="3.3"/><circle cx="277.0" cy="1493.9" r="3.3"/><circle cx="273.1" cy="1440.8" r="3.3"/><circle cx="222.1" cy="1486.4" r="3.3"/><circle cx="301.2" cy="1465.2" r="3.3"/><circle cx="290.0" cy="1437.6" r="3.3"/><circle cx="233.4" cy="1401.3" r="3.3"/><circle cx="338.3" cy="1442.1" r="3.3"/><circle cx="260.7" cy="1446.7" r="3.3"/><circle cx="248.2" cy="1420.0" r="3.3"/><circle cx="185.6" cy="1424.5" r="3.3"/><circle cx="260.2" cy="1465.3" r="3.3"/><circle cx="261.3" cy="1550.7" r="3.3"/><circle cx="279.5" cy="1394.2" r="3.3"/><circle cx="294.3" cy="1477.3" r="3.3"/><circle cx="255.6" cy="1542.3" r="3.3"/><circle cx="208.6" cy="1438.7" r="3.3"/><circle cx="243.7" cy="1485.1" r="3.3"/><circle cx="223.1" cy="1519.8" r="3.3"/><circle cx="237.4" cy="1430.2" r="3.3"/><circle cx="272.6" cy="1485.2" r="3.3"/><circle cx="254.2" cy="1508.8" r="3.3"/><circle cx="243.4" cy="1451.4" r="3.3"/><circle cx="349.8" cy="1515.0" r="3.3"/><circle cx="239.8" cy="1486.2" r="3.3"/><circle cx="211.8" cy="1470.3" r="3.3"/><circle cx="221.2" cy="1440.5" r="3.3"/><circle cx="254.5" cy="1470.9" r="3.3"/><circle cx="237.6" cy="1444.7" r="3.3"/><circle cx="296.3" cy="1525.9" r="3.3"/><circle cx="274.5" cy="1515.6" r="3.3"/><circle cx="267.2" cy="1482.0" r="3.3"/><circle cx="249.4" cy="1444.6" r="3.3"/><circle cx="246.3" cy="1451.7" r="3.3"/><circle cx="340.5" cy="1484.3" r="3.3"/><circle cx="235.5" cy="1505.0" r="3.3"/><circle cx="293.4" cy="1449.8" r="3.3"/><circle cx="246.7" cy="1445.0" r="3.3"/><circle cx="331.3" cy="1506.3" r="3.3"/><circle cx="279.1" cy="1507.3" r="3.3"/><circle cx="230.7" cy="1488.5" r="3.3"/><circle cx="252.7" cy="1419.2" r="3.3"/><circle cx="263.6" cy="1447.0" r="3.3"/><circle cx="206.4" cy="1496.3" r="3.3"/><circle cx="278.0" cy="1518.2" r="3.3"/><circle cx="194.9" cy="1375.3" r="3.3"/><circle cx="224.1" cy="1488.2" r="3.3"/><circle cx="286.2" cy="1453.0" r="3.3"/><circle cx="301.6" cy="1445.7" r="3.3"/><circle cx="255.6" cy="1375.3" r="3.3"/><circle cx="197.7" cy="1486.6" r="3.3"/><circle cx="251.1" cy="1532.0" r="3.3"/><circle cx="253.0" cy="1493.4" r="3.3"/><circle cx="321.5" cy="1435.4" r="3.3"/><circle cx="319.0" cy="1427.7" r="3.3"/><circle cx="243.9" cy="1479.3" r="3.3"/><circle cx="186.0" cy="1500.8" r="3.3"/><circle cx="256.0" cy="1509.0" r="3.3"/><circle cx="280.1" cy="1456.4" r="3.3"/><circle cx="254.6" cy="1470.9" r="3.3"/><circle cx="339.7" cy="1490.8" r="3.3"/><circle cx="254.5" cy="1508.3" r="3.3"/><circle cx="273.6" cy="1526.7" r="3.3"/><circle cx="272.6" cy="1523.5" r="3.3"/><circle cx="322.0" cy="1436.3" r="3.3"/><circle cx="271.7" cy="1450.5" r="3.3"/><circle cx="258.2" cy="1427.1" r="3.3"/><circle cx="232.7" cy="1450.5" r="3.3"/><circle cx="269.6" cy="1502.8" r="3.3"/><circle cx="265.1" cy="1486.5" r="3.3"/><circle cx="270.3" cy="1494.7" r="3.3"/><circle cx="245.4" cy="1534.4" r="3.3"/><circle cx="210.0" cy="1500.7" r="3.3"/><circle cx="235.4" cy="1472.3" r="3.3"/><circle cx="269.0" cy="1525.9" r="3.3"/><circle cx="264.0" cy="1473.7" r="3.3"/><circle cx="260.5" cy="1479.2" r="3.3"/><circle cx="231.5" cy="1490.1" r="3.3"/><circle cx="269.3" cy="1494.1" r="3.3"/><circle cx="275.5" cy="1510.3" r="3.3"/><circle cx="238.9" cy="1467.6" r="3.3"/><circle cx="186.2" cy="1489.4" r="3.3"/><circle cx="249.7" cy="1515.8" r="3.3"/><circle cx="241.5" cy="1375.3" r="3.3"/><circle cx="231.9" cy="1535.2" r="3.3"/><circle cx="199.0" cy="1411.5" r="3.3"/><circle cx="234.2" cy="1447.1" r="3.3"/><circle cx="231.3" cy="1456.2" r="3.3"/><circle cx="258.8" cy="1506.7" r="3.3"/><circle cx="283.4" cy="1510.9" r="3.3"/><circle cx="284.8" cy="1511.7" r="3.3"/><circle cx="196.6" cy="1447.1" r="3.3"/><circle cx="227.9" cy="1421.4" r="3.3"/><circle cx="302.2" cy="1548.0" r="3.3"/><circle cx="216.5" cy="1444.0" r="3.3"/><circle cx="226.5" cy="1494.6" r="3.3"/><circle cx="282.9" cy="1518.2" r="3.3"/><circle cx="255.5" cy="1416.3" r="3.3"/><circle cx="321.0" cy="1466.8" r="3.3"/><circle cx="287.6" cy="1511.2" r="3.3"/><circle cx="229.3" cy="1528.3" r="3.3"/><circle cx="321.6" cy="1475.6" r="3.3"/><circle cx="273.2" cy="1470.6" r="3.3"/><circle cx="283.5" cy="1503.7" r="3.3"/><circle cx="303.9" cy="1453.0" r="3.3"/><circle cx="242.4" cy="1487.8" r="3.3"/><circle cx="267.6" cy="1479.1" r="3.3"/><circle cx="309.0" cy="1413.8" r="3.3"/><circle cx="210.7" cy="1410.2" r="3.3"/><circle cx="309.7" cy="1492.0" r="3.3"/><circle cx="267.6" cy="1429.7" r="3.3"/><circle cx="270.8" cy="1398.8" r="3.3"/><circle cx="226.3" cy="1438.9" r="3.3"/><circle cx="305.0" cy="1428.6" r="3.3"/><circle cx="198.7" cy="1472.3" r="3.3"/><circle cx="273.3" cy="1486.5" r="3.3"/><circle cx="356.7" cy="1466.0" r="3.3"/><circle cx="316.3" cy="1383.8" r="3.3"/><circle cx="275.2" cy="1526.8" r="3.3"/><circle cx="236.7" cy="1503.3" r="3.3"/><circle cx="339.3" cy="1430.6" r="3.3"/><circle cx="312.8" cy="1471.5" r="3.3"/><circle cx="279.5" cy="1506.1" r="3.3"/><circle cx="274.2" cy="1557.5" r="3.3"/><circle cx="303.4" cy="1513.9" r="3.3"/><circle cx="244.7" cy="1464.4" r="3.3"/><circle cx="272.1" cy="1398.7" r="3.3"/><circle cx="258.1" cy="1536.6" r="3.3"/><circle cx="265.5" cy="1488.6" r="3.3"/><circle cx="244.1" cy="1459.8" r="3.3"/><circle cx="278.6" cy="1474.6" r="3.3"/><circle cx="265.7" cy="1467.0" r="3.3"/><circle cx="277.6" cy="1480.4" r="3.3"/><circle cx="253.3" cy="1543.5" r="3.3"/><circle cx="247.8" cy="1516.6" r="3.3"/><circle cx="273.2" cy="1375.3" r="3.3"/><circle cx="267.2" cy="1504.6" r="3.3"/><circle cx="275.4" cy="1441.5" r="3.3"/><circle cx="248.7" cy="1457.6" r="3.3"/><circle cx="256.9" cy="1483.1" r="3.3"/><circle cx="287.3" cy="1495.9" r="3.3"/><circle cx="268.0" cy="1488.8" r="3.3"/><circle cx="249.9" cy="1492.4" r="3.3"/><circle cx="300.4" cy="1527.5" r="3.3"/><circle cx="334.6" cy="1546.5" r="3.3"/><circle cx="275.1" cy="1512.1" r="3.3"/><circle cx="312.0" cy="1489.1" r="3.3"/><circle cx="276.9" cy="1560.0" r="3.3"/><circle cx="242.1" cy="1498.0" r="3.3"/><circle cx="312.8" cy="1510.0" r="3.3"/><circle cx="278.3" cy="1487.4" r="3.3"/><circle cx="291.3" cy="1467.8" r="3.3"/><circle cx="317.8" cy="1416.9" r="3.3"/><circle cx="291.6" cy="1509.7" r="3.3"/><circle cx="255.9" cy="1441.1" r="3.3"/><circle cx="209.6" cy="1522.6" r="3.3"/><circle cx="298.2" cy="1402.1" r="3.3"/><circle cx="265.3" cy="1492.3" r="3.3"/><circle cx="288.7" cy="1464.0" r="3.3"/><circle cx="274.6" cy="1473.9" r="3.3"/><circle cx="191.1" cy="1459.3" r="3.3"/><circle cx="303.2" cy="1501.6" r="3.3"/><circle cx="204.0" cy="1439.7" r="3.3"/><circle cx="290.8" cy="1503.7" r="3.3"/><circle cx="294.7" cy="1547.6" r="3.3"/><circle cx="304.6" cy="1446.3" r="3.3"/><circle cx="270.9" cy="1478.1" r="3.3"/><circle cx="222.3" cy="1459.3" r="3.3"/><circle cx="356.7" cy="1573.1" r="3.3"/><circle cx="260.8" cy="1510.5" r="3.3"/><circle cx="260.8" cy="1463.3" r="3.3"/><circle cx="260.7" cy="1434.4" r="3.3"/><circle cx="345.8" cy="1445.9" r="3.3"/><circle cx="305.3" cy="1436.6" r="3.3"/><circle cx="232.8" cy="1506.3" r="3.3"/><circle cx="232.6" cy="1491.3" r="3.3"/><circle cx="192.0" cy="1526.8" r="3.3"/><circle cx="290.5" cy="1446.9" r="3.3"/><circle cx="261.0" cy="1439.4" r="3.3"/><circle cx="229.8" cy="1486.3" r="3.3"/><circle cx="291.3" cy="1474.0" r="3.3"/><circle cx="280.2" cy="1508.0" r="3.3"/><circle cx="302.2" cy="1509.0" r="3.3"/><circle cx="252.7" cy="1432.3" r="3.3"/><circle cx="275.3" cy="1474.3" r="3.3"/><circle cx="257.4" cy="1437.3" r="3.3"/><circle cx="151.8" cy="1501.3" r="3.3"/><circle cx="215.4" cy="1465.9" r="3.3"/><circle cx="294.2" cy="1440.7" r="3.3"/><circle cx="356.7" cy="1546.2" r="3.3"/><circle cx="272.5" cy="1479.8" r="3.3"/><circle cx="251.4" cy="1517.0" r="3.3"/><circle cx="156.3" cy="1449.8" r="3.3"/><circle cx="284.6" cy="1487.4" r="3.3"/><circle cx="257.7" cy="1453.8" r="3.3"/><circle cx="278.3" cy="1450.3" r="3.3"/><circle cx="234.1" cy="1456.4" r="3.3"/><circle cx="289.3" cy="1486.6" r="3.3"/><circle cx="214.4" cy="1490.0" r="3.3"/><circle cx="337.5" cy="1495.9" r="3.3"/><circle cx="213.6" cy="1500.5" r="3.3"/><circle cx="330.9" cy="1494.2" r="3.3"/><circle cx="351.2" cy="1519.3" r="3.3"/><circle cx="281.4" cy="1523.6" r="3.3"/><circle cx="270.5" cy="1451.0" r="3.3"/><circle cx="284.1" cy="1525.3" r="3.3"/><circle cx="192.7" cy="1472.4" r="3.3"/><circle cx="268.0" cy="1433.8" r="3.3"/><circle cx="249.3" cy="1527.5" r="3.3"/><circle cx="272.1" cy="1486.3" r="3.3"/><circle cx="290.2" cy="1535.2" r="3.3"/><circle cx="206.8" cy="1502.4" r="3.3"/><circle cx="289.2" cy="1505.7" r="3.3"/><circle cx="256.5" cy="1540.1" r="3.3"/><circle cx="303.0" cy="1415.8" r="3.3"/><circle cx="312.7" cy="1485.5" r="3.3"/><circle cx="244.4" cy="1557.8" r="3.3"/><circle cx="273.5" cy="1418.1" r="3.3"/><circle cx="283.2" cy="1551.6" r="3.3"/><circle cx="256.7" cy="1458.7" r="3.3"/><circle cx="258.2" cy="1464.6" r="3.3"/><circle cx="289.4" cy="1521.7" r="3.3"/><circle cx="334.3" cy="1479.4" r="3.3"/><circle cx="272.9" cy="1439.0" r="3.3"/><circle cx="296.3" cy="1456.4" r="3.3"/><circle cx="270.0" cy="1501.5" r="3.3"/><circle cx="334.9" cy="1496.5" r="3.3"/><circle cx="294.8" cy="1524.7" r="3.3"/><circle cx="236.3" cy="1404.5" r="3.3"/><circle cx="286.4" cy="1483.1" r="3.3"/><circle cx="278.1" cy="1479.6" r="3.3"/><circle cx="288.1" cy="1520.7" r="3.3"/><circle cx="257.0" cy="1521.6" r="3.3"/><circle cx="239.9" cy="1517.4" r="3.3"/><circle cx="267.3" cy="1514.2" r="3.3"/><circle cx="292.8" cy="1495.6" r="3.3"/><circle cx="265.5" cy="1558.1" r="3.3"/><circle cx="211.8" cy="1540.4" r="3.3"/><circle cx="225.0" cy="1467.7" r="3.3"/><circle cx="194.4" cy="1485.8" r="3.3"/><circle cx="284.1" cy="1420.2" r="3.3"/><circle cx="230.8" cy="1532.9" r="3.3"/><circle cx="272.8" cy="1540.4" r="3.3"/><circle cx="165.9" cy="1476.6" r="3.3"/><circle cx="282.8" cy="1424.6" r="3.3"/><circle cx="253.5" cy="1530.6" r="3.3"/><circle cx="269.8" cy="1498.4" r="3.3"/><circle cx="356.7" cy="1481.0" r="3.3"/><circle cx="241.3" cy="1403.3" r="3.3"/><circle cx="260.7" cy="1381.5" r="3.3"/><circle cx="220.6" cy="1465.2" r="3.3"/><circle cx="293.8" cy="1441.2" r="3.3"/><circle cx="257.4" cy="1443.9" r="3.3"/><circle cx="189.7" cy="1474.2" r="3.3"/><circle cx="293.6" cy="1465.9" r="3.3"/><circle cx="263.7" cy="1568.6" r="3.3"/><circle cx="315.9" cy="1426.3" r="3.3"/><circle cx="253.7" cy="1441.4" r="3.3"/><circle cx="248.8" cy="1442.4" r="3.3"/><circle cx="293.1" cy="1523.2" r="3.3"/><circle cx="316.0" cy="1459.9" r="3.3"/><circle cx="224.1" cy="1520.4" r="3.3"/><circle cx="229.4" cy="1533.6" r="3.3"/><circle cx="307.1" cy="1439.3" r="3.3"/><circle cx="254.5" cy="1491.6" r="3.3"/><circle cx="266.9" cy="1488.1" r="3.3"/><circle cx="275.0" cy="1468.9" r="3.3"/><circle cx="269.4" cy="1424.0" r="3.3"/><circle cx="196.9" cy="1527.1" r="3.3"/><circle cx="293.9" cy="1467.2" r="3.3"/><circle cx="303.8" cy="1428.3" r="3.3"/><circle cx="208.3" cy="1472.9" r="3.3"/><circle cx="245.2" cy="1499.4" r="3.3"/><circle cx="295.3" cy="1492.7" r="3.3"/><circle cx="268.1" cy="1493.3" r="3.3"/><circle cx="264.6" cy="1479.8" r="3.3"/><circle cx="289.6" cy="1426.6" r="3.3"/><circle cx="315.9" cy="1572.4" r="3.3"/><circle cx="231.5" cy="1452.9" r="3.3"/><circle cx="297.3" cy="1511.6" r="3.3"/><circle cx="294.0" cy="1481.8" r="3.3"/><circle cx="251.1" cy="1460.9" r="3.3"/><circle cx="234.6" cy="1471.3" r="3.3"/><circle cx="275.7" cy="1460.0" r="3.3"/><circle cx="257.5" cy="1513.0" r="3.3"/><circle cx="224.0" cy="1531.3" r="3.3"/><circle cx="219.4" cy="1445.4" r="3.3"/><circle cx="267.0" cy="1480.6" r="3.3"/><circle cx="210.6" cy="1487.0" r="3.3"/><circle cx="267.4" cy="1483.9" r="3.3"/><circle cx="240.0" cy="1433.4" r="3.3"/><circle cx="275.4" cy="1504.3" r="3.3"/><circle cx="293.1" cy="1484.6" r="3.3"/><circle cx="287.5" cy="1477.1" r="3.3"/><circle cx="267.5" cy="1531.9" r="3.3"/><circle cx="288.3" cy="1492.7" r="3.3"/><circle cx="277.0" cy="1482.9" r="3.3"/><circle cx="231.7" cy="1493.8" r="3.3"/><circle cx="292.2" cy="1474.1" r="3.3"/><circle cx="325.8" cy="1459.3" r="3.3"/><circle cx="270.9" cy="1487.8" r="3.3"/><circle cx="254.5" cy="1428.5" r="3.3"/><circle cx="197.8" cy="1483.7" r="3.3"/><circle cx="217.0" cy="1499.6" r="3.3"/><circle cx="276.9" cy="1411.6" r="3.3"/><circle cx="247.1" cy="1481.8" r="3.3"/><circle cx="293.2" cy="1466.7" r="3.3"/><circle cx="243.4" cy="1402.4" r="3.3"/><circle cx="249.3" cy="1541.8" r="3.3"/><circle cx="232.5" cy="1432.9" r="3.3"/><circle cx="293.6" cy="1468.3" r="3.3"/><circle cx="237.8" cy="1490.0" r="3.3"/><circle cx="295.7" cy="1459.4" r="3.3"/><circle cx="299.9" cy="1439.0" r="3.3"/><circle cx="231.9" cy="1375.3" r="3.3"/><circle cx="210.1" cy="1455.0" r="3.3"/><circle cx="239.3" cy="1479.4" r="3.3"/><circle cx="272.2" cy="1432.1" r="3.3"/><circle cx="291.2" cy="1453.4" r="3.3"/><circle cx="251.3" cy="1533.4" r="3.3"/><circle cx="247.5" cy="1441.9" r="3.3"/><circle cx="316.9" cy="1509.7" r="3.3"/><circle cx="291.1" cy="1478.1" r="3.3"/><circle cx="272.1" cy="1422.0" r="3.3"/><circle cx="249.3" cy="1480.2" r="3.3"/><circle cx="268.5" cy="1454.2" r="3.3"/><circle cx="286.8" cy="1511.1" r="3.3"/><circle cx="224.2" cy="1517.9" r="3.3"/><circle cx="278.8" cy="1428.9" r="3.3"/><circle cx="311.9" cy="1549.8" r="3.3"/><circle cx="210.7" cy="1391.3" r="3.3"/><circle cx="322.8" cy="1468.1" r="3.3"/><circle cx="247.7" cy="1522.7" r="3.3"/><circle cx="282.1" cy="1448.2" r="3.3"/><circle cx="269.3" cy="1457.0" r="3.3"/><circle cx="259.9" cy="1448.8" r="3.3"/><circle cx="246.2" cy="1511.1" r="3.3"/><circle cx="250.6" cy="1480.7" r="3.3"/><circle cx="294.8" cy="1501.4" r="3.3"/><circle cx="283.8" cy="1488.6" r="3.3"/><circle cx="245.6" cy="1470.2" r="3.3"/><circle cx="226.9" cy="1485.3" r="3.3"/><circle cx="304.5" cy="1478.3" r="3.3"/><circle cx="258.1" cy="1447.5" r="3.3"/><circle cx="237.7" cy="1512.5" r="3.3"/><circle cx="281.1" cy="1514.4" r="3.3"/><circle cx="273.5" cy="1444.5" r="3.3"/><circle cx="265.2" cy="1471.0" r="3.3"/><circle cx="245.7" cy="1490.8" r="3.3"/><circle cx="285.0" cy="1495.9" r="3.3"/><circle cx="244.6" cy="1529.3" r="3.3"/><circle cx="286.0" cy="1451.9" r="3.3"/><circle cx="271.8" cy="1436.1" r="3.3"/><circle cx="277.9" cy="1468.6" r="3.3"/><circle cx="201.4" cy="1509.4" r="3.3"/><circle cx="244.6" cy="1478.4" r="3.3"/><circle cx="256.4" cy="1519.7" r="3.3"/><circle cx="258.4" cy="1506.5" r="3.3"/><circle cx="239.7" cy="1508.6" r="3.3"/><circle cx="323.3" cy="1395.1" r="3.3"/><circle cx="280.5" cy="1508.7" r="3.3"/><circle cx="295.8" cy="1484.0" r="3.3"/><circle cx="343.3" cy="1501.2" r="3.3"/><circle cx="241.7" cy="1430.3" r="3.3"/><circle cx="271.0" cy="1452.5" r="3.3"/><circle cx="275.9" cy="1428.3" r="3.3"/><circle cx="231.4" cy="1504.4" r="3.3"/><circle cx="289.4" cy="1454.2" r="3.3"/><circle cx="282.4" cy="1437.7" r="3.3"/><circle cx="228.2" cy="1540.8" r="3.3"/><circle cx="217.6" cy="1446.0" r="3.3"/><circle cx="278.6" cy="1393.7" r="3.3"/><circle cx="259.9" cy="1530.6" r="3.3"/><circle cx="300.9" cy="1431.5" r="3.3"/></g>
<line x1="99.57" y1="1488.99" x2="402.71" y2="1465.16" stroke="#6a6a6a" stroke-width="1.3" />
<rect x="93.3" y="1309.2" width="334.5" height="334.5" fill="none" stroke="#000" stroke-width="3.4"/>
<line x1="78.80" y1="1643.70" x2="93.30" y2="1643.70" stroke="#000" stroke-width="3.2" />
<line x1="93.30" y1="1643.70" x2="93.30" y2="1658.20" stroke="#000" stroke-width="3.2" />
<text font-family="Liberation Sans, sans-serif" font-weight="bold" font-size="27.80" fill="#000" transform="translate(53.90,1653.30) scale(0.9200,1)">-4</text>
<text font-family="Liberation Sans, sans-serif" font-weight="bold" font-size="27.80" fill="#000" transform="translate(79.00,1684.10) scale(0.9200,1)">-4</text>
<line x1="78.80" y1="1560.08" x2="93.30" y2="1560.08" stroke="#000" stroke-width="3.2" />
<line x1="176.93" y1="1643.70" x2="176.93" y2="1658.20" stroke="#000" stroke-width="3.2" />
<text font-family="Liberation Sans, sans-serif" font-weight="bold" font-size="27.80" fill="#000" transform="translate(54.78,1569.67) scale(0.9200,1)">-2</text>
<text font-family="Liberation Sans, sans-serif" font-weight="bold" font-size="27.80" fill="#000" transform="translate(163.07,1684.10) scale(0.9200,1)">-2</text>
<line x1="78.80" y1="1476.45" x2="93.30" y2="1476.45" stroke="#000" stroke-width="3.2" />
<line x1="260.55" y1="1643.70" x2="260.55" y2="1658.20" stroke="#000" stroke-width="3.2" />
<text font-family="Liberation Sans, sans-serif" font-weight="bold" font-size="27.80" fill="#000" transform="translate(62.61,1486.05) scale(0.9700,1)">0</text>
<text font-family="Liberation Sans, sans-serif" font-weight="bold" font-size="27.80" fill="#000" transform="translate(253.07,1684.10) scale(0.9700,1)">0</text>
<line x1="78.80" y1="1392.83" x2="93.30" y2="1392.83" stroke="#000" stroke-width="3.2" />
<line x1="344.18" y1="1643.70" x2="344.18" y2="1658.20" stroke="#000" stroke-width="3.2" />
<text font-family="Liberation Sans, sans-serif" font-weight="bold" font-size="27.80" fill="#000" transform="translate(62.58,1402.42) scale(0.9700,1)">2</text>
<text font-family="Liberation Sans, sans-serif" font-weight="bold" font-size="27.80" fill="#000" transform="translate(336.75,1684.10) scale(0.9700,1)">2</text>
<line x1="78.80" y1="1309.20" x2="93.30" y2="1309.20" stroke="#000" stroke-width="3.2" />
<line x1="427.80" y1="1643.70" x2="427.80" y2="1658.20" stroke="#000" stroke-width="3.2" />
<text font-family="Liberation Sans, sans-serif" font-weight="bold" font-size="27.80" fill="#000" transform="translate(61.65,1318.80) scale(0.9700,1)">4</text>
<text font-family="Liberation Sans, sans-serif" font-weight="bold" font-size="27.80" fill="#000" transform="translate(420.17,1684.10) scale(0.9700,1)">4</text>
<text font-family="Liberation Sans, sans-serif" font-weight="bold" font-style="italic" font-size="26.50" fill="#000" transform="translate(216.08,1723.00) scale(0.9900,1)">CHEK2</text>
<text font-family="Liberation Sans, sans-serif" font-weight="bold" font-style="italic" font-size="29.50" fill="#000" transform="translate(25.60,1520.95) rotate(-90) scale(0.9376,1)">CXCL9</text>
<text font-family="Liberation Sans, sans-serif" font-weight="normal" font-size="39.53" fill="#262626" transform="translate(543.79,1283.10) scale(0.9561,1)">r=0.1801, P=0.0002</text>
<line x1="715.25" y1="1306.40" x2="715.25" y2="1640.90" stroke="#111" stroke-width="1.4" />
<line x1="548.00" y1="1473.65" x2="882.50" y2="1473.65" stroke="#111" stroke-width="1.4" />
<g fill="#c6c6c6" stroke="#111" stroke-width="1.7"><circle cx="729.9" cy="1622.1" r="3.3"/><circle cx="554.3" cy="1523.8" r="3.3"/><circle cx="857.4" cy="1443.5" r="3.3"/><circle cx="853.2" cy="1513.4" r="3.3"/><circle cx="591.9" cy="1469.5" r="3.3"/><circle cx="700.6" cy="1348.2" r="3.3"/><circle cx="755.0" cy="1354.5" r="3.3"/><circle cx="742.4" cy="1354.5" r="3.3"/><circle cx="610.7" cy="1429.7" r="3.3"/><circle cx="798.9" cy="1513.4" r="3.3"/><circle cx="685.4" cy="1506.9" r="3.3"/><circle cx="731.7" cy="1481.7" r="3.3"/><circle cx="750.0" cy="1410.7" r="3.3"/><circle cx="706.4" cy="1486.4" r="3.3"/><circle cx="756.1" cy="1476.2" r="3.3"/><circle cx="701.1" cy="1487.7" r="3.3"/><circle cx="790.7" cy="1465.3" r="3.3"/><circle cx="658.7" cy="1437.5" r="3.3"/><circle cx="719.1" cy="1465.0" r="3.3"/><circle cx="721.3" cy="1466.5" r="3.3"/><circle cx="724.2" cy="1519.1" r="3.3"/><circle cx="708.7" cy="1477.0" r="3.3"/><circle cx="606.5" cy="1546.7" r="3.3"/><circle cx="751.9" cy="1431.9" r="3.3"/><circle cx="705.3" cy="1456.9" r="3.3"/><circle cx="725.1" cy="1487.6" r="3.3"/><circle cx="773.8" cy="1406.3" r="3.3"/><circle cx="738.0" cy="1465.7" r="3.3"/><circle cx="683.4" cy="1484.4" r="3.3"/><circle cx="631.1" cy="1477.2" r="3.3"/><circle cx="712.6" cy="1513.5" r="3.3"/><circle cx="759.1" cy="1550.8" r="3.3"/><circle cx="737.4" cy="1539.5" r="3.3"/><circle cx="714.1" cy="1514.3" r="3.3"/><circle cx="696.2" cy="1501.7" r="3.3"/><circle cx="668.4" cy="1448.0" r="3.3"/><circle cx="764.0" cy="1413.2" r="3.3"/><circle cx="761.1" cy="1462.0" r="3.3"/><circle cx="747.8" cy="1465.2" r="3.3"/><circle cx="694.8" cy="1482.8" r="3.3"/><circle cx="679.3" cy="1405.5" r="3.3"/><circle cx="726.6" cy="1490.5" r="3.3"/><circle cx="703.1" cy="1459.1" r="3.3"/><circle cx="684.0" cy="1454.9" r="3.3"/><circle cx="760.8" cy="1479.5" r="3.3"/><circle cx="712.8" cy="1451.5" r="3.3"/><circle cx="737.9" cy="1586.1" r="3.3"/><circle cx="781.3" cy="1488.9" r="3.3"/><circle cx="756.0" cy="1476.3" r="3.3"/><circle cx="739.7" cy="1452.4" r="3.3"/><circle cx="768.7" cy="1479.8" r="3.3"/><circle cx="692.5" cy="1474.6" r="3.3"/><circle cx="705.8" cy="1491.7" r="3.3"/><circle cx="688.4" cy="1466.9" r="3.3"/><circle cx="719.6" cy="1511.4" r="3.3"/><circle cx="692.0" cy="1575.7" r="3.3"/><circle cx="679.6" cy="1546.0" r="3.3"/><circle cx="705.2" cy="1475.2" r="3.3"/><circle cx="748.2" cy="1493.6" r="3.3"/><circle cx="708.6" cy="1436.3" r="3.3"/><circle cx="701.0" cy="1526.7" r="3.3"/><circle cx="751.4" cy="1466.7" r="3.3"/><circle cx="698.8" cy="1523.9" r="3.3"/><circle cx="694.6" cy="1479.6" r="3.3"/><circle cx="742.7" cy="1395.6" r="3.3"/><circle cx="718.4" cy="1422.9" r="3.3"/><circle cx="746.0" cy="1465.2" r="3.3"/><circle cx="720.2" cy="1475.4" r="3.3"/><circle cx="773.5" cy="1408.6" r="3.3"/><circle cx="726.5" cy="1485.5" r="3.3"/><circle cx="686.7" cy="1446.0" r="3.3"/><circle cx="807.8" cy="1482.1" r="3.3"/><circle cx="694.5" cy="1504.4" r="3.3"/><circle cx="778.3" cy="1443.6" r="3.3"/><circle cx="697.0" cy="1489.9" r="3.3"/><circle cx="706.5" cy="1496.3" r="3.3"/><circle cx="779.5" cy="1482.3" r="3.3"/><circle cx="733.5" cy="1439.9" r="3.3"/><circle cx="712.8" cy="1473.1" r="3.3"/><circle cx="738.0" cy="1502.6" r="3.3"/><circle cx="719.3" cy="1532.5" r="3.3"/><circle cx="788.2" cy="1516.9" r="3.3"/><circle cx="686.2" cy="1410.8" r="3.3"/><circle cx="774.2" cy="1485.6" r="3.3"/><circle cx="745.7" cy="1499.2" r="3.3"/><circle cx="674.0" cy="1529.3" r="3.3"/><circle cx="710.3" cy="1501.4" r="3.3"/><circle cx="761.0" cy="1406.1" r="3.3"/><circle cx="693.6" cy="1546.1" r="3.3"/><circle cx="712.5" cy="1495.9" r="3.3"/><circle cx="653.0" cy="1428.7" r="3.3"/><circle cx="719.1" cy="1438.2" r="3.3"/><circle cx="726.9" cy="1492.6" r="3.3"/><circle cx="711.9" cy="1421.4" r="3.3"/><circle cx="728.0" cy="1478.9" r="3.3"/><circle cx="720.4" cy="1486.2" r="3.3"/><circle cx="702.0" cy="1454.7" r="3.3"/><circle cx="731.7" cy="1445.2" r="3.3"/><circle cx="727.8" cy="1436.9" r="3.3"/><circle cx="676.8" cy="1463.4" r="3.3"/><circle cx="755.9" cy="1463.0" r="3.3"/><circle cx="744.7" cy="1440.5" r="3.3"/><circle cx="688.1" cy="1449.3" r="3.3"/><circle cx="793.0" cy="1406.9" r="3.3"/><circle cx="715.4" cy="1438.8" r="3.3"/><circle cx="702.9" cy="1386.3" r="3.3"/><circle cx="640.3" cy="1470.4" r="3.3"/><circle cx="714.9" cy="1470.5" r="3.3"/><circle cx="716.0" cy="1529.8" r="3.3"/><circle cx="734.2" cy="1427.8" r="3.3"/><circle cx="749.0" cy="1494.9" r="3.3"/><circle cx="710.3" cy="1547.4" r="3.3"/><circle cx="663.3" cy="1426.4" r="3.3"/><circle cx="698.4" cy="1502.4" r="3.3"/><circle cx="677.8" cy="1493.0" r="3.3"/><circle cx="692.1" cy="1423.9" r="3.3"/><circle cx="727.3" cy="1454.3" r="3.3"/><circle cx="708.9" cy="1504.9" r="3.3"/><circle cx="698.1" cy="1430.5" r="3.3"/><circle cx="804.5" cy="1492.3" r="3.3"/><circle cx="694.5" cy="1491.1" r="3.3"/><circle cx="666.5" cy="1444.2" r="3.3"/><circle cx="675.9" cy="1447.7" r="3.3"/><circle cx="709.2" cy="1440.6" r="3.3"/><circle cx="692.3" cy="1468.5" r="3.3"/><circle cx="751.0" cy="1515.9" r="3.3"/><circle cx="729.2" cy="1491.8" r="3.3"/><circle cx="721.9" cy="1509.1" r="3.3"/><circle cx="704.1" cy="1464.6" r="3.3"/><circle cx="701.0" cy="1439.8" r="3.3"/><circle cx="795.2" cy="1506.9" r="3.3"/><circle cx="690.2" cy="1485.1" r="3.3"/><circle cx="748.1" cy="1456.2" r="3.3"/><circle cx="701.4" cy="1453.3" r="3.3"/><circle cx="786.0" cy="1484.6" r="3.3"/><circle cx="733.8" cy="1498.2" r="3.3"/><circle cx="685.4" cy="1470.9" r="3.3"/><circle cx="707.4" cy="1426.3" r="3.3"/><circle cx="718.3" cy="1449.9" r="3.3"/><circle cx="661.1" cy="1508.9" r="3.3"/><circle cx="732.7" cy="1491.1" r="3.3"/><circle cx="649.6" cy="1446.4" r="3.3"/><circle cx="678.8" cy="1480.6" r="3.3"/><circle cx="740.9" cy="1438.4" r="3.3"/><circle cx="756.3" cy="1410.7" r="3.3"/><circle cx="710.3" cy="1367.0" r="3.3"/><circle cx="652.4" cy="1482.0" r="3.3"/><circle cx="705.8" cy="1499.2" r="3.3"/><circle cx="707.7" cy="1506.6" r="3.3"/><circle cx="776.2" cy="1421.4" r="3.3"/><circle cx="773.7" cy="1433.8" r="3.3"/><circle cx="698.6" cy="1467.8" r="3.3"/><circle cx="640.7" cy="1477.3" r="3.3"/><circle cx="710.7" cy="1473.8" r="3.3"/><circle cx="734.8" cy="1470.2" r="3.3"/><circle cx="709.3" cy="1475.6" r="3.3"/><circle cx="794.4" cy="1470.4" r="3.3"/><circle cx="709.2" cy="1488.7" r="3.3"/><circle cx="728.3" cy="1533.6" r="3.3"/><circle cx="727.3" cy="1484.7" r="3.3"/><circle cx="776.7" cy="1424.8" r="3.3"/><circle cx="726.4" cy="1469.9" r="3.3"/><circle cx="712.9" cy="1434.7" r="3.3"/><circle cx="687.4" cy="1428.9" r="3.3"/><circle cx="724.3" cy="1476.3" r="3.3"/><circle cx="719.8" cy="1505.3" r="3.3"/><circle cx="725.0" cy="1473.1" r="3.3"/><circle cx="700.1" cy="1519.9" r="3.3"/><circle cx="664.7" cy="1512.5" r="3.3"/><circle cx="690.1" cy="1486.8" r="3.3"/><circle cx="723.7" cy="1485.4" r="3.3"/><circle cx="718.7" cy="1472.5" r="3.3"/><circle cx="715.2" cy="1502.2" r="3.3"/><circle cx="686.2" cy="1486.9" r="3.3"/><circle cx="724.0" cy="1512.0" r="3.3"/><circle cx="730.2" cy="1519.7" r="3.3"/><circle cx="693.6" cy="1449.1" r="3.3"/><circle cx="640.9" cy="1514.1" r="3.3"/><circle cx="704.4" cy="1497.0" r="3.3"/><circle cx="696.2" cy="1385.2" r="3.3"/><circle cx="686.6" cy="1488.1" r="3.3"/><circle cx="653.7" cy="1416.0" r="3.3"/><circle cx="688.9" cy="1446.0" r="3.3"/><circle cx="686.0" cy="1484.4" r="3.3"/><circle cx="713.5" cy="1513.9" r="3.3"/><circle cx="738.1" cy="1506.9" r="3.3"/><circle cx="739.5" cy="1461.9" r="3.3"/><circle cx="651.3" cy="1448.6" r="3.3"/><circle cx="682.6" cy="1403.2" r="3.3"/><circle cx="756.9" cy="1538.4" r="3.3"/><circle cx="671.2" cy="1459.2" r="3.3"/><circle cx="681.2" cy="1510.0" r="3.3"/><circle cx="737.6" cy="1531.2" r="3.3"/><circle cx="710.2" cy="1393.7" r="3.3"/><circle cx="775.7" cy="1447.3" r="3.3"/><circle cx="742.3" cy="1496.6" r="3.3"/><circle cx="684.0" cy="1501.5" r="3.3"/><circle cx="776.3" cy="1503.4" r="3.3"/><circle cx="727.9" cy="1470.0" r="3.3"/><circle cx="738.2" cy="1497.4" r="3.3"/><circle cx="758.6" cy="1485.4" r="3.3"/><circle cx="697.1" cy="1472.0" r="3.3"/><circle cx="722.3" cy="1468.0" r="3.3"/><circle cx="763.7" cy="1419.8" r="3.3"/><circle cx="665.4" cy="1423.5" r="3.3"/><circle cx="764.4" cy="1473.2" r="3.3"/><circle cx="722.3" cy="1438.1" r="3.3"/><circle cx="725.5" cy="1401.7" r="3.3"/><circle cx="681.0" cy="1458.9" r="3.3"/><circle cx="759.7" cy="1427.6" r="3.3"/><circle cx="653.4" cy="1481.2" r="3.3"/><circle cx="728.0" cy="1453.3" r="3.3"/><circle cx="811.4" cy="1488.1" r="3.3"/><circle cx="771.0" cy="1429.8" r="3.3"/><circle cx="729.9" cy="1532.2" r="3.3"/><circle cx="691.4" cy="1504.8" r="3.3"/><circle cx="794.0" cy="1469.8" r="3.3"/><circle cx="767.5" cy="1471.3" r="3.3"/><circle cx="734.2" cy="1495.9" r="3.3"/><circle cx="728.9" cy="1510.5" r="3.3"/><circle cx="758.1" cy="1479.7" r="3.3"/><circle cx="699.4" cy="1459.9" r="3.3"/><circle cx="726.8" cy="1429.4" r="3.3"/><circle cx="712.8" cy="1576.6" r="3.3"/><circle cx="720.2" cy="1512.4" r="3.3"/><circle cx="698.8" cy="1442.7" r="3.3"/><circle cx="733.3" cy="1458.9" r="3.3"/><circle cx="720.4" cy="1431.2" r="3.3"/><circle cx="732.3" cy="1466.7" r="3.3"/><circle cx="708.0" cy="1542.4" r="3.3"/><circle cx="702.5" cy="1455.6" r="3.3"/><circle cx="727.9" cy="1400.4" r="3.3"/><circle cx="721.9" cy="1489.4" r="3.3"/><circle cx="730.1" cy="1420.6" r="3.3"/><circle cx="703.4" cy="1441.7" r="3.3"/><circle cx="711.6" cy="1472.2" r="3.3"/><circle cx="742.0" cy="1506.2" r="3.3"/><circle cx="722.7" cy="1508.1" r="3.3"/><circle cx="704.6" cy="1491.5" r="3.3"/><circle cx="755.1" cy="1486.8" r="3.3"/><circle cx="789.3" cy="1508.4" r="3.3"/><circle cx="729.8" cy="1491.3" r="3.3"/><circle cx="766.7" cy="1485.0" r="3.3"/><circle cx="731.6" cy="1582.7" r="3.3"/><circle cx="696.8" cy="1472.0" r="3.3"/><circle cx="767.5" cy="1520.6" r="3.3"/><circle cx="733.0" cy="1472.1" r="3.3"/><circle cx="746.0" cy="1476.1" r="3.3"/><circle cx="772.5" cy="1456.4" r="3.3"/><circle cx="746.3" cy="1466.1" r="3.3"/><circle cx="710.6" cy="1431.0" r="3.3"/><circle cx="664.3" cy="1526.5" r="3.3"/><circle cx="752.9" cy="1397.5" r="3.3"/><circle cx="720.0" cy="1454.3" r="3.3"/><circle cx="743.4" cy="1471.6" r="3.3"/><circle cx="729.3" cy="1453.9" r="3.3"/><circle cx="645.8" cy="1472.1" r="3.3"/><circle cx="757.9" cy="1482.1" r="3.3"/><circle cx="658.7" cy="1448.1" r="3.3"/><circle cx="745.5" cy="1515.5" r="3.3"/><circle cx="749.4" cy="1505.9" r="3.3"/><circle cx="759.3" cy="1488.7" r="3.3"/><circle cx="725.6" cy="1443.1" r="3.3"/><circle cx="677.0" cy="1468.9" r="3.3"/><circle cx="811.4" cy="1554.4" r="3.3"/><circle cx="715.5" cy="1501.0" r="3.3"/><circle cx="715.5" cy="1450.5" r="3.3"/><circle cx="715.4" cy="1456.4" r="3.3"/><circle cx="800.5" cy="1440.5" r="3.3"/><circle cx="760.0" cy="1435.3" r="3.3"/><circle cx="687.5" cy="1512.1" r="3.3"/><circle cx="687.3" cy="1503.2" r="3.3"/><circle cx="646.7" cy="1511.3" r="3.3"/><circle cx="745.2" cy="1421.3" r="3.3"/><circle cx="715.7" cy="1459.6" r="3.3"/><circle cx="684.5" cy="1498.0" r="3.3"/><circle cx="746.0" cy="1472.6" r="3.3"/><circle cx="734.9" cy="1508.4" r="3.3"/><circle cx="756.9" cy="1522.4" r="3.3"/><circle cx="707.4" cy="1473.4" r="3.3"/><circle cx="730.0" cy="1480.9" r="3.3"/><circle cx="712.1" cy="1415.6" r="3.3"/><circle cx="606.5" cy="1485.2" r="3.3"/><circle cx="670.1" cy="1489.7" r="3.3"/><circle cx="748.9" cy="1455.1" r="3.3"/><circle cx="811.4" cy="1532.3" r="3.3"/><circle cx="727.2" cy="1497.8" r="3.3"/><circle cx="706.1" cy="1509.8" r="3.3"/><circle cx="611.0" cy="1464.5" r="3.3"/><circle cx="739.3" cy="1505.4" r="3.3"/><circle cx="712.4" cy="1438.1" r="3.3"/><circle cx="733.0" cy="1470.1" r="3.3"/><circle cx="688.8" cy="1445.2" r="3.3"/><circle cx="744.0" cy="1475.3" r="3.3"/><circle cx="669.1" cy="1489.0" r="3.3"/><circle cx="792.2" cy="1476.0" r="3.3"/><circle cx="668.3" cy="1489.5" r="3.3"/><circle cx="785.6" cy="1483.3" r="3.3"/><circle cx="805.9" cy="1484.5" r="3.3"/><circle cx="736.1" cy="1516.2" r="3.3"/><circle cx="725.2" cy="1449.5" r="3.3"/><circle cx="738.8" cy="1515.5" r="3.3"/><circle cx="647.4" cy="1464.4" r="3.3"/><circle cx="722.7" cy="1444.6" r="3.3"/><circle cx="704.0" cy="1505.3" r="3.3"/><circle cx="726.8" cy="1489.0" r="3.3"/><circle cx="744.9" cy="1542.6" r="3.3"/><circle cx="661.5" cy="1507.6" r="3.3"/><circle cx="743.9" cy="1498.6" r="3.3"/><circle cx="711.2" cy="1555.1" r="3.3"/><circle cx="757.7" cy="1403.6" r="3.3"/><circle cx="767.4" cy="1462.5" r="3.3"/><circle cx="699.1" cy="1557.4" r="3.3"/><circle cx="728.2" cy="1438.3" r="3.3"/><circle cx="737.9" cy="1528.3" r="3.3"/><circle cx="711.4" cy="1474.9" r="3.3"/><circle cx="712.9" cy="1492.1" r="3.3"/><circle cx="744.1" cy="1492.9" r="3.3"/><circle cx="789.0" cy="1470.6" r="3.3"/><circle cx="727.6" cy="1470.4" r="3.3"/><circle cx="751.0" cy="1466.5" r="3.3"/><circle cx="724.7" cy="1475.0" r="3.3"/><circle cx="789.6" cy="1475.8" r="3.3"/><circle cx="749.5" cy="1515.2" r="3.3"/><circle cx="691.0" cy="1427.8" r="3.3"/><circle cx="741.1" cy="1478.7" r="3.3"/><circle cx="732.8" cy="1512.7" r="3.3"/><circle cx="742.8" cy="1476.6" r="3.3"/><circle cx="711.7" cy="1520.5" r="3.3"/><circle cx="694.6" cy="1513.8" r="3.3"/><circle cx="722.0" cy="1512.7" r="3.3"/><circle cx="747.5" cy="1528.3" r="3.3"/><circle cx="720.2" cy="1519.4" r="3.3"/><circle cx="666.5" cy="1542.7" r="3.3"/><circle cx="679.7" cy="1527.5" r="3.3"/><circle cx="649.1" cy="1515.7" r="3.3"/><circle cx="738.8" cy="1392.6" r="3.3"/><circle cx="685.5" cy="1542.0" r="3.3"/><circle cx="727.5" cy="1536.1" r="3.3"/><circle cx="620.6" cy="1493.5" r="3.3"/><circle cx="737.5" cy="1428.1" r="3.3"/><circle cx="708.2" cy="1507.3" r="3.3"/><circle cx="724.5" cy="1499.9" r="3.3"/><circle cx="811.4" cy="1460.2" r="3.3"/><circle cx="696.0" cy="1411.8" r="3.3"/><circle cx="715.4" cy="1382.0" r="3.3"/><circle cx="675.3" cy="1503.1" r="3.3"/><circle cx="748.5" cy="1450.4" r="3.3"/><circle cx="712.1" cy="1452.9" r="3.3"/><circle cx="644.4" cy="1470.0" r="3.3"/><circle cx="748.3" cy="1462.9" r="3.3"/><circle cx="718.4" cy="1546.0" r="3.3"/><circle cx="770.6" cy="1408.0" r="3.3"/><circle cx="708.4" cy="1464.9" r="3.3"/><circle cx="703.5" cy="1418.7" r="3.3"/><circle cx="747.8" cy="1548.4" r="3.3"/><circle cx="770.7" cy="1456.6" r="3.3"/><circle cx="678.8" cy="1514.2" r="3.3"/><circle cx="684.1" cy="1531.9" r="3.3"/><circle cx="761.8" cy="1462.3" r="3.3"/><circle cx="709.2" cy="1499.7" r="3.3"/><circle cx="721.6" cy="1467.6" r="3.3"/><circle cx="729.7" cy="1504.9" r="3.3"/><circle cx="724.1" cy="1417.8" r="3.3"/><circle cx="651.6" cy="1524.3" r="3.3"/><circle cx="748.6" cy="1484.6" r="3.3"/><circle cx="758.5" cy="1457.4" r="3.3"/><circle cx="663.0" cy="1442.3" r="3.3"/><circle cx="699.9" cy="1460.2" r="3.3"/><circle cx="750.0" cy="1497.3" r="3.3"/><circle cx="722.8" cy="1459.3" r="3.3"/><circle cx="719.3" cy="1506.1" r="3.3"/><circle cx="744.3" cy="1447.1" r="3.3"/><circle cx="770.6" cy="1554.8" r="3.3"/><circle cx="686.2" cy="1423.0" r="3.3"/><circle cx="752.0" cy="1511.8" r="3.3"/><circle cx="748.7" cy="1470.1" r="3.3"/><circle cx="705.8" cy="1459.8" r="3.3"/><circle cx="689.3" cy="1474.8" r="3.3"/><circle cx="730.4" cy="1481.3" r="3.3"/><circle cx="712.2" cy="1495.9" r="3.3"/><circle cx="678.7" cy="1527.1" r="3.3"/><circle cx="674.1" cy="1423.8" r="3.3"/><circle cx="721.7" cy="1462.0" r="3.3"/><circle cx="665.3" cy="1446.9" r="3.3"/><circle cx="722.1" cy="1457.5" r="3.3"/><circle cx="694.7" cy="1450.2" r="3.3"/><circle cx="730.1" cy="1526.3" r="3.3"/><circle cx="747.8" cy="1451.8" r="3.3"/><circle cx="742.2" cy="1446.2" r="3.3"/><circle cx="722.2" cy="1510.2" r="3.3"/><circle cx="743.0" cy="1495.9" r="3.3"/><circle cx="731.7" cy="1473.1" r="3.3"/><circle cx="686.4" cy="1466.3" r="3.3"/><circle cx="746.9" cy="1484.9" r="3.3"/><circle cx="780.5" cy="1466.5" r="3.3"/><circle cx="725.6" cy="1490.6" r="3.3"/><circle cx="709.2" cy="1441.4" r="3.3"/><circle cx="652.5" cy="1474.6" r="3.3"/><circle cx="671.7" cy="1521.6" r="3.3"/><circle cx="731.6" cy="1403.6" r="3.3"/><circle cx="701.8" cy="1477.4" r="3.3"/><circle cx="747.9" cy="1510.4" r="3.3"/><circle cx="698.1" cy="1400.5" r="3.3"/><circle cx="704.0" cy="1497.4" r="3.3"/><circle cx="687.2" cy="1401.3" r="3.3"/><circle cx="748.3" cy="1438.9" r="3.3"/><circle cx="692.5" cy="1459.0" r="3.3"/><circle cx="750.4" cy="1429.5" r="3.3"/><circle cx="754.6" cy="1427.0" r="3.3"/><circle cx="686.6" cy="1367.0" r="3.3"/><circle cx="664.8" cy="1445.3" r="3.3"/><circle cx="694.0" cy="1494.1" r="3.3"/><circle cx="726.9" cy="1453.3" r="3.3"/><circle cx="745.9" cy="1426.9" r="3.3"/><circle cx="706.0" cy="1531.6" r="3.3"/><circle cx="702.2" cy="1469.2" r="3.3"/><circle cx="771.6" cy="1491.2" r="3.3"/><circle cx="745.8" cy="1478.2" r="3.3"/><circle cx="726.8" cy="1447.4" r="3.3"/><circle cx="704.0" cy="1455.1" r="3.3"/><circle cx="723.2" cy="1470.3" r="3.3"/><circle cx="741.5" cy="1490.9" r="3.3"/><circle cx="678.9" cy="1494.5" r="3.3"/><circle cx="733.5" cy="1433.1" r="3.3"/><circle cx="766.6" cy="1549.6" r="3.3"/><circle cx="665.4" cy="1386.9" r="3.3"/><circle cx="777.5" cy="1463.0" r="3.3"/><circle cx="702.4" cy="1511.3" r="3.3"/><circle cx="736.8" cy="1453.9" r="3.3"/><circle cx="724.0" cy="1437.8" r="3.3"/><circle cx="714.6" cy="1447.2" r="3.3"/><circle cx="700.9" cy="1493.7" r="3.3"/><circle cx="705.3" cy="1482.1" r="3.3"/><circle cx="749.5" cy="1484.8" r="3.3"/><circle cx="738.5" cy="1510.0" r="3.3"/><circle cx="700.3" cy="1486.5" r="3.3"/><circle cx="681.6" cy="1490.3" r="3.3"/><circle cx="759.2" cy="1481.4" r="3.3"/><circle cx="712.8" cy="1479.1" r="3.3"/><circle cx="692.4" cy="1506.1" r="3.3"/><circle cx="735.8" cy="1519.2" r="3.3"/><circle cx="728.2" cy="1437.5" r="3.3"/><circle cx="719.9" cy="1502.3" r="3.3"/><circle cx="700.4" cy="1492.3" r="3.3"/><circle cx="739.7" cy="1445.0" r="3.3"/><circle cx="699.3" cy="1533.5" r="3.3"/><circle cx="740.7" cy="1457.3" r="3.3"/><circle cx="726.5" cy="1444.7" r="3.3"/><circle cx="732.6" cy="1466.5" r="3.3"/><circle cx="656.1" cy="1487.5" r="3.3"/><circle cx="699.3" cy="1454.6" r="3.3"/><circle cx="711.1" cy="1539.0" r="3.3"/><circle cx="713.1" cy="1481.6" r="3.3"/><circle cx="694.4" cy="1498.6" r="3.3"/><circle cx="778.0" cy="1367.0" r="3.3"/><circle cx="735.2" cy="1514.3" r="3.3"/><circle cx="750.5" cy="1482.2" r="3.3"/><circle cx="798.0" cy="1485.9" r="3.3"/><circle cx="696.4" cy="1403.5" r="3.3"/><circle cx="725.7" cy="1434.4" r="3.3"/><circle cx="730.6" cy="1453.7" r="3.3"/><circle cx="686.1" cy="1471.4" r="3.3"/><circle cx="744.1" cy="1459.2" r="3.3"/><circle cx="737.1" cy="1415.9" r="3.3"/><circle cx="682.9" cy="1491.1" r="3.3"/><circle cx="672.3" cy="1423.0" r="3.3"/><circle cx="733.3" cy="1376.3" r="3.3"/><circle cx="714.6" cy="1526.9" r="3.3"/><circle cx="755.6" cy="1430.4" r="3.3"/></g>
<line x1="554.27" y1="1498.74" x2="857.41" y2="1452.74" stroke="#6a6a6a" stroke-width="1.3" />
<rect x="548.0" y="1306.4" width="334.5" height="334.5" fill="none" stroke="#000" stroke-width="3.4"/>
<line x1="533.50" y1="1640.90" x2="548.00" y2="1640.90" stroke="#000" stroke-width="3.2" />
<line x1="548.00" y1="1640.90" x2="548.00" y2="1655.40" stroke="#000" stroke-width="3.2" />
<text font-family="Liberation Sans, sans-serif" font-weight="bold" font-size="27.80" fill="#000" transform="translate(508.60,1650.50) scale(0.9200,1)">-4</text>
<text font-family="Liberation Sans, sans-serif" font-weight="bold" font-size="27.80" fill="#000" transform="translate(533.70,1681.30) scale(0.9200,1)">-4</text>
<line x1="533.50" y1="1557.28" x2="548.00" y2="1557.28" stroke="#000" stroke-width="3.2" />
<line x1="631.62" y1="1640.90" x2="631.62" y2="1655.40" stroke="#000" stroke-width="3.2" />
<text font-family="Liberation Sans, sans-serif" font-weight="bold" font-size="27.80" fill="#000" transform="translate(509.48,1566.88) scale(0.9200,1)">-2</text>
<text font-family="Liberation Sans, sans-serif" font-weight="bold" font-size="27.80" fill="#000" transform="translate(617.77,1681.30) scale(0.9200,1)">-2</text>
<line x1="533.50" y1="1473.65" x2="548.00" y2="1473.65" stroke="#000" stroke-width="3.2" />
<line x1="715.25" y1="1640.90" x2="715.25" y2="1655.40" stroke="#000" stroke-width="3.2" />
<text font-family="Liberation Sans, sans-serif" font-weight="bold" font-size="27.80" fill="#000" transform="translate(517.31,1483.25) scale(0.9700,1)">0</text>
<text font-family="Liberation Sans, sans-serif" font-weight="bold" font-size="27.80" fill="#000" transform="translate(707.77,1681.30) scale(0.9700,1)">0</text>
<line x1="533.50" y1="1390.03" x2="548.00" y2="1390.03" stroke="#000" stroke-width="3.2" />
<line x1="798.88" y1="1640.90" x2="798.88" y2="1655.40" stroke="#000" stroke-width="3.2" />
<text font-family="Liberation Sans, sans-serif" font-weight="bold" font-size="27.80" fill="#000" transform="translate(517.28,1399.62) scale(0.9700,1)">2</text>
<text font-family="Liberation Sans, sans-serif" font-weight="bold" font-size="27.80" fill="#000" transform="translate(791.45,1681.30) scale(0.9700,1)">2</text>
<line x1="533.50" y1="1306.40" x2="548.00" y2="1306.40" stroke="#000" stroke-width="3.2" />
<line x1="882.50" y1="1640.90" x2="882.50" y2="1655.40" stroke="#000" stroke-width="3.2" />
<text font-family="Liberation Sans, sans-serif" font-weight="bold" font-size="27.80" fill="#000" transform="translate(516.35,1316.00) scale(0.9700,1)">4</text>
<text font-family="Liberation Sans, sans-serif" font-weight="bold" font-size="27.80" fill="#000" transform="translate(874.87,1681.30) scale(0.9700,1)">4</text>
<text font-family="Liberation Sans, sans-serif" font-weight="bold" font-style="italic" font-size="26.50" fill="#000" transform="translate(670.78,1720.20) scale(0.9900,1)">CHEK2</text>
<text font-family="Liberation Sans, sans-serif" font-weight="bold" font-style="italic" font-size="29.50" fill="#000" transform="translate(480.80,1525.76) rotate(-90) scale(0.9409,1)">CXCL10</text>
<text font-family="Liberation Sans, sans-serif" font-weight="normal" font-size="40.67" fill="#262626" transform="translate(1001.53,1283.40) scale(0.9163,1)">r=0.2330, P&lt;0.0001</text>
<line x1="1165.75" y1="1306.50" x2="1165.75" y2="1641.00" stroke="#111" stroke-width="1.4" />
<line x1="998.50" y1="1473.75" x2="1333.00" y2="1473.75" stroke="#111" stroke-width="1.4" />
<g fill="#c6c6c6" stroke="#111" stroke-width="1.7"><circle cx="1180.4" cy="1584.6" r="3.3"/><circle cx="1004.8" cy="1521.8" r="3.3"/><circle cx="1307.9" cy="1454.9" r="3.3"/><circle cx="1303.7" cy="1503.0" r="3.3"/><circle cx="1042.4" cy="1471.7" r="3.3"/><circle cx="1151.1" cy="1331.6" r="3.3"/><circle cx="1205.5" cy="1358.8" r="3.3"/><circle cx="1192.9" cy="1350.4" r="3.3"/><circle cx="1061.2" cy="1436.1" r="3.3"/><circle cx="1249.4" cy="1528.1" r="3.3"/><circle cx="1135.9" cy="1481.8" r="3.3"/><circle cx="1182.2" cy="1477.2" r="3.3"/><circle cx="1200.5" cy="1434.2" r="3.3"/><circle cx="1156.9" cy="1485.0" r="3.3"/><circle cx="1206.6" cy="1490.6" r="3.3"/><circle cx="1151.6" cy="1479.9" r="3.3"/><circle cx="1241.2" cy="1445.7" r="3.3"/><circle cx="1109.2" cy="1530.6" r="3.3"/><circle cx="1169.6" cy="1483.6" r="3.3"/><circle cx="1171.8" cy="1466.5" r="3.3"/><circle cx="1174.7" cy="1535.6" r="3.3"/><circle cx="1159.2" cy="1491.4" r="3.3"/><circle cx="1057.0" cy="1513.0" r="3.3"/><circle cx="1202.4" cy="1484.7" r="3.3"/><circle cx="1155.8" cy="1452.6" r="3.3"/><circle cx="1175.6" cy="1499.9" r="3.3"/><circle cx="1224.3" cy="1421.1" r="3.3"/><circle cx="1188.5" cy="1426.0" r="3.3"/><circle cx="1133.9" cy="1459.7" r="3.3"/><circle cx="1081.6" cy="1493.1" r="3.3"/><circle cx="1163.1" cy="1506.2" r="3.3"/><circle cx="1209.6" cy="1521.6" r="3.3"/><circle cx="1187.9" cy="1543.6" r="3.3"/><circle cx="1164.6" cy="1510.5" r="3.3"/><circle cx="1146.7" cy="1485.7" r="3.3"/><circle cx="1118.9" cy="1505.3" r="3.3"/><circle cx="1214.5" cy="1431.5" r="3.3"/><circle cx="1211.6" cy="1462.8" r="3.3"/><circle cx="1198.3" cy="1453.8" r="3.3"/><circle cx="1145.3" cy="1482.7" r="3.3"/><circle cx="1129.8" cy="1432.4" r="3.3"/><circle cx="1177.1" cy="1462.1" r="3.3"/><circle cx="1153.6" cy="1462.8" r="3.3"/><circle cx="1134.5" cy="1446.7" r="3.3"/><circle cx="1211.3" cy="1473.2" r="3.3"/><circle cx="1163.3" cy="1485.8" r="3.3"/><circle cx="1188.4" cy="1586.6" r="3.3"/><circle cx="1231.8" cy="1470.0" r="3.3"/><circle cx="1206.5" cy="1490.3" r="3.3"/><circle cx="1190.2" cy="1476.5" r="3.3"/><circle cx="1219.2" cy="1483.2" r="3.3"/><circle cx="1143.0" cy="1488.0" r="3.3"/><circle cx="1156.3" cy="1501.5" r="3.3"/><circle cx="1138.9" cy="1486.9" r="3.3"/><circle cx="1170.1" cy="1516.3" r="3.3"/><circle cx="1142.5" cy="1568.5" r="3.3"/><circle cx="1130.1" cy="1564.9" r="3.3"/><circle cx="1155.7" cy="1493.0" r="3.3"/><circle cx="1198.7" cy="1513.3" r="3.3"/><circle cx="1159.1" cy="1440.9" r="3.3"/><circle cx="1151.5" cy="1519.6" r="3.3"/><circle cx="1201.9" cy="1449.6" r="3.3"/><circle cx="1149.3" cy="1494.2" r="3.3"/><circle cx="1145.1" cy="1439.9" r="3.3"/><circle cx="1193.2" cy="1445.3" r="3.3"/><circle cx="1168.9" cy="1451.0" r="3.3"/><circle cx="1196.5" cy="1484.0" r="3.3"/><circle cx="1170.7" cy="1517.9" r="3.3"/><circle cx="1224.0" cy="1435.1" r="3.3"/><circle cx="1177.0" cy="1499.2" r="3.3"/><circle cx="1137.2" cy="1460.8" r="3.3"/><circle cx="1258.3" cy="1482.9" r="3.3"/><circle cx="1145.0" cy="1497.5" r="3.3"/><circle cx="1228.8" cy="1460.6" r="3.3"/><circle cx="1147.5" cy="1490.2" r="3.3"/><circle cx="1157.0" cy="1518.4" r="3.3"/><circle cx="1230.0" cy="1481.0" r="3.3"/><circle cx="1184.0" cy="1441.3" r="3.3"/><circle cx="1163.3" cy="1424.8" r="3.3"/><circle cx="1188.5" cy="1530.8" r="3.3"/><circle cx="1169.8" cy="1514.9" r="3.3"/><circle cx="1238.7" cy="1488.2" r="3.3"/><circle cx="1136.7" cy="1454.6" r="3.3"/><circle cx="1224.7" cy="1488.4" r="3.3"/><circle cx="1196.2" cy="1500.0" r="3.3"/><circle cx="1124.5" cy="1511.9" r="3.3"/><circle cx="1160.8" cy="1525.7" r="3.3"/><circle cx="1211.5" cy="1484.6" r="3.3"/><circle cx="1144.1" cy="1563.1" r="3.3"/><circle cx="1163.0" cy="1511.3" r="3.3"/><circle cx="1103.5" cy="1443.2" r="3.3"/><circle cx="1169.6" cy="1445.1" r="3.3"/><circle cx="1177.4" cy="1522.0" r="3.3"/><circle cx="1162.4" cy="1451.9" r="3.3"/><circle cx="1178.5" cy="1482.2" r="3.3"/><circle cx="1170.9" cy="1495.2" r="3.3"/><circle cx="1152.5" cy="1420.7" r="3.3"/><circle cx="1182.2" cy="1462.7" r="3.3"/><circle cx="1178.3" cy="1457.2" r="3.3"/><circle cx="1127.3" cy="1502.3" r="3.3"/><circle cx="1206.4" cy="1458.9" r="3.3"/><circle cx="1195.2" cy="1434.8" r="3.3"/><circle cx="1138.6" cy="1426.7" r="3.3"/><circle cx="1243.5" cy="1417.0" r="3.3"/><circle cx="1165.9" cy="1453.1" r="3.3"/><circle cx="1153.4" cy="1427.7" r="3.3"/><circle cx="1090.8" cy="1446.3" r="3.3"/><circle cx="1165.4" cy="1460.3" r="3.3"/><circle cx="1166.5" cy="1532.5" r="3.3"/><circle cx="1184.7" cy="1423.1" r="3.3"/><circle cx="1199.5" cy="1519.5" r="3.3"/><circle cx="1160.8" cy="1527.2" r="3.3"/><circle cx="1113.8" cy="1378.8" r="3.3"/><circle cx="1148.9" cy="1524.6" r="3.3"/><circle cx="1128.3" cy="1502.5" r="3.3"/><circle cx="1142.6" cy="1406.0" r="3.3"/><circle cx="1177.8" cy="1474.3" r="3.3"/><circle cx="1159.4" cy="1479.5" r="3.3"/><circle cx="1148.6" cy="1392.1" r="3.3"/><circle cx="1255.0" cy="1492.4" r="3.3"/><circle cx="1145.0" cy="1476.6" r="3.3"/><circle cx="1117.0" cy="1474.3" r="3.3"/><circle cx="1126.4" cy="1467.2" r="3.3"/><circle cx="1159.7" cy="1466.3" r="3.3"/><circle cx="1142.8" cy="1424.1" r="3.3"/><circle cx="1201.5" cy="1550.2" r="3.3"/><circle cx="1179.7" cy="1456.5" r="3.3"/><circle cx="1172.4" cy="1497.1" r="3.3"/><circle cx="1154.6" cy="1449.3" r="3.3"/><circle cx="1151.5" cy="1435.2" r="3.3"/><circle cx="1245.7" cy="1503.6" r="3.3"/><circle cx="1140.7" cy="1479.6" r="3.3"/><circle cx="1198.6" cy="1451.7" r="3.3"/><circle cx="1151.9" cy="1447.2" r="3.3"/><circle cx="1236.5" cy="1436.4" r="3.3"/><circle cx="1184.3" cy="1495.0" r="3.3"/><circle cx="1135.9" cy="1474.1" r="3.3"/><circle cx="1157.9" cy="1475.7" r="3.3"/><circle cx="1168.8" cy="1452.5" r="3.3"/><circle cx="1111.6" cy="1506.5" r="3.3"/><circle cx="1183.2" cy="1529.5" r="3.3"/><circle cx="1100.1" cy="1402.3" r="3.3"/><circle cx="1129.3" cy="1505.8" r="3.3"/><circle cx="1191.4" cy="1414.8" r="3.3"/><circle cx="1206.8" cy="1420.0" r="3.3"/><circle cx="1160.8" cy="1387.4" r="3.3"/><circle cx="1102.9" cy="1445.7" r="3.3"/><circle cx="1156.3" cy="1524.5" r="3.3"/><circle cx="1158.2" cy="1496.8" r="3.3"/><circle cx="1226.7" cy="1428.1" r="3.3"/><circle cx="1224.2" cy="1458.5" r="3.3"/><circle cx="1149.1" cy="1454.0" r="3.3"/><circle cx="1091.2" cy="1505.1" r="3.3"/><circle cx="1161.2" cy="1497.1" r="3.3"/><circle cx="1185.3" cy="1465.3" r="3.3"/><circle cx="1159.8" cy="1486.8" r="3.3"/><circle cx="1244.9" cy="1447.7" r="3.3"/><circle cx="1159.7" cy="1468.8" r="3.3"/><circle cx="1178.8" cy="1555.5" r="3.3"/><circle cx="1177.8" cy="1498.1" r="3.3"/><circle cx="1227.2" cy="1405.6" r="3.3"/><circle cx="1176.9" cy="1432.1" r="3.3"/><circle cx="1163.4" cy="1384.6" r="3.3"/><circle cx="1137.9" cy="1456.6" r="3.3"/><circle cx="1174.8" cy="1470.5" r="3.3"/><circle cx="1170.3" cy="1508.0" r="3.3"/><circle cx="1175.5" cy="1499.5" r="3.3"/><circle cx="1150.6" cy="1544.8" r="3.3"/><circle cx="1115.2" cy="1491.1" r="3.3"/><circle cx="1140.6" cy="1434.5" r="3.3"/><circle cx="1174.2" cy="1509.0" r="3.3"/><circle cx="1169.2" cy="1461.7" r="3.3"/><circle cx="1165.7" cy="1509.8" r="3.3"/><circle cx="1136.7" cy="1460.8" r="3.3"/><circle cx="1174.5" cy="1476.2" r="3.3"/><circle cx="1180.7" cy="1494.3" r="3.3"/><circle cx="1144.1" cy="1449.3" r="3.3"/><circle cx="1091.4" cy="1498.1" r="3.3"/><circle cx="1154.9" cy="1507.6" r="3.3"/><circle cx="1146.7" cy="1371.3" r="3.3"/><circle cx="1137.1" cy="1501.0" r="3.3"/><circle cx="1104.2" cy="1389.9" r="3.3"/><circle cx="1139.4" cy="1445.4" r="3.3"/><circle cx="1136.5" cy="1462.8" r="3.3"/><circle cx="1164.0" cy="1532.0" r="3.3"/><circle cx="1188.6" cy="1507.5" r="3.3"/><circle cx="1190.0" cy="1491.5" r="3.3"/><circle cx="1101.8" cy="1483.6" r="3.3"/><circle cx="1133.1" cy="1379.9" r="3.3"/><circle cx="1207.4" cy="1540.3" r="3.3"/><circle cx="1121.7" cy="1463.2" r="3.3"/><circle cx="1131.7" cy="1478.8" r="3.3"/><circle cx="1188.1" cy="1513.8" r="3.3"/><circle cx="1160.7" cy="1393.0" r="3.3"/><circle cx="1226.2" cy="1468.7" r="3.3"/><circle cx="1192.8" cy="1475.3" r="3.3"/><circle cx="1134.5" cy="1481.9" r="3.3"/><circle cx="1226.8" cy="1466.6" r="3.3"/><circle cx="1178.4" cy="1456.4" r="3.3"/><circle cx="1188.7" cy="1468.0" r="3.3"/><circle cx="1209.1" cy="1459.9" r="3.3"/><circle cx="1147.6" cy="1470.2" r="3.3"/><circle cx="1172.8" cy="1451.9" r="3.3"/><circle cx="1214.2" cy="1483.1" r="3.3"/><circle cx="1115.9" cy="1426.2" r="3.3"/><circle cx="1214.9" cy="1438.9" r="3.3"/><circle cx="1172.8" cy="1442.6" r="3.3"/><circle cx="1176.0" cy="1389.8" r="3.3"/><circle cx="1131.5" cy="1463.4" r="3.3"/><circle cx="1210.2" cy="1377.1" r="3.3"/><circle cx="1103.9" cy="1485.1" r="3.3"/><circle cx="1178.5" cy="1501.9" r="3.3"/><circle cx="1261.9" cy="1482.8" r="3.3"/><circle cx="1221.5" cy="1432.9" r="3.3"/><circle cx="1180.4" cy="1509.1" r="3.3"/><circle cx="1141.9" cy="1512.0" r="3.3"/><circle cx="1244.5" cy="1435.9" r="3.3"/><circle cx="1218.0" cy="1446.6" r="3.3"/><circle cx="1184.7" cy="1498.1" r="3.3"/><circle cx="1179.4" cy="1504.0" r="3.3"/><circle cx="1208.6" cy="1451.5" r="3.3"/><circle cx="1149.9" cy="1467.8" r="3.3"/><circle cx="1177.3" cy="1426.5" r="3.3"/><circle cx="1163.3" cy="1558.1" r="3.3"/><circle cx="1170.7" cy="1485.3" r="3.3"/><circle cx="1149.3" cy="1463.0" r="3.3"/><circle cx="1183.8" cy="1477.3" r="3.3"/><circle cx="1170.9" cy="1475.5" r="3.3"/><circle cx="1182.8" cy="1474.3" r="3.3"/><circle cx="1158.5" cy="1545.1" r="3.3"/><circle cx="1153.0" cy="1479.5" r="3.3"/><circle cx="1178.4" cy="1371.3" r="3.3"/><circle cx="1172.4" cy="1492.6" r="3.3"/><circle cx="1180.6" cy="1436.6" r="3.3"/><circle cx="1153.9" cy="1412.9" r="3.3"/><circle cx="1162.1" cy="1468.1" r="3.3"/><circle cx="1192.5" cy="1497.5" r="3.3"/><circle cx="1173.2" cy="1532.5" r="3.3"/><circle cx="1155.1" cy="1524.2" r="3.3"/><circle cx="1205.6" cy="1502.9" r="3.3"/><circle cx="1239.8" cy="1545.7" r="3.3"/><circle cx="1180.3" cy="1491.4" r="3.3"/><circle cx="1217.2" cy="1506.7" r="3.3"/><circle cx="1182.1" cy="1569.0" r="3.3"/><circle cx="1147.3" cy="1525.3" r="3.3"/><circle cx="1218.0" cy="1528.5" r="3.3"/><circle cx="1183.5" cy="1472.5" r="3.3"/><circle cx="1196.5" cy="1470.5" r="3.3"/><circle cx="1223.0" cy="1413.5" r="3.3"/><circle cx="1196.8" cy="1515.4" r="3.3"/><circle cx="1161.1" cy="1425.2" r="3.3"/><circle cx="1114.8" cy="1517.6" r="3.3"/><circle cx="1203.4" cy="1402.8" r="3.3"/><circle cx="1170.5" cy="1480.9" r="3.3"/><circle cx="1193.9" cy="1469.6" r="3.3"/><circle cx="1179.8" cy="1449.5" r="3.3"/><circle cx="1096.3" cy="1454.3" r="3.3"/><circle cx="1208.4" cy="1487.6" r="3.3"/><circle cx="1109.2" cy="1445.1" r="3.3"/><circle cx="1196.0" cy="1519.8" r="3.3"/><circle cx="1199.9" cy="1533.8" r="3.3"/><circle cx="1209.8" cy="1457.0" r="3.3"/><circle cx="1176.1" cy="1479.0" r="3.3"/><circle cx="1127.5" cy="1474.3" r="3.3"/><circle cx="1261.9" cy="1560.7" r="3.3"/><circle cx="1166.0" cy="1471.9" r="3.3"/><circle cx="1166.0" cy="1479.9" r="3.3"/><circle cx="1165.9" cy="1428.5" r="3.3"/><circle cx="1251.0" cy="1414.7" r="3.3"/><circle cx="1210.5" cy="1446.7" r="3.3"/><circle cx="1138.0" cy="1502.2" r="3.3"/><circle cx="1137.8" cy="1473.2" r="3.3"/><circle cx="1097.2" cy="1549.5" r="3.3"/><circle cx="1195.7" cy="1443.8" r="3.3"/><circle cx="1166.2" cy="1454.2" r="3.3"/><circle cx="1135.0" cy="1472.2" r="3.3"/><circle cx="1196.5" cy="1470.9" r="3.3"/><circle cx="1185.4" cy="1535.5" r="3.3"/><circle cx="1207.4" cy="1525.0" r="3.3"/><circle cx="1157.9" cy="1480.2" r="3.3"/><circle cx="1180.5" cy="1479.7" r="3.3"/><circle cx="1162.6" cy="1425.4" r="3.3"/><circle cx="1057.0" cy="1487.0" r="3.3"/><circle cx="1120.6" cy="1472.6" r="3.3"/><circle cx="1199.4" cy="1446.7" r="3.3"/><circle cx="1261.9" cy="1551.4" r="3.3"/><circle cx="1177.7" cy="1457.3" r="3.3"/><circle cx="1156.6" cy="1509.9" r="3.3"/><circle cx="1061.5" cy="1486.6" r="3.3"/><circle cx="1189.8" cy="1499.9" r="3.3"/><circle cx="1162.9" cy="1458.8" r="3.3"/><circle cx="1183.5" cy="1440.2" r="3.3"/><circle cx="1139.3" cy="1448.5" r="3.3"/><circle cx="1194.5" cy="1475.4" r="3.3"/><circle cx="1119.6" cy="1496.1" r="3.3"/><circle cx="1242.7" cy="1513.1" r="3.3"/><circle cx="1118.8" cy="1504.9" r="3.3"/><circle cx="1236.1" cy="1486.3" r="3.3"/><circle cx="1256.4" cy="1508.0" r="3.3"/><circle cx="1186.6" cy="1524.3" r="3.3"/><circle cx="1175.7" cy="1449.0" r="3.3"/><circle cx="1189.3" cy="1508.3" r="3.3"/><circle cx="1097.9" cy="1481.9" r="3.3"/><circle cx="1173.2" cy="1439.1" r="3.3"/><circle cx="1154.5" cy="1499.2" r="3.3"/><circle cx="1177.3" cy="1482.4" r="3.3"/><circle cx="1195.4" cy="1520.8" r="3.3"/><circle cx="1112.0" cy="1507.7" r="3.3"/><circle cx="1194.4" cy="1508.7" r="3.3"/><circle cx="1161.7" cy="1556.6" r="3.3"/><circle cx="1208.2" cy="1450.9" r="3.3"/><circle cx="1217.9" cy="1497.2" r="3.3"/><circle cx="1149.6" cy="1556.3" r="3.3"/><circle cx="1178.7" cy="1439.2" r="3.3"/><circle cx="1188.4" cy="1537.6" r="3.3"/><circle cx="1161.9" cy="1459.4" r="3.3"/><circle cx="1163.4" cy="1501.0" r="3.3"/><circle cx="1194.6" cy="1505.1" r="3.3"/><circle cx="1239.5" cy="1467.6" r="3.3"/><circle cx="1178.1" cy="1463.5" r="3.3"/><circle cx="1201.5" cy="1508.8" r="3.3"/><circle cx="1175.2" cy="1489.1" r="3.3"/><circle cx="1240.1" cy="1460.7" r="3.3"/><circle cx="1200.0" cy="1518.6" r="3.3"/><circle cx="1141.5" cy="1461.8" r="3.3"/><circle cx="1191.6" cy="1486.0" r="3.3"/><circle cx="1183.3" cy="1472.5" r="3.3"/><circle cx="1193.3" cy="1502.3" r="3.3"/><circle cx="1162.2" cy="1493.0" r="3.3"/><circle cx="1145.1" cy="1513.5" r="3.3"/><circle cx="1172.5" cy="1488.4" r="3.3"/><circle cx="1198.0" cy="1531.8" r="3.3"/><circle cx="1170.7" cy="1551.2" r="3.3"/><circle cx="1117.0" cy="1530.6" r="3.3"/><circle cx="1130.2" cy="1489.9" r="3.3"/><circle cx="1099.6" cy="1494.5" r="3.3"/><circle cx="1189.3" cy="1371.3" r="3.3"/><circle cx="1136.0" cy="1540.3" r="3.3"/><circle cx="1178.0" cy="1519.1" r="3.3"/><circle cx="1071.1" cy="1481.5" r="3.3"/><circle cx="1188.0" cy="1455.2" r="3.3"/><circle cx="1158.7" cy="1491.7" r="3.3"/><circle cx="1175.0" cy="1480.1" r="3.3"/><circle cx="1261.9" cy="1483.9" r="3.3"/><circle cx="1146.5" cy="1429.7" r="3.3"/><circle cx="1165.9" cy="1406.4" r="3.3"/><circle cx="1125.8" cy="1497.6" r="3.3"/><circle cx="1199.0" cy="1464.4" r="3.3"/><circle cx="1162.6" cy="1420.7" r="3.3"/><circle cx="1094.9" cy="1440.5" r="3.3"/><circle cx="1198.8" cy="1465.5" r="3.3"/><circle cx="1168.9" cy="1552.1" r="3.3"/><circle cx="1221.1" cy="1408.9" r="3.3"/><circle cx="1158.9" cy="1427.9" r="3.3"/><circle cx="1154.0" cy="1420.3" r="3.3"/><circle cx="1198.3" cy="1555.3" r="3.3"/><circle cx="1221.2" cy="1445.9" r="3.3"/><circle cx="1129.3" cy="1540.3" r="3.3"/><circle cx="1134.6" cy="1537.2" r="3.3"/><circle cx="1212.3" cy="1478.0" r="3.3"/><circle cx="1159.7" cy="1511.4" r="3.3"/><circle cx="1172.1" cy="1504.1" r="3.3"/><circle cx="1180.2" cy="1462.6" r="3.3"/><circle cx="1174.6" cy="1426.5" r="3.3"/><circle cx="1102.1" cy="1518.7" r="3.3"/><circle cx="1199.1" cy="1480.9" r="3.3"/><circle cx="1209.0" cy="1438.8" r="3.3"/><circle cx="1113.5" cy="1477.2" r="3.3"/><circle cx="1150.4" cy="1472.6" r="3.3"/><circle cx="1200.5" cy="1493.7" r="3.3"/><circle cx="1173.3" cy="1456.6" r="3.3"/><circle cx="1169.8" cy="1482.9" r="3.3"/><circle cx="1194.8" cy="1407.8" r="3.3"/><circle cx="1221.1" cy="1585.0" r="3.3"/><circle cx="1136.7" cy="1469.6" r="3.3"/><circle cx="1202.5" cy="1515.8" r="3.3"/><circle cx="1199.2" cy="1447.7" r="3.3"/><circle cx="1156.3" cy="1440.5" r="3.3"/><circle cx="1139.8" cy="1467.0" r="3.3"/><circle cx="1180.9" cy="1472.2" r="3.3"/><circle cx="1162.7" cy="1514.6" r="3.3"/><circle cx="1129.2" cy="1513.9" r="3.3"/><circle cx="1124.6" cy="1461.1" r="3.3"/><circle cx="1172.2" cy="1466.5" r="3.3"/><circle cx="1115.8" cy="1459.4" r="3.3"/><circle cx="1172.6" cy="1472.5" r="3.3"/><circle cx="1145.2" cy="1451.1" r="3.3"/><circle cx="1180.6" cy="1510.5" r="3.3"/><circle cx="1198.3" cy="1494.3" r="3.3"/><circle cx="1192.7" cy="1455.7" r="3.3"/><circle cx="1172.7" cy="1512.1" r="3.3"/><circle cx="1193.5" cy="1506.0" r="3.3"/><circle cx="1182.2" cy="1439.1" r="3.3"/><circle cx="1136.9" cy="1507.7" r="3.3"/><circle cx="1197.4" cy="1477.1" r="3.3"/><circle cx="1231.0" cy="1454.3" r="3.3"/><circle cx="1176.1" cy="1470.8" r="3.3"/><circle cx="1159.7" cy="1405.2" r="3.3"/><circle cx="1103.0" cy="1454.9" r="3.3"/><circle cx="1122.2" cy="1512.2" r="3.3"/><circle cx="1182.1" cy="1449.9" r="3.3"/><circle cx="1152.3" cy="1491.9" r="3.3"/><circle cx="1198.4" cy="1497.5" r="3.3"/><circle cx="1148.6" cy="1377.9" r="3.3"/><circle cx="1154.5" cy="1474.7" r="3.3"/><circle cx="1137.7" cy="1403.8" r="3.3"/><circle cx="1198.8" cy="1489.9" r="3.3"/><circle cx="1143.0" cy="1496.6" r="3.3"/><circle cx="1200.9" cy="1446.2" r="3.3"/><circle cx="1205.1" cy="1410.0" r="3.3"/><circle cx="1137.1" cy="1377.8" r="3.3"/><circle cx="1115.3" cy="1465.6" r="3.3"/><circle cx="1144.5" cy="1515.7" r="3.3"/><circle cx="1177.4" cy="1445.7" r="3.3"/><circle cx="1196.4" cy="1476.9" r="3.3"/><circle cx="1156.5" cy="1522.7" r="3.3"/><circle cx="1152.7" cy="1477.4" r="3.3"/><circle cx="1222.1" cy="1463.5" r="3.3"/><circle cx="1196.3" cy="1454.0" r="3.3"/><circle cx="1177.3" cy="1466.4" r="3.3"/><circle cx="1154.5" cy="1454.3" r="3.3"/><circle cx="1173.7" cy="1455.9" r="3.3"/><circle cx="1192.0" cy="1513.5" r="3.3"/><circle cx="1129.4" cy="1500.9" r="3.3"/><circle cx="1184.0" cy="1460.5" r="3.3"/><circle cx="1217.1" cy="1563.3" r="3.3"/><circle cx="1115.9" cy="1417.5" r="3.3"/><circle cx="1228.0" cy="1521.1" r="3.3"/><circle cx="1152.9" cy="1525.9" r="3.3"/><circle cx="1187.3" cy="1418.4" r="3.3"/><circle cx="1174.5" cy="1421.6" r="3.3"/><circle cx="1165.1" cy="1428.5" r="3.3"/><circle cx="1151.4" cy="1496.0" r="3.3"/><circle cx="1155.8" cy="1483.7" r="3.3"/><circle cx="1200.0" cy="1433.8" r="3.3"/><circle cx="1189.0" cy="1477.8" r="3.3"/><circle cx="1150.8" cy="1498.6" r="3.3"/><circle cx="1132.1" cy="1483.5" r="3.3"/><circle cx="1209.7" cy="1500.5" r="3.3"/><circle cx="1163.3" cy="1457.9" r="3.3"/><circle cx="1142.9" cy="1514.1" r="3.3"/><circle cx="1186.3" cy="1519.5" r="3.3"/><circle cx="1178.7" cy="1449.8" r="3.3"/><circle cx="1170.4" cy="1497.0" r="3.3"/><circle cx="1150.9" cy="1490.1" r="3.3"/><circle cx="1190.2" cy="1500.9" r="3.3"/><circle cx="1149.8" cy="1529.8" r="3.3"/><circle cx="1191.2" cy="1487.7" r="3.3"/><circle cx="1177.0" cy="1453.5" r="3.3"/><circle cx="1183.1" cy="1490.7" r="3.3"/><circle cx="1106.6" cy="1478.4" r="3.3"/><circle cx="1149.8" cy="1504.3" r="3.3"/><circle cx="1161.6" cy="1533.3" r="3.3"/><circle cx="1163.6" cy="1482.7" r="3.3"/><circle cx="1144.9" cy="1496.2" r="3.3"/><circle cx="1228.5" cy="1371.3" r="3.3"/><circle cx="1185.7" cy="1484.2" r="3.3"/><circle cx="1201.0" cy="1464.4" r="3.3"/><circle cx="1248.5" cy="1497.9" r="3.3"/><circle cx="1146.9" cy="1422.7" r="3.3"/><circle cx="1176.2" cy="1457.4" r="3.3"/><circle cx="1181.1" cy="1459.2" r="3.3"/><circle cx="1136.6" cy="1446.9" r="3.3"/><circle cx="1194.6" cy="1481.3" r="3.3"/><circle cx="1187.6" cy="1453.4" r="3.3"/><circle cx="1133.4" cy="1517.9" r="3.3"/><circle cx="1122.8" cy="1418.6" r="3.3"/><circle cx="1183.8" cy="1402.1" r="3.3"/><circle cx="1165.1" cy="1532.1" r="3.3"/><circle cx="1206.1" cy="1394.0" r="3.3"/></g>
<line x1="1004.77" y1="1492.57" x2="1307.91" y2="1456.19" stroke="#6a6a6a" stroke-width="1.3" />
<rect x="998.5" y="1306.5" width="334.5" height="334.5" fill="none" stroke="#000" stroke-width="3.4"/>
<line x1="984.00" y1="1641.00" x2="998.50" y2="1641.00" stroke="#000" stroke-width="3.2" />
<line x1="998.50" y1="1641.00" x2="998.50" y2="1655.50" stroke="#000" stroke-width="3.2" />
<text font-family="Liberation Sans, sans-serif" font-weight="bold" font-size="27.80" fill="#000" transform="translate(959.10,1650.60) scale(0.9200,1)">-4</text>
<text font-family="Liberation Sans, sans-serif" font-weight="bold" font-size="27.80" fill="#000" transform="translate(984.20,1681.40) scale(0.9200,1)">-4</text>
<line x1="984.00" y1="1557.38" x2="998.50" y2="1557.38" stroke="#000" stroke-width="3.2" />
<line x1="1082.12" y1="1641.00" x2="1082.12" y2="1655.50" stroke="#000" stroke-width="3.2" />
<text font-family="Liberation Sans, sans-serif" font-weight="bold" font-size="27.80" fill="#000" transform="translate(959.98,1566.97) scale(0.9200,1)">-2</text>
<text font-family="Liberation Sans, sans-serif" font-weight="bold" font-size="27.80" fill="#000" transform="translate(1068.27,1681.40) scale(0.9200,1)">-2</text>
<line x1="984.00" y1="1473.75" x2="998.50" y2="1473.75" stroke="#000" stroke-width="3.2" />
<line x1="1165.75" y1="1641.00" x2="1165.75" y2="1655.50" stroke="#000" stroke-width="3.2" />
<text font-family="Liberation Sans, sans-serif" font-weight="bold" font-size="27.80" fill="#000" transform="translate(967.81,1483.35) scale(0.9700,1)">0</text>
<text font-family="Liberation Sans, sans-serif" font-weight="bold" font-size="27.80" fill="#000" transform="translate(1158.27,1681.40) scale(0.9700,1)">0</text>
<line x1="984.00" y1="1390.12" x2="998.50" y2="1390.12" stroke="#000" stroke-width="3.2" />
<line x1="1249.38" y1="1641.00" x2="1249.38" y2="1655.50" stroke="#000" stroke-width="3.2" />
<text font-family="Liberation Sans, sans-serif" font-weight="bold" font-size="27.80" fill="#000" transform="translate(967.78,1399.72) scale(0.9700,1)">2</text>
<text font-family="Liberation Sans, sans-serif" font-weight="bold" font-size="27.80" fill="#000" transform="translate(1241.95,1681.40) scale(0.9700,1)">2</text>
<line x1="984.00" y1="1306.50" x2="998.50" y2="1306.50" stroke="#000" stroke-width="3.2" />
<line x1="1333.00" y1="1641.00" x2="1333.00" y2="1655.50" stroke="#000" stroke-width="3.2" />
<text font-family="Liberation Sans, sans-serif" font-weight="bold" font-size="27.80" fill="#000" transform="translate(966.85,1316.10) scale(0.9700,1)">4</text>
<text font-family="Liberation Sans, sans-serif" font-weight="bold" font-size="27.80" fill="#000" transform="translate(1325.37,1681.40) scale(0.9700,1)">4</text>
<text font-family="Liberation Sans, sans-serif" font-weight="bold" font-style="italic" font-size="26.50" fill="#000" transform="translate(1121.28,1720.30) scale(0.9900,1)">CHEK2</text>
<text font-family="Liberation Sans, sans-serif" font-weight="bold" font-style="italic" font-size="29.50" fill="#000" transform="translate(931.40,1524.22) rotate(-90) scale(0.9138,1)">CXCL11</text>
<text font-family="Liberation Sans, sans-serif" font-weight="bold" font-style="italic" font-size="42.25" fill="#000" transform="translate(205.19,1854.50) scale(0.9255,1)">CXCL9</text>
<text font-family="Liberation Sans, sans-serif" font-weight="bold" font-size="34.30" fill="#000" transform="translate(48.90,2298.40) rotate(-90) scale(0.9714,1)">mRNA expression (FC)</text>
<line x1="160.95" y1="2273.00" x2="160.95" y2="2264.60" stroke="#000" stroke-width="2.2" />
<line x1="155.95" y1="2264.60" x2="165.95" y2="2264.60" stroke="#000" stroke-width="2.2" />
<rect x="145.40" y="2275.00" width="30.50" height="34.20" fill="#fafafa" stroke="#000" stroke-width="4.0"/>
<line x1="214.60" y1="2068.40" x2="214.60" y2="2051.70" stroke="#000" stroke-width="2.2" />
<line x1="209.60" y1="2051.70" x2="219.60" y2="2051.70" stroke="#000" stroke-width="2.2" />
<rect x="198.40" y="2070.40" width="31.80" height="238.80" fill="#000" stroke="#000" stroke-width="4.0"/>
<line x1="268.25" y1="2237.00" x2="268.25" y2="2211.60" stroke="#000" stroke-width="2.2" />
<line x1="263.25" y1="2211.60" x2="273.25" y2="2211.60" stroke="#000" stroke-width="2.2" />
<rect x="252.70" y="2239.00" width="30.50" height="70.20" fill="#666666" stroke="#000" stroke-width="4.0"/>
<line x1="320.95" y1="2134.80" x2="320.95" y2="2104.70" stroke="#000" stroke-width="2.2" />
<line x1="315.95" y1="2104.70" x2="325.95" y2="2104.70" stroke="#000" stroke-width="2.2" />
<rect x="305.40" y="2136.80" width="30.50" height="172.40" fill="#999999" stroke="#000" stroke-width="4.0"/>
<line x1="374.95" y1="2073.50" x2="374.95" y2="2022.70" stroke="#000" stroke-width="2.2" />
<line x1="369.95" y1="2022.70" x2="379.95" y2="2022.70" stroke="#000" stroke-width="2.2" />
<rect x="359.40" y="2075.50" width="30.50" height="233.70" fill="#cccccc" stroke="#000" stroke-width="4.0"/>
<line x1="126.00" y1="1918.30" x2="126.00" y2="2311.20" stroke="#000" stroke-width="4.4" />
<line x1="109.00" y1="2311.20" x2="409.80" y2="2311.20" stroke="#000" stroke-width="4.2" />
<text font-family="Liberation Sans, sans-serif" font-weight="bold" font-size="34.20" fill="#000" transform="translate(88.94,2323.80) scale(0.9570,1)">0</text>
<line x1="108.50" y1="2180.73" x2="126.00" y2="2180.73" stroke="#000" stroke-width="3.8" />
<text font-family="Liberation Sans, sans-serif" font-weight="bold" font-size="34.20" fill="#000" transform="translate(88.51,2193.33) scale(0.9570,1)">5</text>
<line x1="108.50" y1="2050.27" x2="126.00" y2="2050.27" stroke="#000" stroke-width="3.8" />
<text font-family="Liberation Sans, sans-serif" font-weight="bold" font-size="34.20" fill="#000" transform="translate(70.74,2062.87) scale(0.9570,1)">10</text>
<line x1="108.50" y1="1919.80" x2="126.00" y2="1919.80" stroke="#000" stroke-width="3.8" />
<text font-family="Liberation Sans, sans-serif" font-weight="bold" font-size="34.20" fill="#000" transform="translate(70.31,1932.40) scale(0.9570,1)">15</text>
<line x1="161.00" y1="2311.20" x2="161.00" y2="2328.20" stroke="#000" stroke-width="4.0" />
<line x1="213.00" y1="2311.20" x2="213.00" y2="2328.20" stroke="#000" stroke-width="4.0" />
<line x1="267.30" y1="2311.20" x2="267.30" y2="2328.20" stroke="#000" stroke-width="4.0" />
<line x1="321.00" y1="2311.20" x2="321.00" y2="2328.20" stroke="#000" stroke-width="4.0" />
<line x1="374.60" y1="2311.20" x2="374.60" y2="2328.20" stroke="#000" stroke-width="4.0" />
<text font-family="Liberation Sans, sans-serif" font-weight="bold" font-size="31.0" text-anchor="end" transform="translate(152.0,2337.2) rotate(-45) translate(0,22.5)">(-)</text>
<text font-family="Liberation Sans, sans-serif" font-weight="bold" font-size="31.0" text-anchor="end" transform="translate(204.0,2337.2) rotate(-45) translate(0,22.5)">T-DXd</text>
<text font-family="Liberation Sans, sans-serif" font-weight="bold" font-size="31.0" text-anchor="end" transform="translate(258.3,2337.2) rotate(-45) translate(0,22.5)">KU+T-DXd</text>
<text font-family="Liberation Sans, sans-serif" font-weight="bold" font-size="31.0" text-anchor="end" transform="translate(312.0,2337.2) rotate(-45) translate(0,22.5)">VE+T-DXd</text>
<text font-family="Liberation Sans, sans-serif" font-weight="bold" font-size="31.0" text-anchor="end" transform="translate(365.6,2337.2) rotate(-45) translate(0,22.5)">UCN+T-DXd</text>
<line x1="159.30" y1="1963.40" x2="379.60" y2="1963.40" stroke="#000" stroke-width="2.7" />
<path d="M253.21,1945.94L253.21,1941.32M253.21,1945.94L257.61,1944.51M253.21,1945.94L248.82,1944.51M253.21,1945.94L250.50,1949.68M253.21,1945.94L255.93,1949.68M265.95,1945.94L265.95,1941.32M265.95,1945.94L270.35,1944.51M265.95,1945.94L261.55,1944.51M265.95,1945.94L263.23,1949.68M265.95,1945.94L268.67,1949.68M278.69,1945.94L278.69,1941.32M278.69,1945.94L283.08,1944.51M278.69,1945.94L274.29,1944.51M278.69,1945.94L275.97,1949.68M278.69,1945.94L281.40,1949.68" stroke="#000" stroke-width="2.64" stroke-linecap="round" fill="none"/>
<line x1="159.30" y1="1999.20" x2="320.90" y2="1999.20" stroke="#000" stroke-width="2.7" />
<path d="M234.20,1982.20L234.20,1978.00M234.20,1982.20L238.19,1980.90M234.20,1982.20L230.20,1980.90M234.20,1982.20L231.73,1985.60M234.20,1982.20L236.66,1985.60M246.30,1982.20L246.30,1978.00M246.30,1982.20L250.30,1980.90M246.30,1982.20L242.31,1980.90M246.30,1982.20L243.84,1985.60M246.30,1982.20L248.77,1985.60" stroke="#000" stroke-width="2.40" stroke-linecap="round" fill="none"/>
<line x1="159.30" y1="2034.50" x2="211.30" y2="2034.50" stroke="#000" stroke-width="2.7" />
<path d="M167.80,2017.40L167.80,2013.20M167.80,2017.40L171.79,2016.10M167.80,2017.40L163.80,2016.10M167.80,2017.40L165.33,2020.80M167.80,2017.40L170.26,2020.80M180.57,2017.40L180.57,2013.20M180.57,2017.40L184.56,2016.10M180.57,2017.40L176.57,2016.10M180.57,2017.40L178.10,2020.80M180.57,2017.40L183.03,2020.80M193.33,2017.40L193.33,2013.20M193.33,2017.40L197.33,2016.10M193.33,2017.40L189.34,2016.10M193.33,2017.40L190.87,2020.80M193.33,2017.40L195.80,2020.80M206.10,2017.40L206.10,2013.20M206.10,2017.40L210.10,2016.10M206.10,2017.40L202.11,2016.10M206.10,2017.40L203.64,2020.80M206.10,2017.40L208.57,2020.80" stroke="#000" stroke-width="2.40" stroke-linecap="round" fill="none"/>
<line x1="215.60" y1="2034.50" x2="267.60" y2="2034.50" stroke="#000" stroke-width="2.7" />
<path d="M226.50,2017.40L226.50,2013.20M226.50,2017.40L230.49,2016.10M226.50,2017.40L222.50,2016.10M226.50,2017.40L224.03,2020.80M226.50,2017.40L228.96,2020.80M239.40,2017.40L239.40,2013.20M239.40,2017.40L243.40,2016.10M239.40,2017.40L235.40,2016.10M239.40,2017.40L236.93,2020.80M239.40,2017.40L241.87,2020.80M252.30,2017.40L252.30,2013.20M252.30,2017.40L256.30,2016.10M252.30,2017.40L248.31,2016.10M252.30,2017.40L249.84,2020.80M252.30,2017.40L254.77,2020.80" stroke="#000" stroke-width="2.40" stroke-linecap="round" fill="none"/>
<text font-family="Liberation Sans, sans-serif" font-weight="bold" font-style="italic" font-size="41.53" fill="#000" transform="translate(631.20,1860.90) scale(0.9361,1)">CXCL10</text>
<text font-family="Liberation Sans, sans-serif" font-weight="bold" font-size="34.30" fill="#000" transform="translate(486.20,2303.99) rotate(-90) scale(0.9687,1)">mRNA expression (FC)</text>
<line x1="598.05" y1="2290.30" x2="598.05" y2="2287.90" stroke="#000" stroke-width="2.2" />
<line x1="593.05" y1="2287.90" x2="603.05" y2="2287.90" stroke="#000" stroke-width="2.2" />
<rect x="581.80" y="2292.30" width="31.90" height="22.40" fill="#fafafa" stroke="#000" stroke-width="4.0"/>
<line x1="651.20" y1="2119.50" x2="651.20" y2="2106.20" stroke="#000" stroke-width="2.2" />
<line x1="646.20" y1="2106.20" x2="656.20" y2="2106.20" stroke="#000" stroke-width="2.2" />
<rect x="634.90" y="2121.50" width="32.00" height="193.20" fill="#000" stroke="#000" stroke-width="4.0"/>
<line x1="704.30" y1="2276.60" x2="704.30" y2="2268.70" stroke="#000" stroke-width="2.2" />
<line x1="699.30" y1="2268.70" x2="709.30" y2="2268.70" stroke="#000" stroke-width="2.2" />
<rect x="688.70" y="2278.60" width="30.60" height="36.10" fill="#666666" stroke="#000" stroke-width="4.0"/>
<line x1="757.60" y1="2150.40" x2="757.60" y2="2130.90" stroke="#000" stroke-width="2.2" />
<line x1="752.60" y1="2130.90" x2="762.60" y2="2130.90" stroke="#000" stroke-width="2.2" />
<rect x="742.20" y="2152.40" width="30.20" height="162.30" fill="#999999" stroke="#000" stroke-width="4.0"/>
<line x1="811.10" y1="2045.70" x2="811.10" y2="2001.80" stroke="#000" stroke-width="2.2" />
<line x1="806.10" y1="2001.80" x2="816.10" y2="2001.80" stroke="#000" stroke-width="2.2" />
<rect x="796.00" y="2047.70" width="29.60" height="267.00" fill="#cccccc" stroke="#000" stroke-width="4.0"/>
<line x1="562.40" y1="1926.40" x2="562.40" y2="2316.70" stroke="#000" stroke-width="4.4" />
<line x1="546.30" y1="2316.70" x2="846.20" y2="2316.70" stroke="#000" stroke-width="4.2" />
<text font-family="Liberation Sans, sans-serif" font-weight="bold" font-size="34.20" fill="#000" transform="translate(525.34,2329.30) scale(0.9570,1)">0</text>
<line x1="544.90" y1="2219.50" x2="562.40" y2="2219.50" stroke="#000" stroke-width="3.8" />
<text font-family="Liberation Sans, sans-serif" font-weight="bold" font-size="34.20" fill="#000" transform="translate(524.91,2232.10) scale(0.9570,1)">5</text>
<line x1="544.90" y1="2122.30" x2="562.40" y2="2122.30" stroke="#000" stroke-width="3.8" />
<text font-family="Liberation Sans, sans-serif" font-weight="bold" font-size="34.20" fill="#000" transform="translate(507.14,2134.90) scale(0.9570,1)">10</text>
<line x1="544.90" y1="2025.10" x2="562.40" y2="2025.10" stroke="#000" stroke-width="3.8" />
<text font-family="Liberation Sans, sans-serif" font-weight="bold" font-size="34.20" fill="#000" transform="translate(506.71,2037.70) scale(0.9570,1)">15</text>
<line x1="544.90" y1="1927.90" x2="562.40" y2="1927.90" stroke="#000" stroke-width="3.8" />
<text font-family="Liberation Sans, sans-serif" font-weight="bold" font-size="34.20" fill="#000" transform="translate(507.14,1940.50) scale(0.9570,1)">20</text>
<line x1="597.70" y1="2316.70" x2="597.70" y2="2333.70" stroke="#000" stroke-width="4.0" />
<line x1="650.80" y1="2316.70" x2="650.80" y2="2333.70" stroke="#000" stroke-width="4.0" />
<line x1="704.00" y1="2316.70" x2="704.00" y2="2333.70" stroke="#000" stroke-width="4.0" />
<line x1="757.10" y1="2316.70" x2="757.10" y2="2333.70" stroke="#000" stroke-width="4.0" />
<line x1="810.20" y1="2316.70" x2="810.20" y2="2333.70" stroke="#000" stroke-width="4.0" />
<text font-family="Liberation Sans, sans-serif" font-weight="bold" font-size="31.0" text-anchor="end" transform="translate(588.7,2342.7) rotate(-45) translate(0,22.5)">(-)</text>
<text font-family="Liberation Sans, sans-serif" font-weight="bold" font-size="31.0" text-anchor="end" transform="translate(641.8,2342.7) rotate(-45) translate(0,22.5)">T-DXd</text>
<text font-family="Liberation Sans, sans-serif" font-weight="bold" font-size="31.0" text-anchor="end" transform="translate(695.0,2342.7) rotate(-45) translate(0,22.5)">KU+T-DXd</text>
<text font-family="Liberation Sans, sans-serif" font-weight="bold" font-size="31.0" text-anchor="end" transform="translate(748.1,2342.7) rotate(-45) translate(0,22.5)">VE+T-DXd</text>
<text font-family="Liberation Sans, sans-serif" font-weight="bold" font-size="31.0" text-anchor="end" transform="translate(801.2,2342.7) rotate(-45) translate(0,22.5)">UCN+T-DXd</text>
<line x1="596.70" y1="1979.90" x2="815.40" y2="1979.90" stroke="#000" stroke-width="2.7" />
<path d="M687.36,1963.49L687.36,1958.91M687.36,1963.49L691.72,1962.07M687.36,1963.49L683.01,1962.07M687.36,1963.49L684.67,1967.19M687.36,1963.49L690.05,1967.19M699.59,1963.49L699.59,1958.91M699.59,1963.49L703.94,1962.07M699.59,1963.49L695.23,1962.07M699.59,1963.49L696.90,1967.19M699.59,1963.49L702.28,1967.19M711.81,1963.49L711.81,1958.91M711.81,1963.49L716.17,1962.07M711.81,1963.49L707.46,1962.07M711.81,1963.49L709.12,1967.19M711.81,1963.49L714.50,1967.19M724.04,1963.49L724.04,1958.91M724.04,1963.49L728.39,1962.07M724.04,1963.49L719.68,1962.07M724.04,1963.49L721.35,1967.19M724.04,1963.49L726.73,1967.19" stroke="#000" stroke-width="2.62" stroke-linecap="round" fill="none"/>
<line x1="596.70" y1="2047.40" x2="757.10" y2="2047.40" stroke="#000" stroke-width="2.7" />
<path d="M665.11,2032.74L665.11,2028.12M665.11,2032.74L669.51,2031.31M665.11,2032.74L660.72,2031.31M665.11,2032.74L662.40,2036.48M665.11,2032.74L667.83,2036.48M677.40,2032.74L677.40,2028.12M677.40,2032.74L681.80,2031.31M677.40,2032.74L673.00,2031.31M677.40,2032.74L674.68,2036.48M677.40,2032.74L680.12,2036.48M689.69,2032.74L689.69,2028.12M689.69,2032.74L694.08,2031.31M689.69,2032.74L685.29,2031.31M689.69,2032.74L686.97,2036.48M689.69,2032.74L692.40,2036.48" stroke="#000" stroke-width="2.64" stroke-linecap="round" fill="none"/>
<line x1="596.70" y1="2083.40" x2="648.10" y2="2083.40" stroke="#000" stroke-width="2.7" />
<path d="M605.11,2066.34L605.11,2061.72M605.11,2066.34L609.51,2064.91M605.11,2066.34L600.72,2064.91M605.11,2066.34L602.40,2070.08M605.11,2066.34L607.83,2070.08M617.30,2066.34L617.30,2061.72M617.30,2066.34L621.70,2064.91M617.30,2066.34L612.91,2064.91M617.30,2066.34L614.59,2070.08M617.30,2066.34L620.02,2070.08M629.50,2066.34L629.50,2061.72M629.50,2066.34L633.89,2064.91M629.50,2066.34L625.10,2064.91M629.50,2066.34L626.78,2070.08M629.50,2066.34L632.21,2070.08M641.69,2066.34L641.69,2061.72M641.69,2066.34L646.08,2064.91M641.69,2066.34L637.29,2064.91M641.69,2066.34L638.97,2070.08M641.69,2066.34L644.40,2070.08" stroke="#000" stroke-width="2.64" stroke-linecap="round" fill="none"/>
<line x1="652.50" y1="2083.40" x2="704.00" y2="2083.40" stroke="#000" stroke-width="2.7" />
<path d="M660.01,2066.34L660.01,2061.72M660.01,2066.34L664.41,2064.91M660.01,2066.34L655.62,2064.91M660.01,2066.34L657.30,2070.08M660.01,2066.34L662.73,2070.08M672.54,2066.34L672.54,2061.72M672.54,2066.34L676.93,2064.91M672.54,2066.34L668.14,2064.91M672.54,2066.34L669.82,2070.08M672.54,2066.34L675.25,2070.08M685.06,2066.34L685.06,2061.72M685.06,2066.34L689.46,2064.91M685.06,2066.34L680.67,2064.91M685.06,2066.34L682.35,2070.08M685.06,2066.34L687.78,2070.08M697.59,2066.34L697.59,2061.72M697.59,2066.34L701.98,2064.91M697.59,2066.34L693.19,2064.91M697.59,2066.34L694.87,2070.08M697.59,2066.34L700.30,2070.08" stroke="#000" stroke-width="2.64" stroke-linecap="round" fill="none"/>
<text font-family="Liberation Sans, sans-serif" font-weight="bold" font-style="italic" font-size="41.53" fill="#000" transform="translate(1073.91,1860.90) scale(0.9336,1)">CXCL11</text>
<text font-family="Liberation Sans, sans-serif" font-weight="bold" font-size="34.30" fill="#000" transform="translate(927.90,2305.80) rotate(-90) scale(0.9725,1)">mRNA expression (FC)</text>
<line x1="1039.75" y1="2306.50" x2="1039.75" y2="2304.10" stroke="#000" stroke-width="2.2" />
<line x1="1034.75" y1="2304.10" x2="1044.75" y2="2304.10" stroke="#000" stroke-width="2.2" />
<rect x="1024.10" y="2308.50" width="30.70" height="8.10" fill="#fafafa" stroke="#000" stroke-width="4.0"/>
<line x1="1093.10" y1="2221.20" x2="1093.10" y2="2214.60" stroke="#000" stroke-width="2.2" />
<line x1="1088.10" y1="2214.60" x2="1098.10" y2="2214.60" stroke="#000" stroke-width="2.2" />
<rect x="1077.40" y="2223.20" width="30.80" height="93.40" fill="#000" stroke="#000" stroke-width="4.0"/>
<line x1="1146.45" y1="2295.50" x2="1146.45" y2="2290.40" stroke="#000" stroke-width="2.2" />
<line x1="1141.45" y1="2290.40" x2="1151.45" y2="2290.40" stroke="#000" stroke-width="2.2" />
<rect x="1130.80" y="2297.50" width="30.70" height="19.10" fill="#666666" stroke="#000" stroke-width="4.0"/>
<line x1="1200.45" y1="2069.20" x2="1200.45" y2="2042.30" stroke="#000" stroke-width="2.2" />
<line x1="1195.45" y1="2042.30" x2="1205.45" y2="2042.30" stroke="#000" stroke-width="2.2" />
<rect x="1185.80" y="2071.20" width="28.70" height="245.40" fill="#999999" stroke="#000" stroke-width="4.0"/>
<line x1="1253.00" y1="2212.60" x2="1253.00" y2="2196.40" stroke="#000" stroke-width="2.2" />
<line x1="1248.00" y1="2196.40" x2="1258.00" y2="2196.40" stroke="#000" stroke-width="2.2" />
<rect x="1237.50" y="2214.60" width="30.40" height="102.00" fill="#cccccc" stroke="#000" stroke-width="4.0"/>
<line x1="1003.00" y1="1926.50" x2="1003.00" y2="2318.60" stroke="#000" stroke-width="4.4" />
<line x1="988.00" y1="2318.60" x2="1288.60" y2="2318.60" stroke="#000" stroke-width="4.2" />
<text font-family="Liberation Sans, sans-serif" font-weight="bold" font-size="34.20" fill="#000" transform="translate(965.94,2331.20) scale(0.9570,1)">0</text>
<line x1="985.50" y1="2220.95" x2="1003.00" y2="2220.95" stroke="#000" stroke-width="3.8" />
<text font-family="Liberation Sans, sans-serif" font-weight="bold" font-size="34.20" fill="#000" transform="translate(947.74,2233.55) scale(0.9570,1)">10</text>
<line x1="985.50" y1="2123.30" x2="1003.00" y2="2123.30" stroke="#000" stroke-width="3.8" />
<text font-family="Liberation Sans, sans-serif" font-weight="bold" font-size="34.20" fill="#000" transform="translate(947.74,2135.90) scale(0.9570,1)">20</text>
<line x1="985.50" y1="2025.65" x2="1003.00" y2="2025.65" stroke="#000" stroke-width="3.8" />
<text font-family="Liberation Sans, sans-serif" font-weight="bold" font-size="34.20" fill="#000" transform="translate(947.74,2038.25) scale(0.9570,1)">30</text>
<line x1="985.50" y1="1928.00" x2="1003.00" y2="1928.00" stroke="#000" stroke-width="3.8" />
<text font-family="Liberation Sans, sans-serif" font-weight="bold" font-size="34.20" fill="#000" transform="translate(947.74,1940.60) scale(0.9570,1)">40</text>
<line x1="1039.00" y1="2318.60" x2="1039.00" y2="2335.60" stroke="#000" stroke-width="4.0" />
<line x1="1092.40" y1="2318.60" x2="1092.40" y2="2335.60" stroke="#000" stroke-width="4.0" />
<line x1="1145.80" y1="2318.60" x2="1145.80" y2="2335.60" stroke="#000" stroke-width="4.0" />
<line x1="1199.10" y1="2318.60" x2="1199.10" y2="2335.60" stroke="#000" stroke-width="4.0" />
<line x1="1252.50" y1="2318.60" x2="1252.50" y2="2335.60" stroke="#000" stroke-width="4.0" />
<text font-family="Liberation Sans, sans-serif" font-weight="bold" font-size="31.0" text-anchor="end" transform="translate(1030.0,2344.6) rotate(-45) translate(0,22.5)">(-)</text>
<text font-family="Liberation Sans, sans-serif" font-weight="bold" font-size="31.0" text-anchor="end" transform="translate(1083.4,2344.6) rotate(-45) translate(0,22.5)">T-DXd</text>
<text font-family="Liberation Sans, sans-serif" font-weight="bold" font-size="31.0" text-anchor="end" transform="translate(1136.8,2344.6) rotate(-45) translate(0,22.5)">KU+T-DXd</text>
<text font-family="Liberation Sans, sans-serif" font-weight="bold" font-size="31.0" text-anchor="end" transform="translate(1190.1,2344.6) rotate(-45) translate(0,22.5)">VE+T-DXd</text>
<text font-family="Liberation Sans, sans-serif" font-weight="bold" font-size="31.0" text-anchor="end" transform="translate(1243.5,2344.6) rotate(-45) translate(0,22.5)">UCN+T-DXd</text>
<line x1="1041.10" y1="1952.10" x2="1261.00" y2="1952.10" stroke="#000" stroke-width="2.7" />
<path d="M1134.21,1934.94L1134.21,1930.32M1134.21,1934.94L1138.61,1933.51M1134.21,1934.94L1129.82,1933.51M1134.21,1934.94L1131.50,1938.68M1134.21,1934.94L1136.93,1938.68M1146.75,1934.94L1146.75,1930.32M1146.75,1934.94L1151.15,1933.51M1146.75,1934.94L1142.35,1933.51M1146.75,1934.94L1144.03,1938.68M1146.75,1934.94L1149.47,1938.68M1159.29,1934.94L1159.29,1930.32M1159.29,1934.94L1163.68,1933.51M1159.29,1934.94L1154.89,1933.51M1159.29,1934.94L1156.57,1938.68M1159.29,1934.94L1162.00,1938.68" stroke="#000" stroke-width="2.64" stroke-linecap="round" fill="none"/>
<line x1="1041.10" y1="1988.30" x2="1201.90" y2="1988.30" stroke="#000" stroke-width="2.7" />
<path d="M1101.91,1971.14L1101.91,1966.52M1101.91,1971.14L1106.31,1969.71M1101.91,1971.14L1097.52,1969.71M1101.91,1971.14L1099.20,1974.88M1101.91,1971.14L1104.63,1974.88M1114.17,1971.14L1114.17,1966.52M1114.17,1971.14L1118.57,1969.71M1114.17,1971.14L1109.78,1969.71M1114.17,1971.14L1111.46,1974.88M1114.17,1971.14L1116.89,1974.88M1126.43,1971.14L1126.43,1966.52M1126.43,1971.14L1130.82,1969.71M1126.43,1971.14L1122.03,1969.71M1126.43,1971.14L1123.71,1974.88M1126.43,1971.14L1129.14,1974.88M1138.69,1971.14L1138.69,1966.52M1138.69,1971.14L1143.08,1969.71M1138.69,1971.14L1134.29,1969.71M1138.69,1971.14L1135.97,1974.88M1138.69,1971.14L1141.40,1974.88" stroke="#000" stroke-width="2.64" stroke-linecap="round" fill="none"/>
<line x1="1090.00" y1="2025.80" x2="1201.90" y2="2025.80" stroke="#000" stroke-width="2.7" />
<path d="M1126.92,2008.16L1126.92,2003.37M1126.92,2008.16L1131.48,2006.68M1126.92,2008.16L1122.37,2006.68M1126.92,2008.16L1124.11,2012.03M1126.92,2008.16L1129.74,2012.03M1139.04,2008.16L1139.04,2003.37M1139.04,2008.16L1143.60,2006.68M1139.04,2008.16L1134.49,2006.68M1139.04,2008.16L1136.23,2012.03M1139.04,2008.16L1141.86,2012.03M1151.16,2008.16L1151.16,2003.37M1151.16,2008.16L1155.71,2006.68M1151.16,2008.16L1146.60,2006.68M1151.16,2008.16L1148.34,2012.03M1151.16,2008.16L1153.97,2012.03M1163.28,2008.16L1163.28,2003.37M1163.28,2008.16L1167.83,2006.68M1163.28,2008.16L1158.72,2006.68M1163.28,2008.16L1160.46,2012.03M1163.28,2008.16L1166.09,2012.03" stroke="#000" stroke-width="2.74" stroke-linecap="round" fill="none"/>
<line x1="1037.70" y1="2192.30" x2="1090.00" y2="2192.30" stroke="#000" stroke-width="2.7" />
<path d="M1061.00,2171.62L1061.00,2167.25M1061.00,2171.62L1065.16,2170.27M1061.00,2171.62L1056.85,2170.27M1061.00,2171.62L1058.43,2175.15M1061.00,2171.62L1063.57,2175.15M1072.60,2171.62L1072.60,2167.25M1072.60,2171.62L1076.75,2170.27M1072.60,2171.62L1068.44,2170.27M1072.60,2171.62L1070.03,2175.15M1072.60,2171.62L1075.17,2175.15" stroke="#000" stroke-width="2.50" stroke-linecap="round" fill="none"/>
<line x1="1094.10" y1="2192.30" x2="1146.10" y2="2192.30" stroke="#000" stroke-width="2.7" />
<path d="M1114.40,2171.62L1114.40,2167.25M1114.40,2171.62L1118.56,2170.27M1114.40,2171.62L1110.25,2170.27M1114.40,2171.62L1111.83,2175.15M1114.40,2171.62L1116.97,2175.15M1125.90,2171.62L1125.90,2167.25M1125.90,2171.62L1130.05,2170.27M1125.90,2171.62L1121.74,2170.27M1125.90,2171.62L1123.33,2175.15M1125.90,2171.62L1128.47,2175.15" stroke="#000" stroke-width="2.50" stroke-linecap="round" fill="none"/>
</svg></div></body></html>
